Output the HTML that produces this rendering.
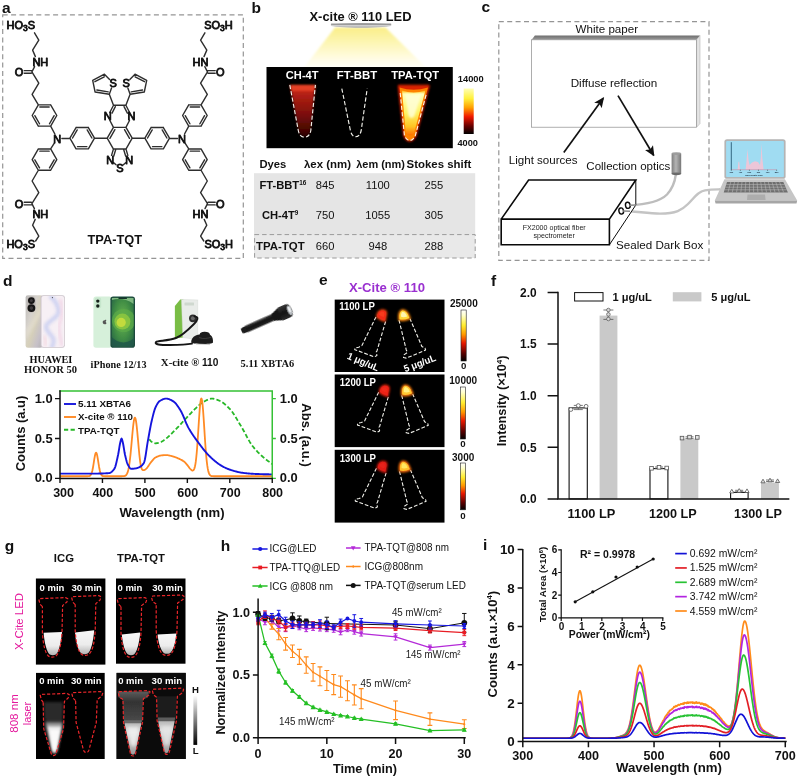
<!DOCTYPE html>
<html lang="en"><head><meta charset="utf-8"><title>TPA-TQT figure</title>
<style>
html,body{margin:0;padding:0;background:#fff;}
body{width:800px;height:778px;overflow:hidden;}
svg{display:block;font-family:"Liberation Sans", sans-serif;}
</style></head><body>
<svg width="800" height="778" viewBox="0 0 800 778">
<defs>
<linearGradient id="bCone" x1="0" y1="0" x2="0" y2="1"><stop offset="0" stop-color="#faee88"/><stop offset="0.4" stop-color="#fdf6b6"/><stop offset="0.8" stop-color="#fffce6"/><stop offset="1" stop-color="#fffff8"/></linearGradient>
<linearGradient id="bLamp" x1="0" y1="0" x2="0" y2="1"><stop offset="0" stop-color="#9a9a9a"/><stop offset="0.5" stop-color="#d2d2d2"/><stop offset="1" stop-color="#aaaaaa"/></linearGradient>
<linearGradient id="bHot" x1="0" y1="0" x2="0" y2="1"><stop offset="0" stop-color="#ffffb4"/><stop offset="0.22" stop-color="#fff03c"/><stop offset="0.42" stop-color="#ffa000"/><stop offset="0.62" stop-color="#f01800"/><stop offset="0.82" stop-color="#6a0000"/><stop offset="1" stop-color="#000"/></linearGradient>
<linearGradient id="bT1" x1="0" y1="0" x2="0" y2="1"><stop offset="0" stop-color="#e03a22"/><stop offset="0.14" stop-color="#b82216"/><stop offset="0.5" stop-color="#86120b"/><stop offset="0.85" stop-color="#4a0604"/><stop offset="1" stop-color="#240101"/></linearGradient>
<linearGradient id="bT3" x1="0" y1="0" x2="0" y2="1"><stop offset="0" stop-color="#ffb000"/><stop offset="0.08" stop-color="#ffffb4"/><stop offset="0.5" stop-color="#fff262"/><stop offset="0.8" stop-color="#ffc424"/><stop offset="1" stop-color="#ff7000"/></linearGradient>
<filter id="bBlur1" x="-30%" y="-30%" width="160%" height="160%"><feGaussianBlur stdDeviation="1.2"/></filter>
<filter id="bBlur2" x="-30%" y="-30%" width="160%" height="160%"><feGaussianBlur stdDeviation="2.2"/></filter>
<filter id="bBlur3" x="-30%" y="-30%" width="160%" height="160%"><feGaussianBlur stdDeviation="0.7"/></filter>
<clipPath id="bClip"><rect x="266.5" y="67" width="186.3" height="81.2"/></clipPath>
<linearGradient id="cTop" x1="0" y1="0" x2="0" y2="1"><stop offset="0" stop-color="#6e6e6e"/><stop offset="1" stop-color="#9a9a9a"/></linearGradient>
<linearGradient id="cCyl" x1="0" y1="0" x2="1" y2="0"><stop offset="0" stop-color="#7d7d7d"/><stop offset="0.45" stop-color="#b4b4b4"/><stop offset="1" stop-color="#777"/></linearGradient>
<marker id="cArr" viewBox="0 0 10 10" refX="8.5" refY="5" markerWidth="6.2" markerHeight="6.2" orient="auto-start-reverse"><path d="M0 0.6 L10 5 L0 9.4 L2.2 5 Z" fill="#111"/></marker>
<linearGradient id="dHwB" x1="0" y1="0" x2="1" y2="1"><stop offset="0" stop-color="#b9b7b6"/><stop offset="0.35" stop-color="#d6d2cc"/><stop offset="0.55" stop-color="#d6d0ba"/><stop offset="0.8" stop-color="#c6c0c8"/><stop offset="1" stop-color="#b2b0b0"/></linearGradient>
<linearGradient id="dHwF" x1="0" y1="0" x2="1" y2="1"><stop offset="0" stop-color="#ede6f2"/><stop offset="0.4" stop-color="#f6e9ef"/><stop offset="0.7" stop-color="#e4dcf2"/><stop offset="1" stop-color="#f3e4ea"/></linearGradient>
<radialGradient id="dIp" cx="0.5" cy="0.45" r="0.8"><stop offset="0" stop-color="#6db650"/><stop offset="0.5" stop-color="#3f8c44"/><stop offset="1" stop-color="#1c5246"/></radialGradient>
<linearGradient id="dFl" x1="0" y1="0" x2="0" y2="1"><stop offset="0" stop-color="#3a3a3a"/><stop offset="0.5" stop-color="#111"/><stop offset="1" stop-color="#2a2a2a"/></linearGradient>
<clipPath id="dHwClip"><rect x="41.5" y="295.9" width="22.6" height="51.2" rx="2"/></clipPath>
<clipPath id="dIpClip"><rect x="111.7" y="297.7" width="22" height="48.7" rx="1.8"/></clipPath>
<filter id="dSoft" x="-10%" y="-10%" width="120%" height="120%"><feGaussianBlur stdDeviation="0.5"/></filter>
<filter id="dSoft2" x="-20%" y="-20%" width="140%" height="140%"><feGaussianBlur stdDeviation="1.6"/></filter>
<clipPath id="dClip"><rect x="60" y="385" width="212.85" height="95"/></clipPath>
<linearGradient id="eHot" x1="0" y1="0" x2="0" y2="1"><stop offset="0" stop-color="#ffffff"/><stop offset="0.1" stop-color="#ffffd0"/><stop offset="0.3" stop-color="#ffee30"/><stop offset="0.48" stop-color="#ff9a00"/><stop offset="0.65" stop-color="#e81800"/><stop offset="0.85" stop-color="#5a0000"/><stop offset="1" stop-color="#000"/></linearGradient>
<filter id="eB" x="-30%" y="-30%" width="160%" height="160%"><feGaussianBlur stdDeviation="0.55"/></filter>
<filter id="eB2" x="-30%" y="-30%" width="160%" height="160%"><feGaussianBlur stdDeviation="0.9"/></filter>
<linearGradient id="gLiq" x1="0" y1="0" x2="0" y2="1"><stop offset="0" stop-color="#f8f8f8"/><stop offset="0.6" stop-color="#ececec"/><stop offset="1" stop-color="#b4b4b4"/></linearGradient>
<linearGradient id="gLiq2" x1="0" y1="0" x2="0" y2="1"><stop offset="0" stop-color="#b8b8b8"/><stop offset="0.3" stop-color="#dedede"/><stop offset="1" stop-color="#9c9c9c"/></linearGradient>
<linearGradient id="gBar" x1="0" y1="0" x2="0" y2="1"><stop offset="0" stop-color="#fff"/><stop offset="1" stop-color="#000"/></linearGradient>
<linearGradient id="gBody" x1="0" y1="0" x2="0" y2="1"><stop offset="0" stop-color="#5c5c5c"/><stop offset="0.35" stop-color="#333"/><stop offset="1" stop-color="#4a4a4a"/></linearGradient>
<filter id="gB" x="-30%" y="-30%" width="160%" height="160%"><feGaussianBlur stdDeviation="0.7"/></filter>
<filter id="gB1" x="-30%" y="-30%" width="160%" height="160%"><feGaussianBlur stdDeviation="1.1"/></filter>
<filter id="gB2" x="-30%" y="-30%" width="160%" height="160%"><feGaussianBlur stdDeviation="1.8"/></filter>
<clipPath id="iClip"><rect x="522.8" y="545" width="263.48" height="197.6"/></clipPath>
</defs>
<rect x="0" y="0" width="800" height="778" fill="#fff"/>
<g id="panel_a">
<path d="M56.8 115.5L50.65 126.15M50.65 126.15L38.35 126.15M38.35 126.15L32.2 115.5M32.2 115.5L38.35 104.85M38.35 104.85L50.65 104.85M50.65 104.85L56.8 115.5M39.83 107.05L49.17 107.05M54.16 115.68L49.48 123.77M39.52 123.77L34.84 115.68M56.8 159.6L50.65 170.25M50.65 170.25L38.35 170.25M38.35 170.25L32.2 159.6M32.2 159.6L38.35 148.95M38.35 148.95L50.65 148.95M50.65 148.95L56.8 159.6M39.83 151.15L49.17 151.15M54.16 159.78L49.48 167.87M39.52 167.87L34.84 159.78M94.5 138.2L88.35 148.85M88.35 148.85L76.05 148.85M76.05 148.85L69.9 138.2M69.9 138.2L76.05 127.55M76.05 127.55L88.35 127.55M88.35 127.55L94.5 138.2M86.87 146.65L77.53 146.65M72.54 138.02L77.22 129.93M87.18 129.93L91.86 138.02M50.65 126.15L54.85 134.01M50.65 148.95L54.49 142.97M69.9 138.2L61.9 138.45M38.35 104.85L32.1 94.4M32.1 94.4L38.8 83.2M38.8 83.2L31.9 71.9M24.2 70.6L31.9 70.6M24.2 73.2L31.3 73.2M31.9 71.9L34.6 66.6M35.4 56.6L32.6 50.1M32.6 50.1L38.8 40.1M38.8 40.1L34.5 32.8M38.35 170.25L32.1 181M32.1 181L38.8 192.7M38.8 192.7L31.9 203.6M24.2 202.3L31.3 202.3M24.2 204.9L31.9 204.9M31.9 203.6L34.4 208.6M35.2 219.4L32.6 225.2M32.6 225.2L38.8 236.1M38.8 236.1L35.6 241M107.2 138.2L113.45 127.37M109.9 138.32L114.9 129.66M113.45 127.37L119.7 127.37M107.2 138.2L113.45 149.03M113.45 149.03L119.7 149.03M94.5 138.2L107.2 138.2M113.45 127.37L109.91 120.49M109.8 112.48L113.5 105.2M112.03 113.16L115.36 106.61M113.5 105.2L119.7 105.2M113.5 105.2L109.3 94.3M109.3 94.3L111.54 87.92M109.56 79.48L104.4 74.2M104.4 74.2L92.7 80.4M92.7 80.4L95.1 92M95.1 92L109.3 94.3M104.26 76.76L94.9 81.72M96.87 90.06L108.23 91.9M113.45 149.03L111.56 155.4M115.66 149.68L113.77 156.05M113.49 162.62L116.09 164.69M182.6 115.5L188.75 126.15M188.75 126.15L201.05 126.15M201.05 126.15L207.2 115.5M207.2 115.5L201.05 104.85M201.05 104.85L188.75 104.85M188.75 104.85L182.6 115.5M199.57 107.05L190.23 107.05M185.24 115.68L189.92 123.77M199.88 123.77L204.56 115.68M182.6 159.6L188.75 170.25M188.75 170.25L201.05 170.25M201.05 170.25L207.2 159.6M207.2 159.6L201.05 148.95M201.05 148.95L188.75 148.95M188.75 148.95L182.6 159.6M199.57 151.15L190.23 151.15M185.24 159.78L189.92 167.87M199.88 167.87L204.56 159.78M144.9 138.2L151.05 148.85M151.05 148.85L163.35 148.85M163.35 148.85L169.5 138.2M169.5 138.2L163.35 127.55M163.35 127.55L151.05 127.55M151.05 127.55L144.9 138.2M152.53 146.65L161.87 146.65M166.86 138.02L162.18 129.93M152.22 129.93L147.54 138.02M188.75 126.15L184.55 134.01M188.75 148.95L184.91 142.97M169.5 138.2L177.5 138.45M201.05 104.85L207.3 94.4M207.3 94.4L200.6 83.2M200.6 83.2L207.5 71.9M215.2 70.6L207.5 70.6M215.2 73.2L208.1 73.2M207.5 71.9L204.8 66.6M204 56.6L206.8 50.1M206.8 50.1L200.6 40.1M200.6 40.1L204.9 32.8M201.05 170.25L207.3 181M207.3 181L200.6 192.7M200.6 192.7L207.5 203.6M215.2 202.3L208.1 202.3M215.2 204.9L207.5 204.9M207.5 203.6L205 208.6M204.2 219.4L206.8 225.2M206.8 225.2L200.6 236.1M200.6 236.1L203.8 241M132.2 138.2L125.95 127.37M129.5 138.32L124.5 129.66M125.95 127.37L119.7 127.37M132.2 138.2L125.95 149.03M125.95 149.03L119.7 149.03M144.9 138.2L132.2 138.2M125.95 127.37L129.49 120.49M129.6 112.48L125.9 105.2M127.37 113.16L124.04 106.61M125.9 105.2L119.7 105.2M125.9 105.2L130.1 94.3M130.1 94.3L127.86 87.92M129.84 79.48L135 74.2M135 74.2L146.7 80.4M146.7 80.4L144.3 92M144.3 92L130.1 94.3M135.14 76.76L144.5 81.72M142.53 90.06L131.17 91.9M125.95 149.03L127.84 155.4M123.74 149.68L125.63 156.05M125.91 162.62L123.31 164.69" fill="none" stroke="#2e2e2e" stroke-width="1.4" stroke-linecap="round"/>
<text x="57.3" y="142.55" font-size="11" font-weight="normal" fill="#111" text-anchor="middle" stroke="#111" stroke-width="0.85" stroke-linejoin="round">N</text>
<text x="182.1" y="142.55" font-size="11" font-weight="normal" fill="#111" text-anchor="middle" stroke="#111" stroke-width="0.85" stroke-linejoin="round">N</text>
<text x="19" y="75.95" font-size="11" font-weight="normal" fill="#111" text-anchor="middle" stroke="#111" stroke-width="0.85" stroke-linejoin="round">O</text>
<text x="220.4" y="75.95" font-size="11" font-weight="normal" fill="#111" text-anchor="middle" stroke="#111" stroke-width="0.85" stroke-linejoin="round">O</text>
<text x="32.4" y="65.55" font-size="11" font-weight="normal" fill="#111" text-anchor="start" stroke="#111" stroke-width="0.85" stroke-linejoin="round">NH</text>
<text x="208.5" y="65.55" font-size="11" font-weight="normal" fill="#111" text-anchor="end" stroke="#111" stroke-width="0.85" stroke-linejoin="round">HN</text>
<text x="6.6" y="28.75" font-size="11" font-weight="normal" fill="#111" text-anchor="start" stroke="#111" stroke-width="0.85" stroke-linejoin="round">HO<tspan dy="2.4" font-size="8.5">3</tspan><tspan dy="-2.4">S</tspan></text>
<text x="232.8" y="28.75" font-size="11" font-weight="normal" fill="#111" text-anchor="end" stroke="#111" stroke-width="0.85" stroke-linejoin="round">SO<tspan dy="2.4" font-size="8.5">3</tspan><tspan dy="-2.4">H</tspan></text>
<text x="19" y="207.55" font-size="11" font-weight="normal" fill="#111" text-anchor="middle" stroke="#111" stroke-width="0.85" stroke-linejoin="round">O</text>
<text x="220.4" y="207.55" font-size="11" font-weight="normal" fill="#111" text-anchor="middle" stroke="#111" stroke-width="0.85" stroke-linejoin="round">O</text>
<text x="32.4" y="217.75" font-size="11" font-weight="normal" fill="#111" text-anchor="start" stroke="#111" stroke-width="0.85" stroke-linejoin="round">NH</text>
<text x="208.5" y="217.75" font-size="11" font-weight="normal" fill="#111" text-anchor="end" stroke="#111" stroke-width="0.85" stroke-linejoin="round">HN</text>
<text x="6.4" y="247.75" font-size="11" font-weight="normal" fill="#111" text-anchor="start" stroke="#111" stroke-width="0.85" stroke-linejoin="round">HO<tspan dy="2.4" font-size="8.5">3</tspan><tspan dy="-2.4">S</tspan></text>
<text x="233" y="247.75" font-size="11" font-weight="normal" fill="#111" text-anchor="end" stroke="#111" stroke-width="0.85" stroke-linejoin="round">SO<tspan dy="2.4" font-size="8.5">3</tspan><tspan dy="-2.4">H</tspan></text>
<text x="107.8" y="120.35" font-size="11" font-weight="normal" fill="#111" text-anchor="middle" stroke="#111" stroke-width="0.85" stroke-linejoin="round">N</text>
<text x="131.6" y="120.35" font-size="11" font-weight="normal" fill="#111" text-anchor="middle" stroke="#111" stroke-width="0.85" stroke-linejoin="round">N</text>
<text x="113.2" y="87.15" font-size="11" font-weight="normal" fill="#111" text-anchor="middle" stroke="#111" stroke-width="0.85" stroke-linejoin="round">S</text>
<text x="126.2" y="87.15" font-size="11" font-weight="normal" fill="#111" text-anchor="middle" stroke="#111" stroke-width="0.85" stroke-linejoin="round">S</text>
<text x="110.2" y="163.95" font-size="11" font-weight="normal" fill="#111" text-anchor="middle" stroke="#111" stroke-width="0.85" stroke-linejoin="round">N</text>
<text x="129.2" y="163.95" font-size="11" font-weight="normal" fill="#111" text-anchor="middle" stroke="#111" stroke-width="0.85" stroke-linejoin="round">N</text>
<text x="120" y="171.75" font-size="11" font-weight="normal" fill="#111" text-anchor="middle" stroke="#111" stroke-width="0.85" stroke-linejoin="round">S</text>
<text x="114.8" y="243.7" font-size="12.8" font-weight="bold" fill="#111" text-anchor="middle" >TPA-TQT</text>
<rect x="2.7" y="14.8" width="240.6" height="243.6" fill="none" stroke="#959595" stroke-width="1.2" stroke-dasharray="5 3.4"/>
<text x="2" y="13.2" font-size="15.5" font-weight="bold" fill="#111" text-anchor="start" >a</text>
</g>
<g id="panel_b">
<text x="360.5" y="21" font-size="11.9" font-weight="bold" fill="#111" text-anchor="middle" textLength="102" lengthAdjust="spacingAndGlyphs" >X-cite ® 110 LED</text>
<polygon points="335,27.5 385.5,27.5 426,67.5 304,67.5" fill="url(#bCone)" stroke="none" stroke-width="1" filter="url(#bBlur1)"/>
<ellipse cx="361.1" cy="25.4" rx="30.4" ry="2.3" fill="url(#bLamp)"/>
<rect x="330.8" y="23.4" width="60.6" height="1.5" fill="#9a9a9a" stroke="none" stroke-width="1" rx="0.75"/>
<rect x="266.5" y="67" width="186.3" height="81.2" fill="#000" stroke="none" stroke-width="1" />
<g clip-path="url(#bClip)">
<path d="M289.8 84.9 L315.4 84.9 L310.8 130.5 Q309.6 137 304.7 137.2 Q299.6 137 298.3 130.5 Z" fill="url(#bT1)" filter="url(#bBlur1)"/>
<path d="M290.5 85.5 L315 85.5 L314 91 L292 91 Z" fill="#ee4a2c" filter="url(#bBlur1)" opacity="0.7"/>
<path d="M289.8 84.9 L298.3 130.5 Q299.6 137 304.7 137.2 Q309.6 137 310.8 130.5 L315.4 84.9" fill="none" stroke="#f0f0ea" stroke-width="1.15" stroke-dasharray="4.2 2.2"/>
<path d="M343 85.8 L366 85.8" stroke="#5a0a06" stroke-width="1.2" filter="url(#bBlur3)"/>
<path d="M341.8 88.6 L350.4 130.5 Q351.8 136.6 355.6 136.8 Q359.8 136.6 361.2 130.5 L367.2 88.6" fill="none" stroke="#f0f0ea" stroke-width="1.15" stroke-dasharray="4.2 2.2"/>
<path d="M399 86 L428.6 86 L415.4 135.4 Q413 140.4 409.7 140.5 Q406.2 140.4 404.4 135.4 Z" fill="#d82000" stroke="#d82000" stroke-width="2.4" stroke-linejoin="round" filter="url(#bBlur1)"/>
<path d="M399.6 87.4 Q413.5 92 428 87.4 L415.4 135.4 Q413 140.4 409.7 140.5 Q406.2 140.4 404.4 135.4 Z" fill="#ff8200" filter="url(#bBlur3)"/>
<path d="M402 90.4 Q413.5 94.4 425.4 90.4 L414.2 132.5 Q410 138.4 405.8 132.5 Z" fill="url(#bT3)" filter="url(#bBlur3)"/>
<path d="M405 93.5 Q413.5 96 421.8 93.5 L414.4 116 Q411.4 120 408.6 116 Z" fill="#ffffd8" filter="url(#bBlur1)" opacity="0.85"/>
<path d="M400.2 93 L404.4 135.4 Q406.2 140.4 409.7 140.5 Q413 140.4 415.4 135.4 L426.6 93" fill="none" stroke="#fbf7ea" stroke-width="1.1" stroke-dasharray="4.2 2.2"/>
</g>
<text x="302.2" y="78.9" font-size="10.9" font-weight="bold" fill="#fff" text-anchor="middle" textLength="32.7" lengthAdjust="spacingAndGlyphs" >CH-4T</text>
<text x="357" y="78.9" font-size="10.9" font-weight="bold" fill="#fff" text-anchor="middle" textLength="40.5" lengthAdjust="spacingAndGlyphs" >FT-BBT</text>
<text x="415.1" y="79.3" font-size="10.9" font-weight="bold" fill="#fff" text-anchor="middle" textLength="47.8" lengthAdjust="spacingAndGlyphs" >TPA-TQT</text>
<rect x="463.7" y="88.5" width="10" height="45.5" fill="url(#bHot)" stroke="none" stroke-width="1" />
<text x="457.8" y="82" font-size="9.4" font-weight="bold" fill="#111" text-anchor="start" textLength="25.9" lengthAdjust="spacingAndGlyphs" >14000</text>
<text x="457.5" y="145.6" font-size="9.4" font-weight="bold" fill="#111" text-anchor="start" textLength="20.5" lengthAdjust="spacingAndGlyphs" >4000</text>
<rect x="254" y="173.2" width="221.2" height="84.8" fill="#e5e5e5" stroke="none" stroke-width="1" />
<rect x="254.6" y="234.6" width="220.6" height="23.4" fill="#e9e9e9" stroke="#9a9a9a" stroke-width="1" stroke-dasharray="4.5 3"/>
<text x="259.4" y="168.2" font-size="11.2" font-weight="bold" fill="#111" text-anchor="start" textLength="26.9" lengthAdjust="spacingAndGlyphs" >Dyes</text>
<text x="304" y="168.2" font-size="11.2" font-weight="bold" fill="#111" text-anchor="start" textLength="47" lengthAdjust="spacingAndGlyphs" >λex (nm)</text>
<text x="356.2" y="168.2" font-size="11.2" font-weight="bold" fill="#111" text-anchor="start" textLength="48.8" lengthAdjust="spacingAndGlyphs" >λem (nm)</text>
<text x="406.6" y="168.2" font-size="11.2" font-weight="bold" fill="#111" text-anchor="start" textLength="64.7" lengthAdjust="spacingAndGlyphs" >Stokes shift</text>
<text x="259.4" y="188.8" font-size="11.2" font-weight="bold" fill="#111" text-anchor="start" >FT-BBT<tspan font-size="6.4" dy="-4">16</tspan></text>
<text x="261.9" y="219" font-size="11.2" font-weight="bold" fill="#111" text-anchor="start" >CH-4T<tspan font-size="6.4" dy="-4">9</tspan></text>
<text x="256" y="250.3" font-size="11.2" font-weight="bold" fill="#111" text-anchor="start" textLength="48.7" lengthAdjust="spacingAndGlyphs" >TPA-TQT</text>
<text x="325.2" y="188.8" font-size="11.2" font-weight="normal" fill="#111" text-anchor="middle" >845</text>
<text x="377.8" y="188.8" font-size="11.2" font-weight="normal" fill="#111" text-anchor="middle" >1100</text>
<text x="433.8" y="188.8" font-size="11.2" font-weight="normal" fill="#111" text-anchor="middle" >255</text>
<text x="325.2" y="219" font-size="11.2" font-weight="normal" fill="#111" text-anchor="middle" >750</text>
<text x="377.8" y="219" font-size="11.2" font-weight="normal" fill="#111" text-anchor="middle" >1055</text>
<text x="433.8" y="219" font-size="11.2" font-weight="normal" fill="#111" text-anchor="middle" >305</text>
<text x="325.2" y="250.3" font-size="11.2" font-weight="normal" fill="#111" text-anchor="middle" >660</text>
<text x="377.8" y="250.3" font-size="11.2" font-weight="normal" fill="#111" text-anchor="middle" >948</text>
<text x="433.8" y="250.3" font-size="11.2" font-weight="normal" fill="#111" text-anchor="middle" >288</text>
<text x="251.5" y="13.4" font-size="15.5" font-weight="bold" fill="#111" text-anchor="start" >b</text>
</g>
<g id="panel_c">
<rect x="498.8" y="21.6" width="210.2" height="238.8" fill="none" stroke="#959595" stroke-width="1.2" stroke-dasharray="5 3.4"/>
<text x="481.5" y="11.6" font-size="15.5" font-weight="bold" fill="#111" text-anchor="start" >c</text>
<polygon points="531.6,39.8 534.9,35.6 700,35.6 696.6,39.8" fill="url(#cTop)" stroke="none" stroke-width="1" />
<polygon points="696.6,39.8 700,35.6 700,123.6 696.6,127.2" fill="#e4e4e4" stroke="#aaa" stroke-width="0.5" />
<rect x="531.6" y="39.8" width="165" height="87.4" fill="#fff" stroke="#8c8c8c" stroke-width="0.7" />
<text x="606.8" y="32.9" font-size="11.6" font-weight="normal" fill="#111" text-anchor="middle" textLength="62.4" lengthAdjust="spacingAndGlyphs" >White paper</text>
<text x="614" y="87" font-size="11.3" font-weight="normal" fill="#111" text-anchor="middle" textLength="86.7" lengthAdjust="spacingAndGlyphs" >Diffuse reflection</text>
<line x1="563.8" y1="152.5" x2="603.2" y2="98.2" stroke="#111" stroke-width="1.7" marker-end="url(#cArr)"/>
<line x1="618" y1="95.6" x2="653.6" y2="155.2" stroke="#111" stroke-width="1.7" marker-end="url(#cArr)"/>
<text x="508.8" y="164.3" font-size="11.5" font-weight="normal" fill="#111" text-anchor="start" textLength="68.8" lengthAdjust="spacingAndGlyphs" >Light sources</text>
<text x="586.3" y="169.5" font-size="11.5" font-weight="normal" fill="#111" text-anchor="start" textLength="84" lengthAdjust="spacingAndGlyphs" >Collection optics</text>
<path d="M675.8 174.5 C675 181 673 188 667 194.5 C660 201.5 646 204.5 629 205.3" fill="none" stroke="#bdbdbd" stroke-width="2.4" />
<path d="M622 211 C634 211 648 213.6 660 213.6 C676 213.6 682 210 688 204 C694 198 698 191.5 705 190.4 C711 189.4 716 189.4 720 189.3" fill="none" stroke="#c4c4c4" stroke-width="2.4" />
<rect x="671.6" y="153.6" width="9.6" height="20.2" fill="url(#cCyl)" stroke="none" stroke-width="1" />
<ellipse cx="676.4" cy="153.6" rx="4.8" ry="1.3" fill="#9c9c9c"/>
<ellipse cx="676.4" cy="173.8" rx="4.8" ry="1.4" fill="#6a6a6a"/>
<polygon points="501.2,219.1 528.6,180 635.8,180 635.8,205 609.4,244.8 501.2,244.8" fill="#fff" stroke="none" stroke-width="1" />
<path d="M635.8 180 L635.8 205 L609.4 244.8" fill="none" stroke="#0a0a0a" stroke-width="1" />
<path d="M501.2 219.1 L609.4 219.1 L609.4 244.8 L501.2 244.8 ZM501.2 219.1 L528.6 180 L635.8 180 L609.4 219.1" fill="none" stroke="#0a0a0a" stroke-width="1.6" stroke-linejoin="miter"/>
<ellipse cx="621.2" cy="211" rx="2.3" ry="3.1" fill="#fff" stroke="#0a0a0a" stroke-width="1.4" transform="rotate(-12 621.2 211)"/>
<ellipse cx="627.8" cy="205.3" rx="2.3" ry="3.1" fill="#fff" stroke="#0a0a0a" stroke-width="1.4" transform="rotate(-12 627.8 205.3)"/>
<path d="M629.5 205.3 L636 205" fill="none" stroke="#8a8a8a" stroke-width="1.5" />
<path d="M623 211 L630 211.2" fill="none" stroke="#8a8a8a" stroke-width="1.5" />
<text x="554.2" y="230.3" font-size="7.1" font-weight="normal" fill="#222" text-anchor="middle" textLength="63" lengthAdjust="spacingAndGlyphs" >FX2000 optical fiber</text>
<text x="554.2" y="238.4" font-size="7.1" font-weight="normal" fill="#222" text-anchor="middle" >spectrometer</text>
<text x="616" y="248.8" font-size="11.6" font-weight="normal" fill="#111" text-anchor="start" textLength="87.2" lengthAdjust="spacingAndGlyphs" >Sealed Dark Box</text>
<polygon points="724.4,179.3 784.9,179.3 797.2,200.6 714.8,200.6" fill="#c6c6c6" stroke="none" stroke-width="1" />
<polygon points="714.8,200.6 797.2,200.6 796.5,203.6 715.6,203.6" fill="#a6a6a6" stroke="none" stroke-width="1" />
<polygon points="727,182 783.3,182 787.9,192.4 723.7,192.4" fill="#6e6e6e" stroke="none" stroke-width="1" />
<path d="M726.17 184.6L784.45 184.6M725.35 187.2L785.6 187.2M724.52 189.8L786.75 189.8M730.75 182L727.98 192.4M734.51 182L732.26 192.4M738.26 182L736.54 192.4M742.01 182L740.82 192.4M745.77 182L745.1 192.4M749.52 182L749.38 192.4M753.27 182L753.66 192.4M757.03 182L757.94 192.4M760.78 182L762.22 192.4M764.53 182L766.5 192.4M768.29 182L770.78 192.4M772.04 182L775.06 192.4M775.79 182L779.34 192.4M779.55 182L783.62 192.4" fill="none" stroke="#bdbdbd" stroke-width="0.55" />
<polygon points="747.5,194.4 765,194.4 765.6,200 747,200" fill="#adadad" stroke="none" stroke-width="1" />
<rect x="724.4" y="139.2" width="61.2" height="39.6" fill="#b4b4b4" stroke="none" stroke-width="1" rx="2.6"/>
<rect x="726.1" y="140.9" width="57.8" height="36.2" fill="#a0dcf2" stroke="none" stroke-width="1" rx="1.2"/>
<path d="M737.6 169.7 L738.4 162 L739.2 161.6 L740 169.7 Z M745.6 169.7 L746.6 160 L747.5 149 L748.5 160 L749.5 165 L752 162.5 L755 161.2 L758 162 L760 165 L760.8 158 L761.5 143.6 L762.3 158 L763.6 169.7 Z" fill="#ecc6d8" stroke="none" stroke-width="1" />
<line x1="731.3" y1="169.7" x2="776.6" y2="169.7" stroke="#c890a8" stroke-width="0.6" />
<line x1="731.3" y1="142.2" x2="731.3" y2="169.9" stroke="#1a4a66" stroke-width="0.8" />
<path d="M731.3 169.7L731.3 170.9M740.36 169.7L740.36 170.9M749.42 169.7L749.42 170.9M758.48 169.7L758.48 170.9M767.54 169.7L767.54 170.9M776.6 169.7L776.6 170.9" fill="none" stroke="#355" stroke-width="0.6" />
<text x="731.3" y="173.2" font-size="2.2" font-weight="bold" fill="#234" text-anchor="middle" >300</text>
<text x="740.36" y="173.2" font-size="2.2" font-weight="bold" fill="#234" text-anchor="middle" >400</text>
<text x="749.42" y="173.2" font-size="2.2" font-weight="bold" fill="#234" text-anchor="middle" >500</text>
<text x="758.48" y="173.2" font-size="2.2" font-weight="bold" fill="#234" text-anchor="middle" >600</text>
<text x="767.54" y="173.2" font-size="2.2" font-weight="bold" fill="#234" text-anchor="middle" >700</text>
<text x="776.6" y="173.2" font-size="2.2" font-weight="bold" fill="#234" text-anchor="middle" >800</text>
<text x="754" y="175.6" font-size="2.2" font-weight="bold" fill="#234" text-anchor="middle" >wavelength (nm)</text>
</g>
<g id="panel_d">
<text x="3" y="285.8" font-size="15.5" font-weight="bold" fill="#111" text-anchor="start" >d</text>
<g filter="url(#dSoft)">
<rect x="25.6" y="295.2" width="17" height="52.6" fill="url(#dHwB)" stroke="none" stroke-width="1" rx="2.4"/>
<path d="M26 330 L41 306 L41 314 L26 340 Z" fill="#e8e2d4" stroke="none" stroke-width="1" opacity="0.55" filter="url(#dSoft2)"/>
<rect x="40.6" y="295.2" width="24.2" height="52.6" fill="#cbc3ca" stroke="none" stroke-width="1" rx="2.4"/>
<rect x="41.5" y="295.9" width="22.6" height="51.2" fill="#f7f0f5" stroke="none" stroke-width="1" rx="2"/>
<g clip-path="url(#dHwClip)">
<path d="M51 297 C56 301 58 306 58.6 311 C59 317 50 320 46.5 325 C44 329 50 333 53 338 C55 342 52 346 52 347" fill="none" stroke="#c6ccf0" stroke-width="4.2" opacity="0.8" filter="url(#dSoft2)" stroke-linecap="round"/>
<path d="M60 299 C63 306 63 316 60 322 C57 328 61 338 62 346" fill="none" stroke="#f1cfe2" stroke-width="2.6" opacity="0.8" filter="url(#dSoft2)"/>
<path d="M43.5 336 C46 338 46 343 45 346" fill="none" stroke="#f3d2dc" stroke-width="2.4" opacity="0.8" filter="url(#dSoft2)"/>
</g>
<rect x="27.2" y="296.2" width="8.4" height="16.4" fill="#b4b0ae" stroke="none" stroke-width="1" rx="4.2" opacity="0.8"/>
<circle cx="31.4" cy="300.6" r="3.4" fill="#151313" stroke="none" stroke-width="1" />
<circle cx="31.4" cy="308.1" r="3.9" fill="#151313" stroke="none" stroke-width="1" />
<circle cx="31.4" cy="300.6" r="1.5" fill="#3e3a3c" stroke="none" stroke-width="1" />
<circle cx="31.4" cy="308.1" r="1.8" fill="#3e3a3c" stroke="none" stroke-width="1" />
<circle cx="52.4" cy="297.6" r="0.6" fill="#444" stroke="none" stroke-width="1" />
</g>
<text x="50.9" y="362.5" font-size="10" font-weight="bold" fill="#111" text-anchor="middle" font-family='"Liberation Serif", serif' textLength="43" lengthAdjust="spacingAndGlyphs" >HUAWEI</text>
<text x="50.6" y="372.7" font-size="10.4" font-weight="bold" fill="#111" text-anchor="middle" font-family='"Liberation Serif", serif' textLength="53" lengthAdjust="spacingAndGlyphs" >HONOR 50</text>
<g filter="url(#dSoft)">
<rect x="93.4" y="296.4" width="18.5" height="51.3" fill="#d6f0da" stroke="none" stroke-width="1" rx="2.6"/>
<rect x="94.6" y="297.6" width="6.6" height="10.6" fill="#c6e6cc" stroke="none" stroke-width="1" rx="1.8"/>
<circle cx="97.8" cy="301.1" r="1.7" fill="#18221c" stroke="none" stroke-width="1" />
<circle cx="97.8" cy="306" r="1.7" fill="#18221c" stroke="none" stroke-width="1" />
<path d="M104.2 320.6 c0.8 -0.9 1.6 -0.9 2.2 -0.4 c-1 0.8 -0.8 2.2 0.2 2.7 c-0.5 1.3 -1.4 1.7 -2 1.2 c-0.7 0.5 -1.5 -0.1 -1.8 -1.3 c-0.4 -1.3 0.3 -2.6 1.4 -2.2 Z" fill="#555" stroke="none" stroke-width="1" />
<rect x="110.4" y="296.4" width="24.6" height="51.3" fill="#1d4a3c" stroke="none" stroke-width="1" rx="2.8"/>
<rect x="111.7" y="297.7" width="22" height="48.7" fill="url(#dIp)" stroke="none" stroke-width="1" rx="1.8"/>
<circle cx="123.6" cy="320.5" r="11.6" fill="#5cab48" stroke="none" stroke-width="1" opacity="0.75" clip-path="url(#dIpClip)"/>
<circle cx="122.4" cy="321.6" r="8" fill="#8ec840" stroke="none" stroke-width="1" opacity="0.85"/>
<circle cx="121.2" cy="322.4" r="4.6" fill="#cade3e" stroke="none" stroke-width="1" opacity="0.9"/>
<path d="M112 300 C118 298 128 299 133.5 304 L133.5 298 L112 298 Z" fill="#9fd49a" stroke="none" stroke-width="1" opacity="0.7"/>
<path d="M111.7 337 C118 344 128 344 133.7 338 L133.7 346.4 L111.7 346.4 Z" fill="#1f5548" stroke="none" stroke-width="1" opacity="0.8"/>
<rect x="118.4" y="297.2" width="8.6" height="1.9" fill="#14362c" stroke="none" stroke-width="1" rx="0.9"/>
</g>
<text x="118.6" y="367.8" font-size="10.3" font-weight="bold" fill="#111" text-anchor="middle" font-family='"Liberation Serif", serif' textLength="56" lengthAdjust="spacingAndGlyphs" >iPhone 12/13</text>
<g filter="url(#dSoft)">
<polygon points="174.9,306 180.2,299.4 183.4,299.4 183,337.6 174.9,338.4" fill="#79bd44" stroke="none" stroke-width="1" />
<polygon points="181.4,299.4 197.7,299.9 197.7,339.7 182.8,337.5" fill="#e9ece9" stroke="#d0d4d0" stroke-width="0.4" />
<rect x="184.5" y="302.4" width="9.5" height="3.2" fill="#cfd8cf" stroke="none" stroke-width="1" rx="0.5"/>
<circle cx="192.9" cy="318.3" r="3.9" fill="#2e2e2e" stroke="none" stroke-width="1" />
<circle cx="192.9" cy="318.3" r="2" fill="#6a6a6a" stroke="none" stroke-width="1" />
<path d="M194.5 316.4 C199 317 198 320 194 324 C188 330 182 336 176 338 C168 341 158 340.5 156 342 C154 344.6 160 345 170 345 C180 345 188 344.4 192 343.6" fill="none" stroke="#151515" stroke-width="1.9" stroke-linecap="round"/>
<path d="M191.2 342.6 C191.2 337.6 195 335 199.6 334.6 C200 332.6 201.6 331.8 204.6 331.8 C208 331.8 209.8 332.8 210 334.8 C212.4 336 213.2 339 213 342.4 C213 344.4 191.2 344.6 191.2 342.6 Z" fill="#1a1a1a" stroke="none" stroke-width="1" />
<path d="M199 337.6 C203 339 208 338.6 211.6 337" fill="none" stroke="#4c4c4c" stroke-width="0.7" />
<path d="M196 344 L210 344.6" fill="none" stroke="#bdbdbd" stroke-width="0.8" />
</g>
<text x="160.8" y="365.5" font-size="10.3" font-weight="bold" fill="#111" text-anchor="start" font-family='"Liberation Serif", serif' textLength="38.6" lengthAdjust="spacingAndGlyphs" >X-cite ®</text>
<text x="202" y="365.5" font-size="10.2" font-weight="bold" fill="#111" text-anchor="start" textLength="16.4" lengthAdjust="spacingAndGlyphs" >110</text>
<g filter="url(#dSoft)" transform="translate(241.6 331.2) rotate(-23.8)">
<path d="M0 -1.6 Q0 -3 2 -3.1 L6 -3.3 L6 3.3 L2 3.1 Q0 3 0 1.6 Z" fill="#1c1c1c" stroke="none" stroke-width="1" />
<rect x="5.5" y="-3.5" width="29.5" height="7" fill="url(#dFl)" stroke="none" stroke-width="1" />
<polygon points="34,-3.6 42,-6.6 42,6.6 34,3.6" fill="#181818" stroke="none" stroke-width="1" />
<rect x="41.5" y="-6.9" width="10.5" height="13.8" fill="url(#dFl)" stroke="none" stroke-width="1" rx="1.6"/>
<ellipse cx="52" cy="0" rx="2.6" ry="6.6" fill="#222"/>
<ellipse cx="52.3" cy="0.2" rx="2.0" ry="5.0" fill="#b9bec2"/>
<ellipse cx="52.5" cy="-0.6" rx="1.1" ry="2.8" fill="#f2f4f6"/>
<rect x="14" y="-3.4" width="14" height="1.3" fill="#5a5a5a" stroke="none" stroke-width="1" opacity="0.55"/>
</g>
<text x="267.4" y="367.4" font-size="10.3" font-weight="bold" fill="#111" text-anchor="middle" font-family='"Liberation Serif", serif' textLength="53.6" lengthAdjust="spacingAndGlyphs" >5.11 XBTA6</text>
<g clip-path="url(#dClip)">
<polyline points="149.14,439.3 149.57,439.72 149.99,440.17 150.42,440.63 150.84,441.07 151.27,441.48 151.69,441.82 152.12,442.09 152.54,442.31 152.97,442.53 153.39,442.73 153.81,442.91 154.24,443.06 154.66,443.18 155.09,443.26 155.51,443.29 155.94,443.28 156.36,443.24 156.79,443.19 157.21,443.12 157.63,443.04 158.06,442.94 158.48,442.84 158.91,442.72 159.33,442.61 159.76,442.49 160.18,442.36 160.61,442.19 161.03,442 161.46,441.78 161.88,441.54 162.3,441.28 162.73,441.01 163.15,440.72 163.58,440.42 164,440.11 164.43,439.79 164.85,439.47 165.28,439.14 165.7,438.82 166.12,438.5 166.55,438.18 166.97,437.84 167.4,437.49 167.82,437.13 168.25,436.76 168.67,436.38 169.1,435.99 169.52,435.59 169.95,435.19 170.37,434.77 170.79,434.36 171.22,433.94 171.64,433.51 172.07,433.09 172.49,432.66 172.92,432.23 173.34,431.8 173.77,431.37 174.19,430.94 174.62,430.52 175.04,430.1 175.46,429.67 175.89,429.23 176.31,428.8 176.74,428.36 177.16,427.92 177.59,427.47 178.01,427.02 178.44,426.57 178.86,426.12 179.28,425.66 179.71,425.2 180.13,424.74 180.56,424.28 180.98,423.82 181.41,423.36 181.83,422.9 182.26,422.44 182.68,421.97 183.1,421.51 183.53,421.05 183.95,420.59 184.38,420.13 184.8,419.67 185.23,419.21 185.65,418.76 186.08,418.3 186.5,417.85 186.93,417.4 187.35,416.95 187.77,416.51 188.2,416.06 188.62,415.6 189.05,415.15 189.47,414.69 189.9,414.23 190.32,413.77 190.75,413.32 191.17,412.86 191.59,412.41 192.02,411.96 192.44,411.51 192.87,411.07 193.29,410.64 193.72,410.21 194.14,409.78 194.57,409.37 194.99,408.96 195.42,408.56 195.84,408.18 196.26,407.79 196.69,407.4 197.11,407.02 197.54,406.63 197.96,406.24 198.39,405.85 198.81,405.47 199.24,405.09 199.66,404.72 200.09,404.36 200.51,404 200.93,403.66 201.36,403.32 201.78,403 202.21,402.69 202.63,402.4 203.06,402.12 203.48,401.86 203.91,401.61 204.33,401.39 204.75,401.18 205.18,400.96 205.6,400.75 206.03,400.53 206.45,400.31 206.88,400.1 207.3,399.9 207.73,399.71 208.15,399.52 208.57,399.35 209,399.19 209.42,399.04 209.85,398.91 210.27,398.81 210.7,398.72 211.12,398.65 211.55,398.61 211.97,398.6 212.4,398.61 212.82,398.64 213.24,398.69 213.67,398.76 214.09,398.84 214.52,398.94 214.94,399.05 215.37,399.17 215.79,399.31 216.22,399.45 216.64,399.6 217.06,399.76 217.49,399.92 217.91,400.09 218.34,400.26 218.76,400.43 219.19,400.59 219.61,400.77 220.04,400.97 220.46,401.18 220.89,401.41 221.31,401.65 221.73,401.91 222.16,402.19 222.58,402.48 223.01,402.78 223.43,403.09 223.86,403.42 224.28,403.76 224.71,404.11 225.13,404.47 225.56,404.84 225.98,405.22 226.4,405.61 226.83,406.01 227.25,406.42 227.68,406.83 228.1,407.25 228.53,407.67 228.95,408.1 229.38,408.54 229.8,408.97 230.22,409.43 230.65,409.91 231.07,410.42 231.5,410.95 231.92,411.5 232.35,412.07 232.77,412.67 233.2,413.28 233.62,413.91 234.04,414.55 234.47,415.21 234.89,415.88 235.32,416.56 235.74,417.25 236.17,417.95 236.59,418.66 237.02,419.38 237.44,420.1 237.87,420.82 238.29,421.54 238.71,422.26 239.14,422.99 239.56,423.7 239.99,424.42 240.41,425.13 240.84,425.83 241.26,426.53 241.69,427.23 242.11,427.95 242.53,428.69 242.96,429.44 243.38,430.21 243.81,430.98 244.23,431.77 244.66,432.56 245.08,433.36 245.51,434.15 245.93,434.96 246.36,435.75 246.78,436.55 247.2,437.34 247.63,438.12 248.05,438.9 248.48,439.66 248.9,440.41 249.33,441.14 249.75,441.86 250.18,442.56 250.6,443.23 251.03,443.89 251.45,444.51 251.87,445.11 252.3,445.68 252.72,446.23 253.15,446.77 253.57,447.3 254,447.82 254.42,448.32 254.85,448.82 255.27,449.31 255.69,449.79 256.12,450.27 256.54,450.73 256.97,451.19 257.39,451.64 257.82,452.08 258.24,452.51 258.67,452.94 259.09,453.36 259.51,453.78 259.94,454.18 260.36,454.59 260.79,454.99 261.21,455.38 261.64,455.77 262.06,456.15 262.49,456.53 262.91,456.91 263.34,457.28 263.76,457.65 264.18,458.02 264.61,458.37 265.03,458.72 265.46,459.05 265.88,459.39 266.31,459.71 266.73,460.03 267.16,460.35 267.58,460.66 268,460.97 268.43,461.27 268.85,461.58 269.28,461.88 269.7,462.18 270.13,462.49 270.55,462.79 270.98,463.1 271.4,463.41 271.83,463.72 272.25,464.04" fill="none" stroke="#27b827" stroke-width="1.8" stroke-dasharray="4.4 2.2" stroke-linejoin="round"/>
<polyline points="60,476.25 60.42,476.25 60.85,476.25 61.27,476.25 61.7,476.25 62.12,476.25 62.55,476.25 62.97,476.25 63.4,476.25 63.82,476.25 64.25,476.25 64.67,476.25 65.09,476.25 65.52,476.25 65.94,476.25 66.37,476.25 66.79,476.25 67.22,476.25 67.64,476.25 68.07,476.25 68.49,476.25 68.91,476.25 69.34,476.25 69.76,476.25 70.19,476.25 70.61,476.25 71.04,476.25 71.46,476.25 71.89,476.25 72.31,476.25 72.73,476.25 73.16,476.25 73.58,476.25 74.01,476.25 74.43,476.25 74.86,476.25 75.28,476.25 75.71,476.25 76.13,476.25 76.56,476.25 76.98,476.25 77.4,476.25 77.83,476.25 78.25,476.25 78.68,476.25 79.1,476.25 79.53,476.25 79.95,476.25 80.38,476.25 80.8,476.25 81.22,476.25 81.65,476.25 82.07,476.25 82.5,476.25 82.92,476.25 83.35,476.25 83.77,476.25 84.2,476.25 84.62,476.25 85.05,476.25 85.47,476.25 85.89,476.24 86.32,476.24 86.74,476.24 87.17,476.24 87.59,476.23 88.02,476.22 88.44,476.19 88.87,476.13 89.29,476.04 89.72,475.88 90.14,475.62 90.56,475.21 90.99,474.6 91.41,473.73 91.84,472.54 92.26,470.98 92.69,469.04 93.11,466.73 93.54,464.15 93.96,461.42 94.38,458.73 94.81,456.31 95.23,454.38 95.66,453.14 96.08,452.7 96.51,453.14 96.93,454.38 97.36,456.31 97.78,458.73 98.2,461.42 98.63,464.15 99.05,466.73 99.48,469.04 99.9,470.98 100.33,472.54 100.75,473.73 101.18,474.6 101.6,475.21 102.03,475.62 102.45,475.88 102.87,476.04 103.3,476.13 103.72,476.19 104.15,476.22 104.57,476.23 105,476.24 105.42,476.24 105.85,476.24 106.27,476.24 106.69,476.25 107.12,476.25 107.54,476.25 107.97,476.25 108.39,476.25 108.82,476.25 109.24,476.25 109.67,476.25 110.09,476.25 110.52,476.25 110.94,476.25 111.36,476.25 111.79,476.25 112.21,476.25 112.64,476.25 113.06,476.25 113.49,476.25 113.91,476.25 114.34,476.25 114.76,476.25 115.19,476.25 115.61,476.25 116.03,476.25 116.46,476.25 116.88,476.25 117.31,476.25 117.73,476.25 118.16,476.25 118.58,476.25 119.01,476.25 119.43,476.25 119.85,476.24 120.28,476.24 120.7,476.24 121.13,476.24 121.55,476.24 121.98,476.23 122.4,476.22 122.83,476.21 123.25,476.19 123.67,476.15 124.1,476.09 124.52,476 124.95,475.87 125.37,475.67 125.8,475.38 126.22,474.98 126.65,474.42 127.07,473.67 127.5,472.67 127.92,471.36 128.34,469.71 128.77,467.64 129.19,465.14 129.62,462.16 130.04,458.71 130.47,454.81 130.89,450.52 131.32,445.92 131.74,441.15 132.16,436.37 132.59,431.75 133.01,427.49 133.44,423.8 133.86,420.85 134.29,418.79 134.71,417.73 135.14,417.73 135.56,418.79 135.99,420.85 136.41,423.8 136.83,427.49 137.26,431.75 137.68,436.37 138.11,441.15 138.53,445.92 138.96,450.52 139.38,454.81 139.81,458.71 140.23,462.05 140.66,464.7 141.08,466.73 141.5,468.19 141.93,469.17 142.35,469.77 142.78,470.07 143.2,470.18 143.63,470.19 144.05,470.13 144.48,469.96 144.9,469.73 145.32,469.44 145.75,469.1 146.17,468.72 146.6,468.3 147.02,467.83 147.45,467.31 147.87,466.74 148.3,466.14 148.72,465.51 149.14,464.87 149.57,464.23 149.99,463.6 150.42,462.99 150.84,462.41 151.27,461.88 151.69,461.37 152.12,460.85 152.54,460.33 152.97,459.82 153.39,459.33 153.81,458.87 154.24,458.45 154.66,458.07 155.09,457.75 155.51,457.49 155.94,457.27 156.36,457.06 156.79,456.86 157.21,456.66 157.63,456.48 158.06,456.31 158.48,456.14 158.91,456 159.33,455.86 159.76,455.73 160.18,455.62 160.61,455.53 161.03,455.45 161.46,455.39 161.88,455.34 162.3,455.3 162.73,455.26 163.15,455.23 163.58,455.2 164,455.17 164.43,455.15 164.85,455.13 165.28,455.11 165.7,455.1 166.12,455.1 166.55,455.11 166.97,455.13 167.4,455.17 167.82,455.23 168.25,455.29 168.67,455.37 169.1,455.45 169.52,455.54 169.95,455.64 170.37,455.75 170.79,455.86 171.22,455.97 171.64,456.08 172.07,456.19 172.49,456.3 172.92,456.41 173.34,456.53 173.77,456.66 174.19,456.8 174.62,456.94 175.04,457.09 175.46,457.25 175.89,457.42 176.31,457.59 176.74,457.76 177.16,457.94 177.59,458.13 178.01,458.31 178.44,458.5 178.86,458.69 179.28,458.88 179.71,459.07 180.13,459.27 180.56,459.47 180.98,459.68 181.41,459.9 181.83,460.13 182.26,460.37 182.68,460.62 183.1,460.89 183.53,461.18 183.95,461.48 184.38,461.82 184.8,462.21 185.23,462.63 185.65,463.09 186.08,463.57 186.5,464.06 186.93,464.57 187.35,465.07 187.77,465.6 188.2,466.17 188.62,466.76 189.05,467.35 189.47,467.93 189.9,468.49 190.32,468.98 190.75,469.43 191.17,469.83 191.59,470.16 192.02,470.41 192.44,470.55 192.87,470.53 193.29,470.3 193.72,469.83 194.14,469.07 194.57,467.92 194.99,466.28 195.42,464.06 195.84,461.16 196.26,457.52 196.69,453.12 197.11,447.97 197.54,442.14 197.96,435.75 198.39,429.05 198.81,422.36 199.24,415.96 199.66,410.16 200.09,405.27 200.51,401.55 200.93,399.23 201.36,398.44 201.78,399.23 202.21,401.55 202.63,405.27 203.06,410.16 203.48,415.96 203.91,422.36 204.33,429.05 204.75,435.75 205.18,442.2 205.6,448.2 206.03,453.61 206.45,458.35 206.88,462.38 207.3,465.72 207.73,468.41 208.15,470.54 208.57,472.17 209,473.39 209.42,474.29 209.85,474.93 210.27,475.38 210.7,475.69 211.12,475.89 211.55,476.03 211.97,476.11 212.4,476.17 212.82,476.2 213.24,476.22 213.67,476.23 214.09,476.24 214.52,476.24 214.94,476.24 215.37,476.24 215.79,476.24 216.22,476.25 216.64,476.25 217.06,476.25 217.49,476.25 217.91,476.25 218.34,476.25 218.76,476.25 219.19,476.25 219.61,476.25 220.04,476.25 220.46,476.25 220.89,476.25 221.31,476.25 221.73,476.25 222.16,476.25 222.58,476.25 223.01,476.25 223.43,476.25 223.86,476.25 224.28,476.25 224.71,476.25 225.13,476.25 225.56,476.25 225.98,476.25 226.4,476.25 226.83,476.25 227.25,476.25 227.68,476.25 228.1,476.25 228.53,476.25 228.95,476.25 229.38,476.25 229.8,476.25 230.22,476.25 230.65,476.25 231.07,476.25 231.5,476.25 231.92,476.25 232.35,476.25 232.77,476.25 233.2,476.25 233.62,476.25 234.04,476.25 234.47,476.25 234.89,476.25 235.32,476.25 235.74,476.25 236.17,476.25 236.59,476.25 237.02,476.25 237.44,476.25 237.87,476.25 238.29,476.25 238.71,476.25 239.14,476.25 239.56,476.25 239.99,476.25 240.41,476.25 240.84,476.25 241.26,476.25 241.69,476.25 242.11,476.25 242.53,476.25 242.96,476.25 243.38,476.25 243.81,476.25 244.23,476.25 244.66,476.25 245.08,476.25 245.51,476.25 245.93,476.25 246.36,476.25 246.78,476.25 247.2,476.25 247.63,476.25 248.05,476.25 248.48,476.25 248.9,476.25 249.33,476.25 249.75,476.25 250.18,476.25 250.6,476.25 251.03,476.25 251.45,476.25 251.87,476.25 252.3,476.25 252.72,476.25 253.15,476.25 253.57,476.25 254,476.25 254.42,476.25 254.85,476.25 255.27,476.25 255.69,476.25 256.12,476.25 256.54,476.25 256.97,476.25 257.39,476.25 257.82,476.25 258.24,476.25 258.67,476.25 259.09,476.25 259.51,476.25 259.94,476.25 260.36,476.25 260.79,476.25 261.21,476.25 261.64,476.25 262.06,476.25 262.49,476.25 262.91,476.25 263.34,476.25 263.76,476.25 264.18,476.25 264.61,476.25 265.03,476.25 265.46,476.25 265.88,476.25 266.31,476.25 266.73,476.25 267.16,476.25 267.58,476.25 268,476.25 268.43,476.25 268.85,476.25 269.28,476.25 269.7,476.25 270.13,476.25 270.55,476.25 270.98,476.25 271.4,476.25 271.83,476.25 272.25,476.25" fill="none" stroke="#ff8a24" stroke-width="1.8" stroke-linejoin="round"/>
<polyline points="60,473.61 60.42,473.61 60.85,473.61 61.27,473.61 61.7,473.61 62.12,473.61 62.55,473.61 62.97,473.61 63.4,473.61 63.82,473.61 64.25,473.61 64.67,473.61 65.09,473.61 65.52,473.61 65.94,473.61 66.37,473.61 66.79,473.61 67.22,473.61 67.64,473.61 68.07,473.61 68.49,473.61 68.91,473.61 69.34,473.61 69.76,473.61 70.19,473.61 70.61,473.61 71.04,473.61 71.46,473.61 71.89,473.61 72.31,473.61 72.73,473.61 73.16,473.61 73.58,473.61 74.01,473.61 74.43,473.61 74.86,473.61 75.28,473.61 75.71,473.61 76.13,473.61 76.56,473.61 76.98,473.61 77.4,473.61 77.83,473.61 78.25,473.61 78.68,473.61 79.1,473.61 79.53,473.61 79.95,473.61 80.38,473.61 80.8,473.61 81.22,473.61 81.65,473.61 82.07,473.61 82.5,473.61 82.92,473.61 83.35,473.61 83.77,473.61 84.2,473.61 84.62,473.61 85.05,473.61 85.47,473.61 85.89,473.61 86.32,473.61 86.74,473.61 87.17,473.61 87.59,473.61 88.02,473.61 88.44,473.61 88.87,473.61 89.29,473.61 89.72,473.61 90.14,473.61 90.56,473.61 90.99,473.61 91.41,473.61 91.84,473.61 92.26,473.61 92.69,473.61 93.11,473.61 93.54,473.61 93.96,473.61 94.38,473.61 94.81,473.61 95.23,473.61 95.66,473.61 96.08,473.6 96.51,473.6 96.93,473.6 97.36,473.59 97.78,473.59 98.2,473.58 98.63,473.57 99.05,473.56 99.48,473.56 99.9,473.55 100.33,473.54 100.75,473.52 101.18,473.51 101.6,473.5 102.03,473.49 102.45,473.47 102.87,473.46 103.3,473.44 103.72,473.42 104.15,473.4 104.57,473.38 105,473.36 105.42,473.34 105.85,473.32 106.27,473.3 106.69,473.27 107.12,473.25 107.54,473.22 107.97,473.19 108.39,473.16 108.82,473.13 109.24,473.08 109.67,472.96 110.09,472.8 110.52,472.59 110.94,472.33 111.36,472.03 111.79,471.68 112.21,471.29 112.64,470.87 113.06,470.41 113.49,469.91 113.91,469.38 114.34,468.82 114.76,468.07 115.19,466.99 115.61,465.64 116.03,464.06 116.46,462.3 116.88,460.41 117.31,458.44 117.73,456.44 118.16,454.46 118.58,452.23 119.01,449.64 119.43,446.97 119.85,444.49 120.28,442.49 120.7,440.71 121.13,439.16 121.55,438.5 121.98,439.16 122.4,440.71 122.83,442.49 123.25,444.51 123.67,447.02 124.1,449.71 124.52,452.3 124.95,454.46 125.37,456.31 125.8,458.1 126.22,459.81 126.65,461.37 127.07,462.76 127.5,463.93 127.92,464.83 128.34,465.58 128.77,466.31 129.19,466.98 129.62,467.58 130.04,468.09 130.47,468.48 130.89,468.74 131.32,468.82 131.74,468.82 132.16,468.8 132.59,468.78 133.01,468.74 133.44,468.7 133.86,468.66 134.29,468.6 134.71,468.55 135.14,468.49 135.56,468.42 135.99,468.35 136.41,468.26 136.83,468.15 137.26,468.02 137.68,467.88 138.11,467.72 138.53,467.54 138.96,467.35 139.38,467.14 139.81,466.92 140.23,466.68 140.66,466.43 141.08,466.15 141.5,465.82 141.93,465.44 142.35,464.99 142.78,464.48 143.2,463.88 143.63,463.21 144.05,462.44 144.48,461.28 144.9,459.53 145.32,457.3 145.75,454.72 146.17,451.92 146.6,449.01 147.02,446.12 147.45,443.37 147.87,440.89 148.3,438.57 148.72,436.21 149.14,433.85 149.57,431.51 149.99,429.21 150.42,426.97 150.84,424.84 151.27,422.82 151.69,420.94 152.12,419.15 152.54,417.37 152.97,415.64 153.39,413.96 153.81,412.38 154.24,410.9 154.66,409.56 155.09,408.38 155.51,407.38 155.94,406.49 156.36,405.64 156.79,404.84 157.21,404.09 157.63,403.39 158.06,402.76 158.48,402.19 158.91,401.71 159.33,401.31 159.76,400.99 160.18,400.73 160.61,400.48 161.03,400.23 161.46,400 161.88,399.78 162.3,399.58 162.73,399.39 163.15,399.21 163.58,399.06 164,398.93 164.43,398.81 164.85,398.72 165.28,398.65 165.7,398.61 166.12,398.6 166.55,398.61 166.97,398.65 167.4,398.72 167.82,398.81 168.25,398.92 168.67,399.05 169.1,399.2 169.52,399.37 169.95,399.56 170.37,399.75 170.79,399.96 171.22,400.18 171.64,400.41 172.07,400.65 172.49,400.89 172.92,401.14 173.34,401.39 173.77,401.67 174.19,401.99 174.62,402.36 175.04,402.77 175.46,403.22 175.89,403.71 176.31,404.22 176.74,404.77 177.16,405.33 177.59,405.93 178.01,406.54 178.44,407.17 178.86,407.81 179.28,408.46 179.71,409.11 180.13,409.77 180.56,410.47 180.98,411.22 181.41,412.03 181.83,412.89 182.26,413.79 182.68,414.73 183.1,415.7 183.53,416.69 183.95,417.7 184.38,418.72 184.8,419.74 185.23,420.76 185.65,421.78 186.08,422.78 186.5,423.76 186.93,424.71 187.35,425.63 187.77,426.51 188.2,427.34 188.62,428.13 189.05,428.87 189.47,429.6 189.9,430.31 190.32,431.01 190.75,431.7 191.17,432.37 191.59,433.03 192.02,433.68 192.44,434.32 192.87,434.95 193.29,435.57 193.72,436.18 194.14,436.79 194.57,437.38 194.99,437.98 195.42,438.57 195.84,439.15 196.26,439.74 196.69,440.32 197.11,440.89 197.54,441.47 197.96,442.05 198.39,442.63 198.81,443.2 199.24,443.78 199.66,444.35 200.09,444.92 200.51,445.49 200.93,446.05 201.36,446.61 201.78,447.16 202.21,447.72 202.63,448.26 203.06,448.81 203.48,449.34 203.91,449.87 204.33,450.4 204.75,450.91 205.18,451.42 205.6,451.93 206.03,452.42 206.45,452.91 206.88,453.39 207.3,453.86 207.73,454.32 208.15,454.77 208.57,455.21 209,455.64 209.42,456.06 209.85,456.47 210.27,456.87 210.7,457.28 211.12,457.68 211.55,458.07 211.97,458.47 212.4,458.85 212.82,459.23 213.24,459.61 213.67,459.98 214.09,460.35 214.52,460.71 214.94,461.07 215.37,461.42 215.79,461.76 216.22,462.1 216.64,462.44 217.06,462.76 217.49,463.08 217.91,463.39 218.34,463.7 218.76,464 219.19,464.29 219.61,464.57 220.04,464.85 220.46,465.12 220.89,465.38 221.31,465.63 221.73,465.88 222.16,466.12 222.58,466.36 223.01,466.59 223.43,466.82 223.86,467.05 224.28,467.27 224.71,467.48 225.13,467.69 225.56,467.89 225.98,468.09 226.4,468.29 226.83,468.47 227.25,468.66 227.68,468.83 228.1,469 228.53,469.17 228.95,469.33 229.38,469.48 229.8,469.62 230.22,469.76 230.65,469.9 231.07,470.04 231.5,470.18 231.92,470.31 232.35,470.44 232.77,470.58 233.2,470.71 233.62,470.83 234.04,470.96 234.47,471.08 234.89,471.2 235.32,471.32 235.74,471.43 236.17,471.54 236.59,471.65 237.02,471.76 237.44,471.86 237.87,471.96 238.29,472.06 238.71,472.15 239.14,472.24 239.56,472.32 239.99,472.41 240.41,472.48 240.84,472.56 241.26,472.63 241.69,472.69 242.11,472.76 242.53,472.81 242.96,472.87 243.38,472.92 243.81,472.97 244.23,473.03 244.66,473.08 245.08,473.12 245.51,473.17 245.93,473.22 246.36,473.26 246.78,473.31 247.2,473.35 247.63,473.39 248.05,473.43 248.48,473.47 248.9,473.51 249.33,473.55 249.75,473.58 250.18,473.62 250.6,473.65 251.03,473.68 251.45,473.71 251.87,473.74 252.3,473.77 252.72,473.8 253.15,473.82 253.57,473.85 254,473.87 254.42,473.89 254.85,473.91 255.27,473.93 255.69,473.95 256.12,473.97 256.54,473.98 256.97,474 257.39,474.02 257.82,474.03 258.24,474.05 258.67,474.06 259.09,474.07 259.51,474.09 259.94,474.1 260.36,474.11 260.79,474.13 261.21,474.14 261.64,474.15 262.06,474.16 262.49,474.17 262.91,474.18 263.34,474.19 263.76,474.2 264.18,474.21 264.61,474.22 265.03,474.23 265.46,474.24 265.88,474.25 266.31,474.26 266.73,474.27 267.16,474.28 267.58,474.29 268,474.3 268.43,474.31 268.85,474.32 269.28,474.33 269.7,474.34 270.13,474.35 270.55,474.36 270.98,474.38 271.4,474.39 271.83,474.4 272.25,474.41" fill="none" stroke="#1515dd" stroke-width="1.9" stroke-linejoin="round"/>
</g>
<path d="M59.3 391 L272.25 391 L272.25 478.4" fill="none" stroke="#35c135" stroke-width="1.5" />
<path d="M272.25 478.4L275.85 478.4M272.25 438.5L275.85 438.5M272.25 398.6L275.85 398.6" fill="none" stroke="#35c135" stroke-width="1.4" />
<path d="M60 390.3 L60 478.4 L272.95 478.4" fill="none" stroke="#111" stroke-width="1.5" />
<path d="M55 478.4L60 478.4M55 438.5L60 438.5M55 398.6L60 398.6M60 478.4L60 483M102.45 478.4L102.45 483M144.9 478.4L144.9 483M187.35 478.4L187.35 483M229.8 478.4L229.8 483M272.25 478.4L272.25 483" fill="none" stroke="#111" stroke-width="1.4" />
<text x="63.6" y="497" font-size="12.5" font-weight="bold" fill="#111" text-anchor="middle" >300</text>
<text x="102.85" y="497" font-size="12.5" font-weight="bold" fill="#111" text-anchor="middle" >400</text>
<text x="145.3" y="497" font-size="12.5" font-weight="bold" fill="#111" text-anchor="middle" >500</text>
<text x="187.75" y="497" font-size="12.5" font-weight="bold" fill="#111" text-anchor="middle" >600</text>
<text x="230.2" y="497" font-size="12.5" font-weight="bold" fill="#111" text-anchor="middle" >700</text>
<text x="272.65" y="497" font-size="12.5" font-weight="bold" fill="#111" text-anchor="middle" >800</text>
<text x="52.6" y="482.4" font-size="12.9" font-weight="bold" fill="#111" text-anchor="end" >0.0</text>
<text x="279.8" y="482.4" font-size="12.9" font-weight="bold" fill="#111" text-anchor="start" >0.0</text>
<text x="52.6" y="442.5" font-size="12.9" font-weight="bold" fill="#111" text-anchor="end" >0.5</text>
<text x="279.8" y="442.5" font-size="12.9" font-weight="bold" fill="#111" text-anchor="start" >0.5</text>
<text x="52.6" y="402.6" font-size="12.9" font-weight="bold" fill="#111" text-anchor="end" >1.0</text>
<text x="279.8" y="402.6" font-size="12.9" font-weight="bold" fill="#111" text-anchor="start" >1.0</text>
<text x="172" y="517.3" font-size="13" font-weight="bold" fill="#111" text-anchor="middle" textLength="105" lengthAdjust="spacingAndGlyphs" >Wavelength (nm)</text>
<g transform="translate(24.9 433.5) rotate(-90)"><text x="0" y="0" font-size="13.6" font-weight="bold" fill="#111" text-anchor="middle" textLength="75.5" lengthAdjust="spacingAndGlyphs" >Counts (a.u)</text></g>
<g transform="translate(301.8 435) rotate(90)"><text x="0" y="0" font-size="13.6" font-weight="bold" fill="#111" text-anchor="middle" textLength="63.5" lengthAdjust="spacingAndGlyphs" >Abs. (a.u.)</text></g>
<line x1="64" y1="404" x2="76" y2="404" stroke="#1515dd" stroke-width="1.9" />
<line x1="64" y1="417" x2="76" y2="417" stroke="#ff8a24" stroke-width="1.9" />
<line x1="64" y1="429.8" x2="76" y2="429.8" stroke="#27b827" stroke-width="1.9" stroke-dasharray="4.2 2.4"/>
<text x="78" y="406.8" font-size="9.7" font-weight="bold" fill="#111" text-anchor="start" textLength="53" lengthAdjust="spacingAndGlyphs" >5.11 XBTA6</text>
<text x="78" y="420" font-size="9.7" font-weight="bold" fill="#111" text-anchor="start" textLength="55" lengthAdjust="spacingAndGlyphs" >X-cite ® 110</text>
<text x="78" y="433.6" font-size="9.7" font-weight="bold" fill="#111" text-anchor="start" textLength="41.4" lengthAdjust="spacingAndGlyphs" >TPA-TQT</text>
</g>
<g id="panel_e">
<text x="319" y="285" font-size="15.5" font-weight="bold" fill="#111" text-anchor="start" >e</text>
<text x="387" y="291.7" font-size="12.1" font-weight="bold" fill="#9a30d0" text-anchor="middle" textLength="76" lengthAdjust="spacingAndGlyphs" >X-Cite ® 110</text>
<rect x="334.7" y="299.6" width="109.8" height="72.4" fill="#000" stroke="none" stroke-width="1" />
<rect x="334.7" y="374.5" width="109.8" height="72.6" fill="#000" stroke="none" stroke-width="1" />
<rect x="334.7" y="449.8" width="109.8" height="72.8" fill="#000" stroke="none" stroke-width="1" />
<g transform="translate(334.7 299.6)"><path d="M41.3 17.3 L27.2 46 L24 47.6 L20.1 48.5 L20.1 50.2 L22.8 51 L39.7 57.3 L42.2 56 L41.6 52.3 L42.2 51.6 L50.9 21.9" stroke="#f0f0ea" stroke-width="1.1" stroke-dasharray="3.8 1.9" fill="none" stroke-linejoin="round"/><path d="M64.3 20.4 L71.6 50.4 L72.8 52.9 L69 55.4 L68.8 57.9 L71.6 58.5 L88.4 51.6 L90.9 50.4 L90.3 48.5 L87.2 46.9 L75.3 19.1" stroke="#f0f0ea" stroke-width="1.1" stroke-dasharray="3.8 1.9" fill="none" stroke-linejoin="round"/><path d="M41.2 17.6 Q41.6 10.6 46.8 9.6 Q52.6 9.2 52.6 14 L51 22.4 Q45.4 21.8 41.2 17.6 Z" fill="#e8400c" filter="url(#eB2)"/><path d="M42.4 16.8 Q43 11.6 47 10.8 Q51.4 10.6 51.4 14.2 L50.2 20.8 Q45.8 20.2 42.4 16.8 Z" fill="#f02a18" filter="url(#eB)"/><path d="M44.2 15 Q44.8 12.4 47.2 12 Q49.8 12 49.8 14.2 L49.2 17.4 Q46.4 17.2 44.2 15 Z" fill="#f63a1c" filter="url(#eB)"/><path d="M63.6 20.8 Q62.4 11.4 67 9.6 Q71.6 9.2 74.2 14 L76.4 19.4 Q69.6 22.8 63.6 20.8 Z" fill="#ff8a10" filter="url(#eB2)"/><path d="M64.8 19.6 Q64 12.4 67.4 10.8 Q70.8 10.6 73 14.4 L74.6 18.4 Q69.4 20.8 64.8 19.6 Z" fill="#ffd83a" filter="url(#eB)"/><path d="M66.4 17.2 Q66 13 68 12.2 Q70.2 12.2 71.6 14.8 L72.4 16.8 Q69.2 18.2 66.4 17.2 Z" fill="#fff6b0" filter="url(#eB)"/></g>
<g transform="translate(337.4 374.9)"><path d="M41.3 17.3 L27.2 46 L24 47.6 L20.1 48.5 L20.1 50.2 L22.8 51 L39.7 57.3 L42.2 56 L41.6 52.3 L42.2 51.6 L50.9 21.9" stroke="#f0f0ea" stroke-width="1.1" stroke-dasharray="3.8 1.9" fill="none" stroke-linejoin="round"/><path d="M64.3 20.4 L71.6 50.4 L72.8 52.9 L69 55.4 L68.8 57.9 L71.6 58.5 L88.4 51.6 L90.9 50.4 L90.3 48.5 L87.2 46.9 L75.3 19.1" stroke="#f0f0ea" stroke-width="1.1" stroke-dasharray="3.8 1.9" fill="none" stroke-linejoin="round"/><path d="M41.2 17.6 Q41.6 10.6 46.8 9.6 Q52.6 9.2 52.6 14 L51 22.4 Q45.4 21.8 41.2 17.6 Z" fill="#d8200c" filter="url(#eB2)"/><path d="M42.4 16.8 Q43 11.6 47 10.8 Q51.4 10.6 51.4 14.2 L50.2 20.8 Q45.8 20.2 42.4 16.8 Z" fill="#ec2016" filter="url(#eB)"/><path d="M44.2 15 Q44.8 12.4 47.2 12 Q49.8 12 49.8 14.2 L49.2 17.4 Q46.4 17.2 44.2 15 Z" fill="#f02a1a" filter="url(#eB)"/><path d="M63.6 20.8 Q62.4 11.4 67 9.6 Q71.6 9.2 74.2 14 L76.4 19.4 Q69.6 22.8 63.6 20.8 Z" fill="#ff7a10" filter="url(#eB2)"/><path d="M64.8 19.6 Q64 12.4 67.4 10.8 Q70.8 10.6 73 14.4 L74.6 18.4 Q69.4 20.8 64.8 19.6 Z" fill="#ffc830" filter="url(#eB)"/><path d="M66.4 17.2 Q66 13 68 12.2 Q70.2 12.2 71.6 14.8 L72.4 16.8 Q69.2 18.2 66.4 17.2 Z" fill="#fff080" filter="url(#eB)"/></g>
<g transform="translate(335.2 450.9)"><path d="M41.3 17.3 L27.2 46 L24 47.6 L20.1 48.5 L20.1 50.2 L22.8 51 L39.7 57.3 L42.2 56 L41.6 52.3 L42.2 51.6 L50.9 21.9" stroke="#f0f0ea" stroke-width="1.1" stroke-dasharray="3.8 1.9" fill="none" stroke-linejoin="round"/><path d="M64.3 20.4 L71.6 50.4 L72.8 52.9 L69 55.4 L68.8 57.9 L71.6 58.5 L88.4 51.6 L90.9 50.4 L90.3 48.5 L87.2 46.9 L75.3 19.1" stroke="#f0f0ea" stroke-width="1.1" stroke-dasharray="3.8 1.9" fill="none" stroke-linejoin="round"/><path d="M41.2 17.6 Q41.6 10.6 46.8 9.6 Q52.6 9.2 52.6 14 L51 22.4 Q45.4 21.8 41.2 17.6 Z" fill="#c0140a" filter="url(#eB2)"/><path d="M42.4 16.8 Q43 11.6 47 10.8 Q51.4 10.6 51.4 14.2 L50.2 20.8 Q45.8 20.2 42.4 16.8 Z" fill="#e01c14" filter="url(#eB)"/><path d="M44.2 15 Q44.8 12.4 47.2 12 Q49.8 12 49.8 14.2 L49.2 17.4 Q46.4 17.2 44.2 15 Z" fill="#e6241a" filter="url(#eB)"/><path d="M63.6 20.8 Q62.4 11.4 67 9.6 Q71.6 9.2 74.2 14 L76.4 19.4 Q69.6 22.8 63.6 20.8 Z" fill="#ff7010" filter="url(#eB2)"/><path d="M64.8 19.6 Q64 12.4 67.4 10.8 Q70.8 10.6 73 14.4 L74.6 18.4 Q69.4 20.8 64.8 19.6 Z" fill="#ffc02a" filter="url(#eB)"/><path d="M66.4 17.2 Q66 13 68 12.2 Q70.2 12.2 71.6 14.8 L72.4 16.8 Q69.2 18.2 66.4 17.2 Z" fill="#ffe860" filter="url(#eB)"/></g>
<text x="339.2" y="310.4" font-size="10.5" font-weight="bold" fill="#fff" text-anchor="start" textLength="35.6" lengthAdjust="spacingAndGlyphs" >1100 LP</text>
<text x="339.8" y="386" font-size="10.5" font-weight="bold" fill="#fff" text-anchor="start" textLength="36.2" lengthAdjust="spacingAndGlyphs" >1200 LP</text>
<text x="339.8" y="461.5" font-size="10.5" font-weight="bold" fill="#fff" text-anchor="start" textLength="36.2" lengthAdjust="spacingAndGlyphs" >1300 LP</text>
<g transform="translate(346.4 358.6) rotate(22.5)"><text x="0" y="0" font-size="9.8" font-weight="bold" fill="#fff" text-anchor="start" textLength="33.5" lengthAdjust="spacingAndGlyphs" >1 μg/uL</text></g>
<g transform="translate(405.2 372.2) rotate(-20.5)"><text x="0" y="0" font-size="9.8" font-weight="bold" fill="#fff" text-anchor="start" textLength="33.5" lengthAdjust="spacingAndGlyphs" >5 μg/uL</text></g>
<rect x="461" y="310" width="5.2" height="51" fill="url(#eHot)" stroke="#222" stroke-width="0.6" />
<text x="463.8" y="307" font-size="10" font-weight="bold" fill="#111" text-anchor="middle" >25000</text>
<text x="463.6" y="369" font-size="9.7" font-weight="bold" fill="#111" text-anchor="middle" >0</text>
<rect x="460.4" y="387" width="5.2" height="52" fill="url(#eHot)" stroke="#222" stroke-width="0.6" />
<text x="463.2" y="384" font-size="10" font-weight="bold" fill="#111" text-anchor="middle" >10000</text>
<text x="463" y="446.5" font-size="9.7" font-weight="bold" fill="#111" text-anchor="middle" >0</text>
<rect x="460.4" y="463" width="5.2" height="46.8" fill="url(#eHot)" stroke="#222" stroke-width="0.6" />
<text x="463.2" y="460.5" font-size="10" font-weight="bold" fill="#111" text-anchor="middle" >3000</text>
<text x="463" y="518.5" font-size="9.7" font-weight="bold" fill="#111" text-anchor="middle" >0</text>
</g>
<g id="panel_f">
<text x="491" y="285.8" font-size="15.5" font-weight="bold" fill="#111" text-anchor="start" >f</text>
<rect x="569.1" y="407.9" width="18.2" height="91" fill="#fff" stroke="#111" stroke-width="1.1" />
<rect x="599.6" y="315.6" width="17.8" height="183.3" fill="#c9c9c9" stroke="none" stroke-width="1" />
<rect x="650" y="468.6" width="17.9" height="30.3" fill="#fff" stroke="#111" stroke-width="1.1" />
<rect x="680.4" y="438.7" width="17.9" height="60.2" fill="#c9c9c9" stroke="none" stroke-width="1" />
<rect x="730.6" y="492.4" width="17.5" height="6.5" fill="#fff" stroke="#111" stroke-width="1.1" />
<rect x="761" y="482.6" width="17.9" height="16.3" fill="#c9c9c9" stroke="none" stroke-width="1" />
<path d="M558 292.4 L558 498.9 L788.6 498.9" fill="none" stroke="#111" stroke-width="1.5" stroke-linecap="square"/>
<path d="M547.6 498.9L558 498.9M547.6 447.3L558 447.3M547.6 395.7L558 395.7M547.6 344.1L558 344.1M547.6 292.5L558 292.5" fill="none" stroke="#111" stroke-width="1.5" />
<text x="536.6" y="503.2" font-size="11.9" font-weight="bold" fill="#111" text-anchor="end" >0.0</text>
<text x="536.6" y="451.6" font-size="11.9" font-weight="bold" fill="#111" text-anchor="end" >0.5</text>
<text x="536.6" y="400" font-size="11.9" font-weight="bold" fill="#111" text-anchor="end" >1.0</text>
<text x="536.6" y="348.4" font-size="11.9" font-weight="bold" fill="#111" text-anchor="end" >1.5</text>
<text x="536.6" y="296.8" font-size="11.9" font-weight="bold" fill="#111" text-anchor="end" >2.0</text>
<g transform="translate(506.4 400.9) rotate(-90)"><text x="0" y="0" font-size="12.8" font-weight="bold" fill="#111" text-anchor="middle" >Intensity (×10<tspan font-size="7.5" dy="-4">4</tspan><tspan dy="4">)</tspan></text></g>
<text x="591.5" y="517.7" font-size="12.6" font-weight="bold" fill="#111" text-anchor="middle" textLength="47.8" lengthAdjust="spacingAndGlyphs" >1100 LP</text>
<text x="672.8" y="517.7" font-size="12.6" font-weight="bold" fill="#111" text-anchor="middle" textLength="47.8" lengthAdjust="spacingAndGlyphs" >1200 LP</text>
<text x="758" y="517.7" font-size="12.6" font-weight="bold" fill="#111" text-anchor="middle" textLength="47.8" lengthAdjust="spacingAndGlyphs" >1300 LP</text>
<rect x="574.6" y="292.6" width="28.4" height="8.4" fill="#fff" stroke="#111" stroke-width="1" />
<text x="612.4" y="300.6" font-size="10.6" font-weight="bold" fill="#111" text-anchor="start" textLength="39.4" lengthAdjust="spacingAndGlyphs" >1 μg/uL</text>
<rect x="672.8" y="292.2" width="28.6" height="9.2" fill="#c9c9c9" stroke="none" stroke-width="1" />
<text x="711.2" y="300.6" font-size="10.6" font-weight="bold" fill="#111" text-anchor="start" textLength="39.4" lengthAdjust="spacingAndGlyphs" >5 μg/uL</text>
<path d="M578.3 405.4L578.3 409.6M573.8 405.4L582.8 405.4M573.8 409.6L582.8 409.6" fill="none" stroke="#555" stroke-width="0.8" />
<circle cx="570.9" cy="409.5" r="1.9" fill="#fff" stroke="#555" stroke-width="0.8" />
<circle cx="578.3" cy="405.6" r="1.9" fill="#fff" stroke="#555" stroke-width="0.8" />
<circle cx="586.1" cy="406.3" r="1.9" fill="#fff" stroke="#555" stroke-width="0.8" />
<path d="M608.4 310L608.4 319.4M603.4 310L613.4 310M603.4 319.4L613.4 319.4" fill="none" stroke="#555" stroke-width="0.8" />
<circle cx="608.4" cy="310" r="1.8" fill="#d8d8d8" stroke="#666" stroke-width="0.8" />
<circle cx="608.4" cy="314.4" r="1.8" fill="#d8d8d8" stroke="#666" stroke-width="0.8" />
<circle cx="608.4" cy="319" r="1.8" fill="#d8d8d8" stroke="#666" stroke-width="0.8" />
<path d="M659 467L659 468.6M655 467L663 467M655 468.6L663 468.6" fill="none" stroke="#555" stroke-width="0.8" />
<rect x="649.7" y="466.5" width="3.6" height="3.6" fill="#fff" stroke="#555" stroke-width="0.8" />
<rect x="657.2" y="465.5" width="3.6" height="3.6" fill="#fff" stroke="#555" stroke-width="0.8" />
<rect x="664.9" y="466.2" width="3.6" height="3.6" fill="#fff" stroke="#555" stroke-width="0.8" />
<path d="M689.5 436.8L689.5 438.4M685.5 436.8L693.5 436.8M685.5 438.4L693.5 438.4" fill="none" stroke="#555" stroke-width="0.8" />
<rect x="680.2" y="436.3" width="3.6" height="3.6" fill="#e4e4e4" stroke="#555" stroke-width="0.8" />
<rect x="687.7" y="435.3" width="3.6" height="3.6" fill="#e4e4e4" stroke="#555" stroke-width="0.8" />
<rect x="695.5" y="435.6" width="3.6" height="3.6" fill="#e4e4e4" stroke="#555" stroke-width="0.8" />
<path d="M739.2 490.3L739.2 491.8M735.2 490.3L743.2 490.3M735.2 491.8L743.2 491.8" fill="none" stroke="#555" stroke-width="0.8" />
<polygon points="731.8,489.3 733.9,492.9 729.7,492.9" fill="#fff" stroke="#555" stroke-width="0.8" />
<polygon points="739.2,488.6 741.3,492.2 737.1,492.2" fill="#fff" stroke="#555" stroke-width="0.8" />
<polygon points="747,488.9 749.1,492.5 744.9,492.5" fill="#fff" stroke="#555" stroke-width="0.8" />
<path d="M770 480L770 481.6M766 480L774 480M766 481.6L774 481.6" fill="none" stroke="#555" stroke-width="0.8" />
<polygon points="763,479.2 765.1,482.8 760.9,482.8" fill="#e4e4e4" stroke="#555" stroke-width="0.8" />
<polygon points="770,478.2 772.1,481.8 767.9,481.8" fill="#e4e4e4" stroke="#555" stroke-width="0.8" />
<polygon points="777.6,478.9 779.7,482.5 775.5,482.5" fill="#e4e4e4" stroke="#555" stroke-width="0.8" />
</g>
<g id="panel_g">
<text x="4.8" y="551.4" font-size="15.5" font-weight="bold" fill="#111" text-anchor="start" >g</text>
<text x="63.9" y="562.4" font-size="11.3" font-weight="bold" fill="#111" text-anchor="middle" >ICG</text>
<text x="141" y="562.4" font-size="11.3" font-weight="bold" fill="#111" text-anchor="middle" textLength="48" lengthAdjust="spacingAndGlyphs" >TPA-TQT</text>
<g transform="translate(23.2 621.5) rotate(-90)"><text x="0" y="0" font-size="10.8" font-weight="normal" fill="#e4189c" text-anchor="middle" textLength="57" lengthAdjust="spacingAndGlyphs" >X-Cite LED</text></g>
<g transform="translate(18.2 713.5) rotate(-90)"><text x="0" y="0" font-size="10.8" font-weight="normal" fill="#e4189c" text-anchor="middle" textLength="38.5" lengthAdjust="spacingAndGlyphs" >808 nm</text></g>
<g transform="translate(31 713.5) rotate(-90)"><text x="0" y="0" font-size="10.8" font-weight="normal" fill="#e4189c" text-anchor="middle" >laser</text></g>
<rect x="35.9" y="578.5" width="69.5" height="86.1" fill="#000" stroke="none" stroke-width="1" />
<rect x="116" y="578.5" width="69.5" height="85.2" fill="#000" stroke="none" stroke-width="1" />
<rect x="36" y="672.9" width="68.7" height="86.1" fill="#000" stroke="none" stroke-width="1" />
<rect x="116.6" y="672.9" width="69.1" height="86.1" fill="#000" stroke="none" stroke-width="1" />
<path d="M43.6 632.8 L62 632 C61.2 642.8 58.6 652.4 55.8 654.6 Q52.8 655.8 49.8 654.6 C47 652.4 44.4 643.24 43.6 632.8 Z" fill="url(#gLiq)" filter="url(#gB)"/>
<path d="M75 632.4 L94.2 630.2 C93.4 641.36 90.8 651.4 87.6 653.6 Q84.6 654.8 81.6 653.6 C78.4 651.4 75.8 642.57 75 632.4 Z" fill="url(#gLiq)" filter="url(#gB)"/>
<path d="M42.4 606.6 L40 604.1 L38.8 599.4 L40.3 598.6 L65.6 597.6 L67.8 598.8 L66.8 602.1 L62.6 605.6 L62 632.59 C61.2 645.48 59 654 55.4 656.4 Q52.2 657.9 49 656.4 C45.4 654 43.2 645.48 42.4 632.59 L42.4 606.6" stroke="#ea262a" stroke-width="1.2" stroke-dasharray="3.2 1.8" fill="none" stroke-linejoin="round"/>
<path d="M75.2 604.6 L72.8 602.1 L71.6 597.4 L73.1 596.6 L98.8 595.6 L101 596.8 L100 600.1 L95.8 603.6 L95.2 630.7 C94.4 643.64 92.2 652.2 88.4 654.6 Q85.2 656.1 82 654.6 C78.2 652.2 76 643.64 75.2 630.7 L75.2 604.6" stroke="#ea262a" stroke-width="1.2" stroke-dasharray="3.2 1.8" fill="none" stroke-linejoin="round"/>
<path d="M121.8 634.4 L140.2 632.6 C139.4 643.13 136.8 652.4 134 654.6 Q131 655.8 128 654.6 C125.2 652.4 122.6 644.12 121.8 634.4 Z" fill="url(#gLiq)" filter="url(#gB)"/>
<path d="M157.6 634.6 L176.4 633.6 C175.6 643.05 173 651 170 653.2 Q167 654.4 164 653.2 C161 651 158.4 643.6 157.6 634.6 Z" fill="url(#gLiq)" filter="url(#gB)"/>
<path d="M121 606.6 L118.4 604.1 L117.2 599.4 L118.7 598.6 L144.8 597.6 L147 598.8 L146 602.1 L141.6 605.6 L141 632.7 C140.2 645.64 138 654.2 134.2 656.6 Q131 658.1 127.8 656.6 C124 654.2 121.8 645.64 121 632.7 L121 606.6" stroke="#ea262a" stroke-width="1.2" stroke-dasharray="3.2 1.8" fill="none" stroke-linejoin="round"/>
<path d="M156.2 604 L152.6 601.5 L151.4 596.8 L152.9 596 L181.8 595 L184 596.2 L183 599.5 L177.6 603 L177 630.45 C176.2 643.52 174 652.2 169.8 654.6 Q166.6 656.1 163.4 654.6 C159.2 652.2 157 643.52 156.2 630.45 L156.2 604" stroke="#ea262a" stroke-width="1.2" stroke-dasharray="3.2 1.8" fill="none" stroke-linejoin="round"/>
<path d="M43.4 702 L63.4 702 L62.2 730 L57.6 752 L54 752 L45.2 730 Z" fill="#2a2a2a" filter="url(#gB2)"/>
<path d="M45.6 722.5 L62.8 722.5 L56.8 750.6 Q56.2 753.6 54.2 753.6 Q52.2 753.6 51.6 750.6 Z" fill="#9c9c9c" filter="url(#gB2)" opacity="1"/>
<path d="M47.6 726.5 L61.2 726.5 L56.6 749.8 Q56 752.8 54.4 752.8 Q52.8 752.8 52.2 749.8 Z" fill="#ececec" filter="url(#gB1)" opacity="1"/>
<path d="M50 730 L59.2 730 L56.4 747.4 Q55.8 750.4 54.6 750.4 Q53.4 750.4 52.8 747.4 Z" fill="#fafafa" filter="url(#gB1)" opacity="1"/>
<path d="M43.2 702.4 L41.4 699.9 L40.2 695.2 L41.7 694.4 L67 693.4 L69.2 694.6 L68.2 697.9 L64.4 701.4 L63.5 728.67 L56.4 752.2 Q55.8 755.6 53.6 755.6 Q51.4 755.6 50.8 752.2 L43.7 728.67 L43.2 702.4" stroke="#ea262a" stroke-width="1.2" stroke-dasharray="3.2 1.8" fill="none" stroke-linejoin="round"/>
<path d="M75.6 700.6 L73 698.1 L71.8 693.4 L73.3 692.6 L100.6 691.6 L102.8 692.8 L101.8 696.1 L97.2 699.6 L96.3 722.5 L89.2 749 Q88.6 752.4 86.2 752.4 Q83.8 752.4 83.2 749 L76.1 722.5 L75.6 700.6" stroke="#ea262a" stroke-width="1.2" stroke-dasharray="3.2 1.8" fill="none" stroke-linejoin="round"/>
<rect x="116.6" y="672.9" width="69.1" height="86.1" fill="#0b0b0b" stroke="none" stroke-width="1" />
<path d="M117.6 691.4 L149 691.4 L148 697.5 L143 699.6 L142.2 722 L124 722 L122.4 699.6 L118.6 697.5 Z" fill="url(#gBody)" filter="url(#gB)"/>
<path d="M118.6 692.6 L148 692.6" stroke="#8e8e8e" stroke-width="1.5" filter="url(#gB)"/>
<path d="M121 696.4 L145.4 696.4" stroke="#6e6e6e" stroke-width="1.2" filter="url(#gB)"/>
<path d="M123 699.4 L143 699.4" stroke="#7a7a7a" stroke-width="1.1" filter="url(#gB)"/>
<path d="M123.8 720.2 L141.8 720.2 L135.4 751.8 Q134.8 754.8 132.8 754.8 Q130.8 754.8 130.2 751.8 Z" fill="#6a6a6a" filter="url(#gB)" opacity="1"/>
<path d="M124.6 723.2 L141.4 723.2 L135.4 751.4 Q134.8 754.4 133 754.4 Q131.2 754.4 130.6 751.4 Z" fill="url(#gLiq2)" filter="url(#gB)" opacity="1"/>
<path d="M127.6 727 L138.6 727 L136 744 Q133.2 749 130.8 744 Z" fill="#f2f2f2" filter="url(#gB2)" opacity="0.8"/>
<path d="M156.4 696.6 L176.6 696.6 L175.8 720 L157.8 720 Z" fill="#1e1e1e" filter="url(#gB)"/>
<path d="M157.6 717.4 L175.2 717.4 L169 750.2 Q168.4 753.2 166.4 753.2 Q164.4 753.2 163.8 750.2 Z" fill="#5c5c5c" filter="url(#gB)" opacity="1"/>
<path d="M158.2 721.2 L174.6 721.2 L168.8 750 Q168.2 753 166.4 753 Q164.6 753 164 750 Z" fill="url(#gLiq2)" filter="url(#gB)" opacity="1"/>
<path d="M161.4 726 L172 726 L169.4 743 Q166.6 748 164.2 743 Z" fill="#e8e8e8" filter="url(#gB2)" opacity="0.7"/>
<path d="M123 699.6 L119.4 697.1 L118.2 692.4 L119.7 691.6 L147.8 690.6 L150 691.8 L149 695.1 L143.4 698.6 L142.5 722.51 L135.8 752.6 Q135.2 756 133 756 Q130.8 756 130.2 752.6 L123.5 722.51 L123 699.6" stroke="#ea262a" stroke-width="1.2" stroke-dasharray="3.2 1.8" fill="none" stroke-linejoin="round"/>
<path d="M156.6 697.2 L153.4 694.7 L152.2 690 L153.7 689.2 L181.4 688.2 L183.6 689.4 L182.6 692.7 L177.4 696.2 L176.5 720.5 L169.6 751 Q169 754.4 166.8 754.4 Q164.6 754.4 164 751 L157.1 720.5 L156.6 697.2" stroke="#ea262a" stroke-width="1.2" stroke-dasharray="3.2 1.8" fill="none" stroke-linejoin="round"/>
<text x="39.6" y="590.6" font-size="9.6" font-weight="bold" fill="#fff" text-anchor="start" textLength="24.8" lengthAdjust="spacingAndGlyphs" >0 min</text>
<text x="71.4" y="590.6" font-size="9.6" font-weight="bold" fill="#fff" text-anchor="start" textLength="30.6" lengthAdjust="spacingAndGlyphs" >30 min</text>
<text x="117.5" y="590.6" font-size="9.6" font-weight="bold" fill="#fff" text-anchor="start" textLength="24.8" lengthAdjust="spacingAndGlyphs" >0 min</text>
<text x="152.2" y="590.6" font-size="9.6" font-weight="bold" fill="#fff" text-anchor="start" textLength="30.6" lengthAdjust="spacingAndGlyphs" >30 min</text>
<text x="39.2" y="683.7" font-size="9.6" font-weight="bold" fill="#fff" text-anchor="start" textLength="24.8" lengthAdjust="spacingAndGlyphs" >0 min</text>
<text x="71" y="683.7" font-size="9.6" font-weight="bold" fill="#fff" text-anchor="start" textLength="30.6" lengthAdjust="spacingAndGlyphs" >30 min</text>
<text x="118.2" y="683.7" font-size="9.6" font-weight="bold" fill="#fff" text-anchor="start" textLength="24.8" lengthAdjust="spacingAndGlyphs" >0 min</text>
<text x="151.6" y="683.7" font-size="9.6" font-weight="bold" fill="#fff" text-anchor="start" textLength="30.6" lengthAdjust="spacingAndGlyphs" >30 min</text>
<rect x="193.4" y="695.4" width="3.8" height="49.5" fill="url(#gBar)" stroke="none" stroke-width="1" />
<text x="195.4" y="692.6" font-size="9.6" font-weight="bold" fill="#111" text-anchor="middle" >H</text>
<text x="195.6" y="753.9" font-size="9.6" font-weight="bold" fill="#111" text-anchor="middle" >L</text>
</g>
<g id="panel_h">
<text x="220.8" y="550.8" font-size="15.5" font-weight="bold" fill="#111" text-anchor="start" >h</text>
<path d="M258.1 615.97L258.1 620.99M256.2 615.97L260 615.97M256.2 620.99L260 620.99M264.97 619.73L264.97 624.75M263.07 619.73L266.87 619.73M263.07 624.75L266.87 624.75M271.85 618.48L271.85 623.5M269.95 618.48L273.75 618.48M269.95 623.5L273.75 623.5M278.72 623.5L278.72 631.03M276.82 623.5L280.62 623.5M276.82 631.03L280.62 631.03M285.59 624.12L285.59 631.65M283.69 624.12L287.49 624.12M283.69 631.65L287.49 631.65M292.47 623.5L292.47 628.52M290.57 623.5L294.37 623.5M290.57 628.52L294.37 628.52M299.34 624.75L299.34 629.77M297.44 624.75L301.24 624.75M297.44 629.77L301.24 629.77M306.21 626.63L306.21 631.65M304.31 626.63L308.11 626.63M304.31 631.65L308.11 631.65M313.08 625.38L313.08 630.4M311.18 625.38L314.98 625.38M311.18 630.4L314.98 630.4M319.96 626L319.96 631.03M318.06 626L321.86 626M318.06 631.03L321.86 631.03M326.83 626.63L326.83 631.65M324.93 626.63L328.73 626.63M324.93 631.65L328.73 631.65M333.7 627.26L333.7 632.28M331.8 627.26L335.6 627.26M331.8 632.28L335.6 632.28M340.58 629.77L340.58 634.79M338.68 629.77L342.48 629.77M338.68 634.79L342.48 634.79M347.45 627.89L347.45 631.65M345.55 627.89L349.35 627.89M345.55 631.65L349.35 631.65M354.32 629.14L354.32 634.16M352.42 629.14L356.22 629.14M352.42 634.16L356.22 634.16M361.2 631.03L361.2 636.05M359.3 631.03L363.1 631.03M359.3 636.05L363.1 636.05M395.56 633.79L395.56 640.06M393.66 633.79L397.46 633.79M393.66 640.06L397.46 640.06M429.93 645.08L429.93 650.1M428.03 645.08L431.83 645.08M428.03 650.1L431.83 650.1M464.29 641.57L464.29 646.59M462.39 641.57L466.19 641.57M462.39 646.59L466.19 646.59" fill="none" stroke="#b42ad8" stroke-width="1" />
<polyline points="258.1,618.48 264.97,622.24 271.85,620.99 278.72,627.26 285.59,627.89 292.47,626 299.34,627.26 306.21,629.14 313.08,627.89 319.96,628.52 326.83,629.14 333.7,629.77 340.58,632.28 347.45,629.77 354.32,631.65 361.2,633.54 395.56,636.92 429.93,647.59 464.29,644.08" fill="none" stroke="#b42ad8" stroke-width="1.25" stroke-linejoin="round"/>
<polygon points="258.1,620.77 260.3,616.77 255.9,616.77" fill="#b42ad8" stroke="none" stroke-width="1" /><polygon points="264.97,624.54 267.17,620.54 262.77,620.54" fill="#b42ad8" stroke="none" stroke-width="1" /><polygon points="271.85,623.28 274.05,619.28 269.65,619.28" fill="#b42ad8" stroke="none" stroke-width="1" /><polygon points="278.72,629.56 280.92,625.56 276.52,625.56" fill="#b42ad8" stroke="none" stroke-width="1" /><polygon points="285.59,630.19 287.79,626.19 283.39,626.19" fill="#b42ad8" stroke="none" stroke-width="1" /><polygon points="292.47,628.3 294.67,624.3 290.27,624.3" fill="#b42ad8" stroke="none" stroke-width="1" /><polygon points="299.34,629.56 301.54,625.56 297.14,625.56" fill="#b42ad8" stroke="none" stroke-width="1" /><polygon points="306.21,631.44 308.41,627.44 304.01,627.44" fill="#b42ad8" stroke="none" stroke-width="1" /><polygon points="313.08,630.19 315.28,626.19 310.88,626.19" fill="#b42ad8" stroke="none" stroke-width="1" /><polygon points="319.96,630.82 322.16,626.82 317.76,626.82" fill="#b42ad8" stroke="none" stroke-width="1" /><polygon points="326.83,631.44 329.03,627.44 324.63,627.44" fill="#b42ad8" stroke="none" stroke-width="1" /><polygon points="333.7,632.07 335.9,628.07 331.5,628.07" fill="#b42ad8" stroke="none" stroke-width="1" /><polygon points="340.58,634.58 342.78,630.58 338.38,630.58" fill="#b42ad8" stroke="none" stroke-width="1" /><polygon points="347.45,632.07 349.65,628.07 345.25,628.07" fill="#b42ad8" stroke="none" stroke-width="1" /><polygon points="354.32,633.95 356.52,629.95 352.12,629.95" fill="#b42ad8" stroke="none" stroke-width="1" /><polygon points="361.2,635.84 363.4,631.84 359,631.84" fill="#b42ad8" stroke="none" stroke-width="1" /><polygon points="395.56,639.22 397.76,635.22 393.36,635.22" fill="#b42ad8" stroke="none" stroke-width="1" /><polygon points="429.93,649.89 432.13,645.89 427.73,645.89" fill="#b42ad8" stroke="none" stroke-width="1" /><polygon points="464.29,646.38 466.49,642.38 462.09,642.38" fill="#b42ad8" stroke="none" stroke-width="1" />
<path d="M264.97 616.47L264.97 618.98M262.57 616.47L267.37 616.47M262.57 618.98L267.37 618.98M271.85 624.12L271.85 629.14M269.45 624.12L274.25 624.12M269.45 629.14L274.25 629.14M278.72 628.52L278.72 639.81M276.32 628.52L281.12 628.52M276.32 639.81L281.12 639.81M285.59 637.55L285.59 650.1M283.19 637.55L287.99 637.55M283.19 650.1L287.99 650.1M292.47 644.96L292.47 657.51M290.07 644.96L294.87 644.96M290.07 657.51L294.87 657.51M299.34 649.35L299.34 664.41M296.94 649.35L301.74 649.35M296.94 664.41L301.74 664.41M306.21 656.88L306.21 673.19M303.81 656.88L308.61 656.88M303.81 673.19L308.61 673.19M313.08 663.53L313.08 681.1M310.68 663.53L315.48 663.53M310.68 681.1L315.48 681.1M319.96 666.92L319.96 685.74M317.56 666.92L322.36 666.92M317.56 685.74L322.36 685.74M326.83 670.43L326.83 690.51M324.43 670.43L329.23 670.43M324.43 690.51L329.23 690.51M333.7 674.57L333.7 694.65M331.3 674.57L336.1 674.57M331.3 694.65L336.1 694.65M340.58 675.95L340.58 697.29M338.18 675.95L342.98 675.95M338.18 697.29L342.98 697.29M347.45 680.72L347.45 700.8M345.05 680.72L349.85 680.72M345.05 700.8L349.85 700.8M354.32 684.86L354.32 704.94M351.92 684.86L356.72 684.86M351.92 704.94L356.72 704.94M361.2 688.63L361.2 708.71M358.8 688.63L363.6 688.63M358.8 708.71L363.6 708.71M395.56 701.05L395.56 719.63M393.16 701.05L397.96 701.05M393.16 719.63L397.96 719.63M429.93 712.85L429.93 725.4M427.53 712.85L432.33 712.85M427.53 725.4L432.33 725.4M464.29 719.75L464.29 728.54M461.89 719.75L466.69 719.75M461.89 728.54L466.69 728.54" fill="none" stroke="#ff8a1c" stroke-width="1.1" />
<polyline points="258.1,614.71 264.97,617.72 271.85,626.63 278.72,634.16 285.59,643.83 292.47,651.23 299.34,656.88 306.21,665.04 313.08,672.31 319.96,676.33 326.83,680.47 333.7,684.61 340.58,686.62 347.45,690.76 354.32,694.9 361.2,698.67 395.56,710.34 429.93,719.13 464.29,724.15" fill="none" stroke="#ff8a1c" stroke-width="1.25" stroke-linejoin="round"/>
<polygon points="258.1,613.41 259.4,614.71 258.1,616.01 256.8,614.71" fill="#ff8a1c" stroke="none" stroke-width="1" /><polygon points="264.97,616.42 266.27,617.72 264.97,619.02 263.67,617.72" fill="#ff8a1c" stroke="none" stroke-width="1" /><polygon points="271.85,625.33 273.15,626.63 271.85,627.93 270.55,626.63" fill="#ff8a1c" stroke="none" stroke-width="1" /><polygon points="278.72,632.86 280.02,634.16 278.72,635.46 277.42,634.16" fill="#ff8a1c" stroke="none" stroke-width="1" /><polygon points="285.59,642.53 286.89,643.83 285.59,645.13 284.29,643.83" fill="#ff8a1c" stroke="none" stroke-width="1" /><polygon points="292.47,649.93 293.77,651.23 292.47,652.53 291.17,651.23" fill="#ff8a1c" stroke="none" stroke-width="1" /><polygon points="299.34,655.58 300.64,656.88 299.34,658.18 298.04,656.88" fill="#ff8a1c" stroke="none" stroke-width="1" /><polygon points="306.21,663.74 307.51,665.04 306.21,666.34 304.91,665.04" fill="#ff8a1c" stroke="none" stroke-width="1" /><polygon points="313.08,671.01 314.38,672.31 313.08,673.61 311.78,672.31" fill="#ff8a1c" stroke="none" stroke-width="1" /><polygon points="319.96,675.03 321.26,676.33 319.96,677.63 318.66,676.33" fill="#ff8a1c" stroke="none" stroke-width="1" /><polygon points="326.83,679.17 328.13,680.47 326.83,681.77 325.53,680.47" fill="#ff8a1c" stroke="none" stroke-width="1" /><polygon points="333.7,683.31 335,684.61 333.7,685.91 332.4,684.61" fill="#ff8a1c" stroke="none" stroke-width="1" /><polygon points="340.58,685.32 341.88,686.62 340.58,687.92 339.28,686.62" fill="#ff8a1c" stroke="none" stroke-width="1" /><polygon points="347.45,689.46 348.75,690.76 347.45,692.06 346.15,690.76" fill="#ff8a1c" stroke="none" stroke-width="1" /><polygon points="354.32,693.6 355.62,694.9 354.32,696.2 353.02,694.9" fill="#ff8a1c" stroke="none" stroke-width="1" /><polygon points="361.2,697.37 362.5,698.67 361.2,699.97 359.9,698.67" fill="#ff8a1c" stroke="none" stroke-width="1" /><polygon points="395.56,709.04 396.86,710.34 395.56,711.64 394.26,710.34" fill="#ff8a1c" stroke="none" stroke-width="1" /><polygon points="429.93,717.83 431.23,719.13 429.93,720.43 428.63,719.13" fill="#ff8a1c" stroke="none" stroke-width="1" /><polygon points="464.29,722.85 465.59,724.15 464.29,725.45 462.99,724.15" fill="#ff8a1c" stroke="none" stroke-width="1" />
<path d="M264.97 641.57L264.97 644.58M263.37 641.57L266.57 641.57M263.37 644.58L266.57 644.58M271.85 654.12L271.85 657.63M270.25 654.12L273.45 654.12M270.25 657.63L273.45 657.63M278.72 669.18L278.72 673.19M277.12 669.18L280.32 669.18M277.12 673.19L280.32 673.19M285.59 680.97L285.59 683.99M283.99 680.97L287.19 680.97M283.99 683.99L287.19 683.99M292.47 689.51L292.47 692.02M290.87 689.51L294.07 689.51M290.87 692.02L294.07 692.02M299.34 695.66L299.34 698.17M297.74 695.66L300.94 695.66M297.74 698.17L300.94 698.17M306.21 702.18L306.21 704.19M304.61 702.18L307.81 702.18M304.61 704.19L307.81 704.19M313.08 706.2L313.08 708.21M311.48 706.2L314.68 706.2M311.48 708.21L314.68 708.21M319.96 709.21L319.96 710.72M318.36 709.21L321.56 709.21M318.36 710.72L321.56 710.72M326.83 711.22L326.83 712.73M325.23 711.22L328.43 711.22M325.23 712.73L328.43 712.73M333.7 713.35L333.7 714.86M332.1 713.35L335.3 713.35M332.1 714.86L335.3 714.86M340.58 714.73L340.58 716.24M338.98 714.73L342.18 714.73M338.98 716.24L342.18 716.24M347.45 715.74L347.45 717.24M345.85 715.74L349.05 715.74M345.85 717.24L349.05 717.24M354.32 717.24L354.32 718.75M352.72 717.24L355.92 717.24M352.72 718.75L355.92 718.75M361.2 718.37L361.2 719.88M359.6 718.37L362.8 718.37M359.6 719.88L362.8 719.88M395.56 722.77L395.56 724.77M393.96 722.77L397.16 722.77M393.96 724.77L397.16 724.77M429.93 729.79L429.93 731.3M428.33 729.79L431.53 729.79M428.33 731.3L431.53 731.3M464.29 728.92L464.29 730.92M462.69 728.92L465.89 728.92M462.69 730.92L465.89 730.92" fill="none" stroke="#24bf24" stroke-width="1" />
<polyline points="258.1,614.71 264.97,643.07 271.85,655.87 278.72,671.19 285.59,682.48 292.47,690.76 299.34,696.91 306.21,703.19 313.08,707.2 319.96,709.96 326.83,711.97 333.7,714.11 340.58,715.49 347.45,716.49 354.32,718 361.2,719.13 395.56,723.77 429.93,730.55 464.29,729.92" fill="none" stroke="#24bf24" stroke-width="1.25" stroke-linejoin="round"/>
<polygon points="258.1,612.07 260.63,616.67 255.57,616.67" fill="#24bf24" stroke="none" stroke-width="1" /><polygon points="264.97,640.43 267.5,645.03 262.44,645.03" fill="#24bf24" stroke="none" stroke-width="1" /><polygon points="271.85,653.23 274.38,657.83 269.32,657.83" fill="#24bf24" stroke="none" stroke-width="1" /><polygon points="278.72,668.54 281.25,673.14 276.19,673.14" fill="#24bf24" stroke="none" stroke-width="1" /><polygon points="285.59,679.84 288.12,684.44 283.06,684.44" fill="#24bf24" stroke="none" stroke-width="1" /><polygon points="292.47,688.12 295,692.72 289.94,692.72" fill="#24bf24" stroke="none" stroke-width="1" /><polygon points="299.34,694.27 301.87,698.87 296.81,698.87" fill="#24bf24" stroke="none" stroke-width="1" /><polygon points="306.21,700.54 308.74,705.14 303.68,705.14" fill="#24bf24" stroke="none" stroke-width="1" /><polygon points="313.08,704.56 315.61,709.16 310.55,709.16" fill="#24bf24" stroke="none" stroke-width="1" /><polygon points="319.96,707.32 322.49,711.92 317.43,711.92" fill="#24bf24" stroke="none" stroke-width="1" /><polygon points="326.83,709.33 329.36,713.93 324.3,713.93" fill="#24bf24" stroke="none" stroke-width="1" /><polygon points="333.7,711.46 336.23,716.06 331.17,716.06" fill="#24bf24" stroke="none" stroke-width="1" /><polygon points="340.58,712.84 343.11,717.44 338.05,717.44" fill="#24bf24" stroke="none" stroke-width="1" /><polygon points="347.45,713.85 349.98,718.45 344.92,718.45" fill="#24bf24" stroke="none" stroke-width="1" /><polygon points="354.32,715.35 356.85,719.95 351.79,719.95" fill="#24bf24" stroke="none" stroke-width="1" /><polygon points="361.2,716.48 363.73,721.08 358.67,721.08" fill="#24bf24" stroke="none" stroke-width="1" /><polygon points="395.56,721.12 398.09,725.72 393.03,725.72" fill="#24bf24" stroke="none" stroke-width="1" /><polygon points="429.93,727.9 432.46,732.5 427.4,732.5" fill="#24bf24" stroke="none" stroke-width="1" /><polygon points="464.29,727.27 466.82,731.87 461.76,731.87" fill="#24bf24" stroke="none" stroke-width="1" />
<path d="M258.1 611.57L258.1 616.59M255.9 611.57L260.3 611.57M255.9 616.59L260.3 616.59M264.97 615.34L264.97 620.36M262.77 615.34L267.17 615.34M262.77 620.36L267.17 620.36M271.85 615.34L271.85 621.61M269.65 615.34L274.05 615.34M269.65 621.61L274.05 621.61M278.72 618.48L278.72 623.5M276.52 618.48L280.92 618.48M276.52 623.5L280.92 623.5M292.47 612.83L292.47 624.12M290.27 612.83L294.67 612.83M290.27 624.12L294.67 624.12M299.34 615.97L299.34 626M297.14 615.97L301.54 615.97M297.14 626L301.54 626M306.21 619.1L306.21 624.12M304.01 619.1L308.41 619.1M304.01 624.12L308.41 624.12M326.83 617.22L326.83 629.77M324.63 617.22L329.03 617.22M324.63 629.77L329.03 629.77M395.56 621.24L395.56 628.77M393.36 621.24L397.76 621.24M393.36 628.77L397.76 628.77M429.93 624.88L429.93 632.41M427.73 624.88L432.13 624.88M427.73 632.41L432.13 632.41M464.29 613.46L464.29 632.28M462.09 613.46L466.49 613.46M462.09 632.28L466.49 632.28" fill="none" stroke="#111" stroke-width="1" />
<polyline points="258.1,614.08 264.97,617.85 271.85,618.48 278.72,620.99 292.47,618.48 299.34,620.99 306.21,621.61 326.83,623.5 395.56,625 429.93,628.64 464.29,622.87" fill="none" stroke="#111" stroke-width="1" stroke-linejoin="round"/>
<circle cx="258.1" cy="614.08" r="2.9" fill="#111" stroke="none" stroke-width="1" /><circle cx="264.97" cy="617.85" r="2.9" fill="#111" stroke="none" stroke-width="1" /><circle cx="271.85" cy="618.48" r="2.9" fill="#111" stroke="none" stroke-width="1" /><circle cx="278.72" cy="620.99" r="2.9" fill="#111" stroke="none" stroke-width="1" /><circle cx="292.47" cy="618.48" r="2.9" fill="#111" stroke="none" stroke-width="1" /><circle cx="299.34" cy="620.99" r="2.9" fill="#111" stroke="none" stroke-width="1" /><circle cx="306.21" cy="621.61" r="2.9" fill="#111" stroke="none" stroke-width="1" /><circle cx="326.83" cy="623.5" r="2.9" fill="#111" stroke="none" stroke-width="1" /><circle cx="395.56" cy="625" r="2.9" fill="#111" stroke="none" stroke-width="1" /><circle cx="429.93" cy="628.64" r="2.9" fill="#111" stroke="none" stroke-width="1" /><circle cx="464.29" cy="622.87" r="2.9" fill="#111" stroke="none" stroke-width="1" />
<path d="M258.1 619.73L258.1 624.75M256.2 619.73L260 619.73M256.2 624.75L260 624.75M264.97 610.95L264.97 618.48M263.07 610.95L266.87 610.95M263.07 618.48L266.87 618.48M271.85 615.97L271.85 620.99M269.95 615.97L273.75 615.97M269.95 620.99L273.75 620.99M278.72 617.85L278.72 624.12M276.82 617.85L280.62 617.85M276.82 624.12L280.62 624.12M285.59 623.5L285.59 631.03M283.69 623.5L287.49 623.5M283.69 631.03L287.49 631.03M292.47 622.24L292.47 627.26M290.57 622.24L294.37 622.24M290.57 627.26L294.37 627.26M299.34 622.24L299.34 627.26M297.44 622.24L301.24 622.24M297.44 627.26L301.24 627.26M306.21 622.24L306.21 627.26M304.31 622.24L308.11 622.24M304.31 627.26L308.11 627.26M313.08 621.61L313.08 627.89M311.18 621.61L314.98 621.61M311.18 627.89L314.98 627.89M319.96 620.99L319.96 628.52M318.06 620.99L321.86 620.99M318.06 628.52L321.86 628.52M326.83 623.5L326.83 628.52M324.93 623.5L328.73 623.5M324.93 628.52L328.73 628.52M333.7 625.38L333.7 629.14M331.8 625.38L335.6 625.38M331.8 629.14L335.6 629.14M340.58 623.5L340.58 628.52M338.68 623.5L342.48 623.5M338.68 628.52L342.48 628.52M347.45 623.5L347.45 628.52M345.55 623.5L349.35 623.5M345.55 628.52L349.35 628.52M354.32 624.12L354.32 629.14M352.42 624.12L356.22 624.12M352.42 629.14L356.22 629.14M361.2 624.75L361.2 629.77M359.3 624.75L363.1 624.75M359.3 629.77L363.1 629.77M395.56 625.5L395.56 630.52M393.66 625.5L397.46 625.5M393.66 630.52L397.46 630.52M429.93 628.01L429.93 633.03M428.03 628.01L431.83 628.01M428.03 633.03L431.83 633.03M464.29 629.39L464.29 635.67M462.39 629.39L466.19 629.39M462.39 635.67L466.19 635.67" fill="none" stroke="#e81c24" stroke-width="1" />
<polyline points="258.1,622.24 264.97,614.71 271.85,618.48 278.72,620.99 285.59,627.26 292.47,624.75 299.34,624.75 306.21,624.75 313.08,624.75 319.96,624.75 326.83,626 333.7,627.26 340.58,626 347.45,626 354.32,626.63 361.2,627.26 395.56,628.01 429.93,630.52 464.29,632.53" fill="none" stroke="#e81c24" stroke-width="1.25" stroke-linejoin="round"/>
<rect x="256.3" y="620.44" width="3.6" height="3.6" fill="#e81c24" stroke="none" stroke-width="1" /><rect x="263.17" y="612.91" width="3.6" height="3.6" fill="#e81c24" stroke="none" stroke-width="1" /><rect x="270.05" y="616.68" width="3.6" height="3.6" fill="#e81c24" stroke="none" stroke-width="1" /><rect x="276.92" y="619.19" width="3.6" height="3.6" fill="#e81c24" stroke="none" stroke-width="1" /><rect x="283.79" y="625.46" width="3.6" height="3.6" fill="#e81c24" stroke="none" stroke-width="1" /><rect x="290.67" y="622.95" width="3.6" height="3.6" fill="#e81c24" stroke="none" stroke-width="1" /><rect x="297.54" y="622.95" width="3.6" height="3.6" fill="#e81c24" stroke="none" stroke-width="1" /><rect x="304.41" y="622.95" width="3.6" height="3.6" fill="#e81c24" stroke="none" stroke-width="1" /><rect x="311.28" y="622.95" width="3.6" height="3.6" fill="#e81c24" stroke="none" stroke-width="1" /><rect x="318.16" y="622.95" width="3.6" height="3.6" fill="#e81c24" stroke="none" stroke-width="1" /><rect x="325.03" y="624.21" width="3.6" height="3.6" fill="#e81c24" stroke="none" stroke-width="1" /><rect x="331.9" y="625.46" width="3.6" height="3.6" fill="#e81c24" stroke="none" stroke-width="1" /><rect x="338.78" y="624.21" width="3.6" height="3.6" fill="#e81c24" stroke="none" stroke-width="1" /><rect x="345.65" y="624.21" width="3.6" height="3.6" fill="#e81c24" stroke="none" stroke-width="1" /><rect x="352.52" y="624.83" width="3.6" height="3.6" fill="#e81c24" stroke="none" stroke-width="1" /><rect x="359.4" y="625.46" width="3.6" height="3.6" fill="#e81c24" stroke="none" stroke-width="1" /><rect x="393.76" y="626.21" width="3.6" height="3.6" fill="#e81c24" stroke="none" stroke-width="1" /><rect x="428.13" y="628.72" width="3.6" height="3.6" fill="#e81c24" stroke="none" stroke-width="1" /><rect x="462.49" y="630.73" width="3.6" height="3.6" fill="#e81c24" stroke="none" stroke-width="1" />
<path d="M258.1 615.97L258.1 620.99M256.2 615.97L260 615.97M256.2 620.99L260 620.99M264.97 612.2L264.97 617.22M263.07 612.2L266.87 612.2M263.07 617.22L266.87 617.22M271.85 613.46L271.85 620.99M269.95 613.46L273.75 613.46M269.95 620.99L273.75 620.99M278.72 610.32L278.72 619.1M276.82 610.32L280.62 610.32M276.82 619.1L280.62 619.1M285.59 617.22L285.59 624.75M283.69 617.22L287.49 617.22M283.69 624.75L287.49 624.75M292.47 620.99L292.47 628.52M290.57 620.99L294.37 620.99M290.57 628.52L294.37 628.52M299.34 621.61L299.34 627.89M297.44 621.61L301.24 621.61M297.44 627.89L301.24 627.89M306.21 622.24L306.21 627.26M304.31 622.24L308.11 622.24M304.31 627.26L308.11 627.26M313.08 622.24L313.08 627.26M311.18 622.24L314.98 622.24M311.18 627.26L314.98 627.26M319.96 619.73L319.96 627.26M318.06 619.73L321.86 619.73M318.06 627.26L321.86 627.26M326.83 620.99L326.83 628.52M324.93 620.99L328.73 620.99M324.93 628.52L328.73 628.52M333.7 624.75L333.7 629.77M331.8 624.75L335.6 624.75M331.8 629.77L335.6 629.77M340.58 619.1L340.58 625.38M338.68 619.1L342.48 619.1M338.68 625.38L342.48 625.38M354.32 614.71L354.32 627.26M352.42 614.71L356.22 614.71M352.42 627.26L356.22 627.26M361.2 618.48L361.2 626M359.3 618.48L363.1 618.48M359.3 626L363.1 626M395.56 620.73L395.56 627.01M393.66 620.73L397.46 620.73M393.66 627.01L397.46 627.01M429.93 620.99L429.93 629.02M428.03 620.99L431.83 620.99M428.03 629.02L431.83 629.02M464.29 623.5L464.29 628.52M462.39 623.5L466.19 623.5M462.39 628.52L466.19 628.52" fill="none" stroke="#1616e0" stroke-width="1" />
<polyline points="258.1,618.48 264.97,614.71 271.85,617.22 278.72,614.71 285.59,620.99 292.47,624.75 299.34,624.75 306.21,624.75 313.08,624.75 319.96,623.5 326.83,624.75 333.7,627.26 340.58,622.24 347.45,618.48 354.32,620.99 361.2,622.24 395.56,623.87 429.93,625 464.29,626" fill="none" stroke="#1616e0" stroke-width="1.25" stroke-linejoin="round"/>
<circle cx="258.1" cy="618.48" r="1.9" fill="#1616e0" stroke="none" stroke-width="1" /><circle cx="264.97" cy="614.71" r="1.9" fill="#1616e0" stroke="none" stroke-width="1" /><circle cx="271.85" cy="617.22" r="1.9" fill="#1616e0" stroke="none" stroke-width="1" /><circle cx="278.72" cy="614.71" r="1.9" fill="#1616e0" stroke="none" stroke-width="1" /><circle cx="285.59" cy="620.99" r="1.9" fill="#1616e0" stroke="none" stroke-width="1" /><circle cx="292.47" cy="624.75" r="1.9" fill="#1616e0" stroke="none" stroke-width="1" /><circle cx="299.34" cy="624.75" r="1.9" fill="#1616e0" stroke="none" stroke-width="1" /><circle cx="306.21" cy="624.75" r="1.9" fill="#1616e0" stroke="none" stroke-width="1" /><circle cx="313.08" cy="624.75" r="1.9" fill="#1616e0" stroke="none" stroke-width="1" /><circle cx="319.96" cy="623.5" r="1.9" fill="#1616e0" stroke="none" stroke-width="1" /><circle cx="326.83" cy="624.75" r="1.9" fill="#1616e0" stroke="none" stroke-width="1" /><circle cx="333.7" cy="627.26" r="1.9" fill="#1616e0" stroke="none" stroke-width="1" /><circle cx="340.58" cy="622.24" r="1.9" fill="#1616e0" stroke="none" stroke-width="1" /><circle cx="347.45" cy="618.48" r="1.9" fill="#1616e0" stroke="none" stroke-width="1" /><circle cx="354.32" cy="620.99" r="1.9" fill="#1616e0" stroke="none" stroke-width="1" /><circle cx="361.2" cy="622.24" r="1.9" fill="#1616e0" stroke="none" stroke-width="1" /><circle cx="395.56" cy="623.87" r="1.9" fill="#1616e0" stroke="none" stroke-width="1" /><circle cx="429.93" cy="625" r="1.9" fill="#1616e0" stroke="none" stroke-width="1" /><circle cx="464.29" cy="626" r="1.9" fill="#1616e0" stroke="none" stroke-width="1" />
<polygon points="258.1,611.95 260.74,616.75 255.46,616.75" fill="#24bf24" stroke="none" stroke-width="1" />
<path d="M258.1 599.2 L258.1 737.7 L464.99 737.7" fill="none" stroke="#111" stroke-width="1.5" stroke-linecap="square"/>
<path d="M252.9 737.7L258.1 737.7M252.9 674.95L258.1 674.95M252.9 612.2L258.1 612.2M258.1 737.7L258.1 743.9M326.83 737.7L326.83 743.9M395.56 737.7L395.56 743.9M464.29 737.7L464.29 743.9" fill="none" stroke="#111" stroke-width="1.5" />
<text x="250" y="742.2" font-size="12.6" font-weight="bold" fill="#111" text-anchor="end" >0.0</text>
<text x="250" y="679.45" font-size="12.6" font-weight="bold" fill="#111" text-anchor="end" >0.5</text>
<text x="250" y="616.7" font-size="12.6" font-weight="bold" fill="#111" text-anchor="end" >1.0</text>
<text x="258.1" y="758" font-size="12.6" font-weight="bold" fill="#111" text-anchor="middle" >0</text>
<text x="326.83" y="758" font-size="12.6" font-weight="bold" fill="#111" text-anchor="middle" >10</text>
<text x="395.56" y="758" font-size="12.6" font-weight="bold" fill="#111" text-anchor="middle" >20</text>
<text x="464.29" y="758" font-size="12.6" font-weight="bold" fill="#111" text-anchor="middle" >30</text>
<text x="365" y="773" font-size="12.6" font-weight="bold" fill="#111" text-anchor="middle" textLength="64" lengthAdjust="spacingAndGlyphs" >Time (min)</text>
<g transform="translate(225.3 672.6) rotate(-90)"><text x="0" y="0" font-size="13.6" font-weight="bold" fill="#111" text-anchor="middle" textLength="124" lengthAdjust="spacingAndGlyphs" >Normalized Intensity</text></g>
<text x="391.9" y="616.3" font-size="10.5" font-weight="normal" fill="#1a1a1a" text-anchor="start" textLength="49.8" lengthAdjust="spacingAndGlyphs" >45 mW/cm²</text>
<text x="405.7" y="657.9" font-size="10.5" font-weight="normal" fill="#1a1a1a" text-anchor="start" textLength="54.9" lengthAdjust="spacingAndGlyphs" >145 mW/cm²</text>
<text x="360.6" y="687.4" font-size="10.5" font-weight="normal" fill="#1a1a1a" text-anchor="start" textLength="50.2" lengthAdjust="spacingAndGlyphs" >45 mW/cm²</text>
<text x="279" y="724.7" font-size="10.5" font-weight="normal" fill="#1a1a1a" text-anchor="start" textLength="55.6" lengthAdjust="spacingAndGlyphs" >145 mW/cm²</text>
<line x1="252.4" y1="549" x2="267.6" y2="549" stroke="#1616e0" stroke-width="1.5" />
<circle cx="260.2" cy="549" r="2.1" fill="#1616e0" stroke="none" stroke-width="1" />
<text x="269.6" y="551.9" font-size="10.7" font-weight="normal" fill="#111" text-anchor="start" textLength="46.8" lengthAdjust="spacingAndGlyphs" >ICG@LED</text>
<line x1="252.4" y1="567.5" x2="267.6" y2="567.5" stroke="#e81c24" stroke-width="1.5" />
<rect x="258.31" y="565.61" width="3.78" height="3.78" fill="#e81c24" stroke="none" stroke-width="1" />
<text x="269.6" y="570.8" font-size="10.7" font-weight="normal" fill="#111" text-anchor="start" textLength="70.5" lengthAdjust="spacingAndGlyphs" >TPA-TTQ@LED</text>
<line x1="252.4" y1="586" x2="267.6" y2="586" stroke="#24bf24" stroke-width="1.5" />
<polygon points="260.2,583.59 262.51,587.78 257.89,587.78" fill="#24bf24" stroke="none" stroke-width="1" />
<text x="269.6" y="589.6" font-size="10.7" font-weight="normal" fill="#111" text-anchor="start" textLength="63.4" lengthAdjust="spacingAndGlyphs" >ICG @808 nm</text>
<line x1="346" y1="548" x2="360.6" y2="548" stroke="#b42ad8" stroke-width="1.5" />
<polygon points="353.2,550.41 355.51,546.22 350.89,546.22" fill="#b42ad8" stroke="none" stroke-width="1" />
<text x="364.5" y="551.3" font-size="10.7" font-weight="normal" fill="#111" text-anchor="start" textLength="84.5" lengthAdjust="spacingAndGlyphs" >TPA-TQT@808 nm</text>
<line x1="346" y1="566.5" x2="360.6" y2="566.5" stroke="#ff8a1c" stroke-width="1.5" />
<polygon points="353.2,565.1 354.6,566.5 353.2,567.9 351.8,566.5" fill="#ff8a1c" stroke="none" stroke-width="1" />
<text x="364.5" y="570" font-size="10.7" font-weight="normal" fill="#111" text-anchor="start" textLength="58.5" lengthAdjust="spacingAndGlyphs" >ICG@808nm</text>
<line x1="346" y1="585.4" x2="360.6" y2="585.4" stroke="#111" stroke-width="1.5" />
<circle cx="353.2" cy="585.4" r="2.5" fill="#111" stroke="none" stroke-width="1" />
<text x="364.5" y="588.6" font-size="10.7" font-weight="normal" fill="#111" text-anchor="start" textLength="101.4" lengthAdjust="spacingAndGlyphs" >TPA-TQT@serum LED</text>
</g>
<g id="panel_i">
<text x="483" y="550.2" font-size="15.5" font-weight="bold" fill="#111" text-anchor="start" >i</text>
<g clip-path="url(#iClip)">
<polyline points="522.8,738.24 523.13,738.24 523.46,738.24 523.78,738.24 524.11,738.24 524.44,738.24 524.77,738.24 525.1,738.24 525.42,738.24 525.75,738.24 526.08,738.24 526.41,738.24 526.74,738.24 527.07,738.24 527.39,738.24 527.72,738.24 528.05,738.24 528.38,738.24 528.71,738.24 529.03,738.24 529.36,738.24 529.69,738.24 530.02,738.24 530.35,738.24 530.67,738.24 531,738.24 531.33,738.24 531.66,738.24 531.99,738.24 532.31,738.24 532.64,738.24 532.97,738.24 533.3,738.24 533.63,738.24 533.96,738.24 534.28,738.24 534.61,738.24 534.94,738.24 535.27,738.24 535.6,738.24 535.92,738.24 536.25,738.24 536.58,738.24 536.91,738.24 537.24,738.24 537.56,738.24 537.89,738.24 538.22,738.24 538.55,738.24 538.88,738.24 539.2,738.24 539.53,738.24 539.86,738.24 540.19,738.24 540.52,738.24 540.85,738.24 541.17,738.24 541.5,738.24 541.83,738.24 542.16,738.24 542.49,738.24 542.81,738.24 543.14,738.24 543.47,738.24 543.8,738.24 544.13,738.24 544.45,738.24 544.78,738.24 545.11,738.24 545.44,738.24 545.77,738.24 546.1,738.24 546.42,738.24 546.75,738.24 547.08,738.24 547.41,738.24 547.74,738.24 548.06,738.24 548.39,738.24 548.72,738.24 549.05,738.24 549.38,738.24 549.7,738.24 550.03,738.24 550.36,738.24 550.69,738.24 551.02,738.24 551.34,738.24 551.67,738.24 552,738.24 552.33,738.24 552.66,738.24 552.99,738.24 553.31,738.24 553.64,738.24 553.97,738.24 554.3,738.24 554.63,738.24 554.95,738.24 555.28,738.24 555.61,738.24 555.94,738.24 556.27,738.24 556.59,738.24 556.92,738.24 557.25,738.24 557.58,738.24 557.91,738.24 558.23,738.24 558.56,738.24 558.89,738.24 559.22,738.24 559.55,738.24 559.88,738.24 560.2,738.24 560.53,738.24 560.86,738.24 561.19,738.24 561.52,738.24 561.84,738.24 562.17,738.24 562.5,738.24 562.83,738.24 563.16,738.24 563.48,738.24 563.81,738.24 564.14,738.24 564.47,738.24 564.8,738.24 565.12,738.24 565.45,738.24 565.78,738.24 566.11,738.23 566.44,738.23 566.77,738.22 567.09,738.22 567.42,738.21 567.75,738.19 568.08,738.17 568.41,738.14 568.73,738.09 569.06,738.04 569.39,737.96 569.72,737.85 570.05,737.71 570.37,737.53 570.7,737.3 571.03,737 571.36,736.63 571.69,736.16 572.01,735.58 572.34,734.87 572.67,734.02 573,733.01 573.33,731.82 573.66,730.44 573.98,728.85 574.31,727.06 574.64,725.05 574.97,722.84 575.3,720.44 575.62,717.87 575.95,715.16 576.28,712.34 576.61,709.48 576.94,706.61 577.26,703.8 577.59,701.12 577.92,698.63 578.25,696.39 578.58,694.46 578.91,692.9 579.23,691.76 579.56,691.05 579.89,690.82 580.22,691.05 580.55,691.76 580.87,692.9 581.2,694.46 581.53,696.39 581.86,698.63 582.19,701.12 582.51,703.8 582.84,706.61 583.17,709.48 583.5,712.34 583.83,715.16 584.15,717.87 584.48,720.44 584.81,722.84 585.14,725.05 585.47,727.06 585.8,728.85 586.12,730.44 586.45,731.82 586.78,733.01 587.11,734.02 587.44,734.87 587.76,735.58 588.09,736.16 588.42,736.63 588.75,737 589.08,737.3 589.4,737.53 589.73,737.71 590.06,737.85 590.39,737.96 590.72,738.04 591.04,738.09 591.37,738.14 591.7,738.17 592.03,738.19 592.36,738.21 592.69,738.22 593.01,738.22 593.34,738.23 593.67,738.23 594,738.24 594.33,738.24 594.65,738.24 594.98,738.24 595.31,738.24 595.64,738.24 595.97,738.24 596.29,738.24 596.62,738.24 596.95,738.24 597.28,738.24 597.61,738.24 597.93,738.24 598.26,738.24 598.59,738.24 598.92,738.24 599.25,738.24 599.58,738.24 599.9,738.24 600.23,738.24 600.56,738.24 600.89,738.24 601.22,738.24 601.54,738.24 601.87,738.24 602.2,738.24 602.53,738.24 602.86,738.24 603.18,738.24 603.51,738.24 603.84,738.24 604.17,738.24 604.5,738.24 604.82,738.24 605.15,738.24 605.48,738.24 605.81,738.24 606.14,738.23 606.47,738.23 606.79,738.23 607.12,738.23 607.45,738.23 607.78,738.22 608.11,738.22 608.43,738.22 608.76,738.21 609.09,738.21 609.42,738.2 609.75,738.19 610.07,738.18 610.4,738.17 610.73,738.16 611.06,738.14 611.39,738.13 611.72,738.11 612.04,738.09 612.37,738.06 612.7,738.04 613.03,738.01 613.36,737.97 613.68,737.94 614.01,737.89 614.34,737.85 614.67,737.8 615,737.74 615.32,737.69 615.65,737.62 615.98,737.55 616.31,737.48 616.64,737.4 616.96,737.32 617.29,737.24 617.62,737.15 617.95,737.05 618.28,736.95 618.61,736.85 618.93,736.75 619.26,736.64 619.59,736.53 619.92,736.42 620.25,736.3 620.57,736.18 620.9,736.06 621.23,735.94 621.56,735.82 621.89,735.69 622.21,735.56 622.54,735.42 622.87,735.27 623.2,735.12 623.53,734.95 623.85,734.77 624.18,734.57 624.51,734.35 624.84,734.11 625.17,733.84 625.5,733.53 625.82,733.18 626.15,732.79 626.48,732.35 626.81,731.85 627.14,731.28 627.46,730.64 627.79,729.93 628.12,729.12 628.45,728.23 628.78,727.23 629.1,726.13 629.43,724.92 629.76,723.6 630.09,722.16 630.42,720.59 630.74,718.91 631.07,717.1 631.4,715.17 631.73,713.13 632.06,710.97 632.39,708.7 632.71,706.34 633.04,703.9 633.37,701.38 633.7,698.81 634.03,696.19 634.35,693.55 634.68,690.9 635.01,688.27 635.34,685.68 635.67,683.15 635.99,680.71 636.32,678.37 636.65,676.16 636.98,674.1 637.31,672.21 637.63,670.52 637.96,669.03 638.29,667.78 638.62,666.76 638.95,666 639.28,665.5 639.6,665.26 639.93,665.28 640.26,665.52 640.59,665.95 640.92,666.59 641.24,667.42 641.57,668.43 641.9,669.63 642.23,671 642.56,672.52 642.88,674.19 643.21,676 643.54,677.92 643.87,679.95 644.2,682.07 644.53,684.27 644.85,686.53 645.18,688.83 645.51,691.17 645.84,693.52 646.17,695.87 646.49,698.21 646.82,700.53 647.15,702.82 647.48,705.06 647.81,707.25 648.13,709.37 648.46,711.43 648.79,713.4 649.12,715.3 649.45,717.09 649.77,718.78 650.1,720.37 650.43,721.86 650.76,723.24 651.09,724.52 651.42,725.7 651.74,726.79 652.07,727.77 652.4,728.69 652.73,729.49 653.06,730.21 653.38,730.85 653.71,731.37 654.04,731.81 654.37,732.11 654.7,732.21 655.02,732.3 655.35,732.24 655.68,732.11 656.01,731.94 656.34,731.67 656.66,731.4 656.99,731.3 657.32,730.89 657.65,730.38 657.98,730.16 658.31,729.57 658.63,729.15 658.96,728.63 659.29,727.81 659.62,727.25 659.95,726.77 660.27,725.96 660.6,725.62 660.93,724.88 661.26,723.96 661.59,723.46 661.91,723.03 662.24,722.14 662.57,721.58 662.9,720.82 663.23,720.31 663.55,720 663.88,719.48 664.21,718.83 664.54,718.29 664.87,717.31 665.2,716.72 665.52,716.23 665.85,715.95 666.18,715.59 666.51,714.77 666.84,714.63 667.16,713.99 667.49,714.1 667.82,713.31 668.15,712.33 668.48,712.71 668.8,712.49 669.13,711.71 669.46,710.76 669.79,710.48 670.12,710.73 670.44,710.44 670.77,709.99 671.1,709.96 671.43,709.32 671.76,709.13 672.09,709.26 672.41,708.67 672.74,708.29 673.07,708.25 673.4,708.1 673.73,707.12 674.05,706.53 674.38,707.13 674.71,706.99 675.04,706.45 675.37,706.56 675.69,706.6 676.02,705.6 676.35,706.37 676.68,706.1 677.01,705.92 677.34,705.86 677.66,705.46 677.99,704.99 678.32,704.51 678.65,704.69 678.98,704.81 679.3,705.2 679.63,704.6 679.96,704.84 680.29,704.38 680.62,703.83 680.94,704.04 681.27,704.11 681.6,704.23 681.93,703.84 682.26,703.69 682.58,704.04 682.91,703.78 683.24,703.12 683.57,704.11 683.9,703.52 684.23,703.75 684.55,702.54 684.88,702.86 685.21,702.82 685.54,702.8 685.87,702.77 686.19,702.7 686.52,703.43 686.85,702.58 687.18,702.38 687.51,703.18 687.83,702.17 688.16,702.19 688.49,703.09 688.82,702.6 689.15,702.51 689.47,702.58 689.8,702.17 690.13,702.89 690.46,702.43 690.79,702.24 691.12,702.03 691.44,702.33 691.77,702.47 692.1,702.07 692.43,703.24 692.76,702 693.08,702.55 693.41,702.97 693.74,702.64 694.07,703.26 694.4,703.37 694.72,702.66 695.05,702.87 695.38,702.25 695.71,702.97 696.04,703.17 696.36,703.06 696.69,701.95 697.02,702.7 697.35,703 697.68,703.2 698.01,703.27 698.33,702.91 698.66,702.69 698.99,702.42 699.32,702.47 699.65,702.89 699.97,703.35 700.3,703.49 700.63,704.18 700.96,703.71 701.29,703.19 701.61,703.59 701.94,703.39 702.27,704.2 702.6,703.37 702.93,703.72 703.25,703.94 703.58,703.9 703.91,705.1 704.24,704.53 704.57,704.79 704.9,703.82 705.22,704.75 705.55,705.01 705.88,704.6 706.21,705.49 706.54,704.64 706.86,705.63 707.19,705.52 707.52,706.02 707.85,705.52 708.18,706.85 708.5,705.93 708.83,706.7 709.16,706.57 709.49,707.24 709.82,706.94 710.15,707.18 710.47,707.26 710.8,707.6 711.13,707.73 711.46,707.85 711.79,708.6 712.11,709.14 712.44,709.43 712.77,709.01 713.1,709.65 713.43,709.44 713.75,710.08 714.08,710.75 714.41,710.44 714.74,710.44 715.07,711.48 715.39,712.08 715.72,712.42 716.05,712.26 716.38,713.09 716.71,713.42 717.04,713.49 717.36,714.08 717.69,714.44 718.02,715.02 718.35,715.43 718.68,715.61 719,716.01 719.33,716.3 719.66,717 719.99,717.2 720.32,717.6 720.64,718.12 720.97,718.43 721.3,718.75 721.63,719.36 721.96,719.8 722.28,720.44 722.61,720.56 722.94,721.05 723.27,721.49 723.6,721.98 723.93,722.09 724.25,722.1 724.58,722.87 724.91,723.29 725.24,723.58 725.57,724.09 725.89,724.3 726.22,724.73 726.55,725.01 726.88,725.16 727.21,725.42 727.53,725.71 727.86,726 728.19,726.03 728.52,726.3 728.85,726.15 729.17,726.28 729.5,726.17 729.83,725.95 730.16,725.73 730.49,725.56 730.82,725.02 731.14,724.4 731.47,723.81 731.8,723.07 732.13,721.96 732.46,720.87 732.78,719.61 733.11,718.25 733.44,716.7 733.77,714.99 734.1,713.06 734.42,711.04 734.75,708.8 735.08,706.42 735.41,703.77 735.74,701.03 736.06,698.05 736.39,694.99 736.72,691.64 737.05,688.21 737.38,684.67 737.71,680.98 738.03,677.25 738.36,673.44 738.69,669.58 739.02,665.66 739.35,661.78 739.67,657.91 740,654.09 740.33,650.33 740.66,646.69 740.99,643.18 741.31,639.83 741.64,636.66 741.97,633.71 742.3,631.01 742.63,628.59 742.96,626.48 743.28,624.69 743.61,623.24 743.94,622.16 744.27,621.43 744.6,621.09 744.92,621.1 745.25,621.39 745.58,621.97 745.91,622.81 746.24,623.93 746.56,625.3 746.89,626.92 747.22,628.77 747.55,630.85 747.88,633.14 748.2,635.62 748.53,638.27 748.86,641.09 749.19,644.04 749.52,647.12 749.85,650.29 750.17,653.55 750.5,656.87 750.83,660.24 751.16,663.63 751.49,667.02 751.81,670.41 752.14,673.78 752.47,677.1 752.8,680.37 753.13,683.57 753.45,686.69 753.78,689.71 754.11,692.64 754.44,695.46 754.77,698.17 755.09,700.76 755.42,703.22 755.75,705.56 756.08,707.76 756.41,709.84 756.74,711.79 757.06,713.62 757.39,715.31 757.72,716.89 758.05,718.35 758.38,719.69 758.7,720.92 759.03,722.06 759.36,723.09 759.69,724.03 760.02,724.88 760.34,725.65 760.67,726.35 761,726.98 761.33,727.54 761.66,728.06 761.98,728.52 762.31,728.93 762.64,729.31 762.97,729.65 763.3,729.95 763.63,730.24 763.95,730.5 764.28,730.74 764.61,730.97 764.94,731.19 765.27,731.39 765.59,731.59 765.92,731.79 766.25,731.98 766.58,732.16 766.91,732.35 767.23,732.54 767.56,732.72 767.89,732.91 768.22,733.1 768.55,733.29 768.88,733.48 769.2,733.67 769.53,733.87 769.86,734.06 770.19,734.25 770.52,734.44 770.84,734.63 771.17,734.82 771.5,735 771.83,735.18 772.16,735.36 772.48,735.54 772.81,735.71 773.14,735.87 773.47,736.03 773.8,736.18 774.12,736.33 774.45,736.47 774.78,736.61 775.11,736.73 775.44,736.86 775.77,736.97 776.09,737.08 776.42,737.18 776.75,737.28 777.08,737.36 777.41,737.45 777.73,737.52 778.06,737.59 778.39,737.66 778.72,737.72 779.05,737.77 779.37,737.82 779.7,737.87 780.03,737.91 780.36,737.95 780.69,737.98 781.01,738.01 781.34,738.04 781.67,738.07 782,738.09 782.33,738.11 782.66,738.12 782.98,738.14 783.31,738.15 783.64,738.16 783.97,738.17 784.3,738.18 784.62,738.19 784.95,738.2 785.28,738.21" fill="none" stroke="#ff8c1a" stroke-width="1.7" stroke-linejoin="round"/>
<polyline points="522.8,738.24 523.13,738.24 523.46,738.24 523.78,738.24 524.11,738.24 524.44,738.24 524.77,738.24 525.1,738.24 525.42,738.24 525.75,738.24 526.08,738.24 526.41,738.24 526.74,738.24 527.07,738.24 527.39,738.24 527.72,738.24 528.05,738.24 528.38,738.24 528.71,738.24 529.03,738.24 529.36,738.24 529.69,738.24 530.02,738.24 530.35,738.24 530.67,738.24 531,738.24 531.33,738.24 531.66,738.24 531.99,738.24 532.31,738.24 532.64,738.24 532.97,738.24 533.3,738.24 533.63,738.24 533.96,738.24 534.28,738.24 534.61,738.24 534.94,738.24 535.27,738.24 535.6,738.24 535.92,738.24 536.25,738.24 536.58,738.24 536.91,738.24 537.24,738.24 537.56,738.24 537.89,738.24 538.22,738.24 538.55,738.24 538.88,738.24 539.2,738.24 539.53,738.24 539.86,738.24 540.19,738.24 540.52,738.24 540.85,738.24 541.17,738.24 541.5,738.24 541.83,738.24 542.16,738.24 542.49,738.24 542.81,738.24 543.14,738.24 543.47,738.24 543.8,738.24 544.13,738.24 544.45,738.24 544.78,738.24 545.11,738.24 545.44,738.24 545.77,738.24 546.1,738.24 546.42,738.24 546.75,738.24 547.08,738.24 547.41,738.24 547.74,738.24 548.06,738.24 548.39,738.24 548.72,738.24 549.05,738.24 549.38,738.24 549.7,738.24 550.03,738.24 550.36,738.24 550.69,738.24 551.02,738.24 551.34,738.24 551.67,738.24 552,738.24 552.33,738.24 552.66,738.24 552.99,738.24 553.31,738.24 553.64,738.24 553.97,738.24 554.3,738.24 554.63,738.24 554.95,738.24 555.28,738.24 555.61,738.24 555.94,738.24 556.27,738.24 556.59,738.24 556.92,738.24 557.25,738.24 557.58,738.24 557.91,738.24 558.23,738.24 558.56,738.24 558.89,738.24 559.22,738.24 559.55,738.24 559.88,738.24 560.2,738.24 560.53,738.24 560.86,738.24 561.19,738.24 561.52,738.24 561.84,738.24 562.17,738.24 562.5,738.24 562.83,738.24 563.16,738.24 563.48,738.24 563.81,738.24 564.14,738.24 564.47,738.24 564.8,738.24 565.12,738.24 565.45,738.24 565.78,738.24 566.11,738.23 566.44,738.23 566.77,738.23 567.09,738.22 567.42,738.21 567.75,738.2 568.08,738.18 568.41,738.16 568.73,738.13 569.06,738.08 569.39,738.02 569.72,737.94 570.05,737.83 570.37,737.69 570.7,737.5 571.03,737.27 571.36,736.98 571.69,736.61 572.01,736.16 572.34,735.61 572.67,734.94 573,734.15 573.33,733.23 573.66,732.15 573.98,730.91 574.31,729.5 574.64,727.94 574.97,726.21 575.3,724.33 575.62,722.32 575.95,720.2 576.28,718 576.61,715.76 576.94,713.52 577.26,711.33 577.59,709.24 577.92,707.29 578.25,705.54 578.58,704.03 578.91,702.81 579.23,701.92 579.56,701.37 579.89,701.18 580.22,701.37 580.55,701.92 580.87,702.81 581.2,704.03 581.53,705.54 581.86,707.29 582.19,709.24 582.51,711.33 582.84,713.52 583.17,715.76 583.5,718 583.83,720.2 584.15,722.32 584.48,724.33 584.81,726.21 585.14,727.94 585.47,729.5 585.8,730.91 586.12,732.15 586.45,733.23 586.78,734.15 587.11,734.94 587.44,735.61 587.76,736.16 588.09,736.61 588.42,736.98 588.75,737.27 589.08,737.5 589.4,737.69 589.73,737.83 590.06,737.94 590.39,738.02 590.72,738.08 591.04,738.13 591.37,738.16 591.7,738.18 592.03,738.2 592.36,738.21 592.69,738.22 593.01,738.23 593.34,738.23 593.67,738.23 594,738.24 594.33,738.24 594.65,738.24 594.98,738.24 595.31,738.24 595.64,738.24 595.97,738.24 596.29,738.24 596.62,738.24 596.95,738.24 597.28,738.24 597.61,738.24 597.93,738.24 598.26,738.24 598.59,738.24 598.92,738.24 599.25,738.24 599.58,738.24 599.9,738.24 600.23,738.24 600.56,738.24 600.89,738.24 601.22,738.24 601.54,738.24 601.87,738.24 602.2,738.24 602.53,738.24 602.86,738.24 603.18,738.24 603.51,738.24 603.84,738.24 604.17,738.24 604.5,738.24 604.82,738.24 605.15,738.24 605.48,738.24 605.81,738.24 606.14,738.23 606.47,738.23 606.79,738.23 607.12,738.23 607.45,738.23 607.78,738.23 608.11,738.22 608.43,738.22 608.76,738.21 609.09,738.21 609.42,738.2 609.75,738.2 610.07,738.19 610.4,738.18 610.73,738.17 611.06,738.15 611.39,738.14 611.72,738.12 612.04,738.1 612.37,738.08 612.7,738.06 613.03,738.03 613.36,738 613.68,737.96 614.01,737.93 614.34,737.89 614.67,737.84 615,737.79 615.32,737.74 615.65,737.68 615.98,737.62 616.31,737.55 616.64,737.48 616.96,737.41 617.29,737.33 617.62,737.25 617.95,737.16 618.28,737.07 618.61,736.98 618.93,736.89 619.26,736.79 619.59,736.69 619.92,736.59 620.25,736.48 620.57,736.38 620.9,736.27 621.23,736.16 621.56,736.05 621.89,735.93 622.21,735.81 622.54,735.68 622.87,735.55 623.2,735.41 623.53,735.26 623.85,735.1 624.18,734.92 624.51,734.72 624.84,734.5 625.17,734.25 625.5,733.98 625.82,733.66 626.15,733.31 626.48,732.91 626.81,732.45 627.14,731.94 627.46,731.36 627.79,730.71 628.12,729.99 628.45,729.18 628.78,728.28 629.1,727.28 629.43,726.19 629.76,724.99 630.09,723.68 630.42,722.27 630.74,720.74 631.07,719.1 631.4,717.36 631.73,715.5 632.06,713.55 632.39,711.5 632.71,709.37 633.04,707.15 633.37,704.87 633.7,702.54 634.03,700.17 634.35,697.78 634.68,695.39 635.01,693.01 635.34,690.66 635.67,688.37 635.99,686.16 636.32,684.04 636.65,682.04 636.98,680.17 637.31,678.47 637.63,676.93 637.96,675.59 638.29,674.45 638.62,673.53 638.95,672.84 639.28,672.39 639.6,672.17 639.93,672.19 640.26,672.41 640.59,672.8 640.92,673.37 641.24,674.13 641.57,675.05 641.9,676.13 642.23,677.37 642.56,678.75 642.88,680.26 643.21,681.89 643.54,683.64 643.87,685.48 644.2,687.4 644.53,689.38 644.85,691.43 645.18,693.51 645.51,695.63 645.84,697.75 646.17,699.88 646.49,702 646.82,704.1 647.15,706.17 647.48,708.2 647.81,710.18 648.13,712.11 648.46,713.97 648.79,715.76 649.12,717.47 649.45,719.09 649.77,720.62 650.1,722.06 650.43,723.41 650.76,724.67 651.09,725.83 651.42,726.9 651.74,727.89 652.07,728.78 652.4,729.62 652.73,730.34 653.06,730.99 653.38,731.58 653.71,732.06 654.04,732.46 654.37,732.74 654.7,732.84 655.02,732.93 655.35,732.89 655.68,732.79 656.01,732.65 656.34,732.42 656.66,732.2 656.99,732.12 657.32,731.76 657.65,731.31 657.98,731.13 658.31,730.61 658.63,730.25 658.96,729.8 659.29,729.08 659.62,728.59 659.95,728.17 660.27,727.46 660.6,727.17 660.93,726.52 661.26,725.71 661.59,725.27 661.91,724.9 662.24,724.12 662.57,723.63 662.9,722.96 663.23,722.51 663.55,722.24 663.88,721.78 664.21,721.22 664.54,720.74 664.87,719.89 665.2,719.37 665.52,718.93 665.85,718.69 666.18,718.38 666.51,717.66 666.84,717.54 667.16,716.98 667.49,717.07 667.82,716.37 668.15,715.52 668.48,715.85 668.8,715.66 669.13,714.97 669.46,714.14 669.79,713.89 670.12,714.11 670.44,713.86 670.77,713.46 671.1,713.43 671.43,712.87 671.76,712.71 672.09,712.83 672.41,712.31 672.74,711.97 673.07,711.94 673.4,711.81 673.73,710.95 674.05,710.43 674.38,710.96 674.71,710.83 675.04,710.36 675.37,710.45 675.69,710.49 676.02,709.61 676.35,710.29 676.68,710.05 677.01,709.89 677.34,709.84 677.66,709.49 677.99,709.08 678.32,708.66 678.65,708.81 678.98,708.92 679.3,709.26 679.63,708.74 679.96,708.95 680.29,708.55 680.62,708.06 680.94,708.25 681.27,708.31 681.6,708.42 681.93,708.07 682.26,707.94 682.58,708.24 682.91,708.02 683.24,707.44 683.57,708.31 683.9,707.79 684.23,707.99 684.55,706.93 684.88,707.21 685.21,707.18 685.54,707.16 685.87,707.13 686.19,707.07 686.52,707.71 686.85,706.97 687.18,706.79 687.51,707.5 687.83,706.6 688.16,706.62 688.49,707.41 688.82,706.99 689.15,706.9 689.47,706.97 689.8,706.61 690.13,707.23 690.46,706.84 690.79,706.67 691.12,706.49 691.44,706.75 691.77,706.87 692.1,706.52 692.43,707.55 692.76,706.46 693.08,706.94 693.41,707.31 693.74,707.01 694.07,707.56 694.4,707.66 694.72,707.03 695.05,707.22 695.38,706.68 695.71,707.31 696.04,707.49 696.36,707.39 696.69,706.41 697.02,707.07 697.35,707.34 697.68,707.51 698.01,707.57 698.33,707.26 698.66,707.07 698.99,706.83 699.32,706.87 699.65,707.24 699.97,707.64 700.3,707.77 700.63,708.37 700.96,707.95 701.29,707.5 701.61,707.85 701.94,707.67 702.27,708.38 702.6,707.66 702.93,707.97 703.25,708.15 703.58,708.13 703.91,709.17 704.24,708.68 704.57,708.9 704.9,708.05 705.22,708.87 705.55,709.1 705.88,708.74 706.21,709.52 706.54,708.78 706.86,709.64 707.19,709.55 707.52,709.98 707.85,709.54 708.18,710.71 708.5,709.9 708.83,710.58 709.16,710.47 709.49,711.05 709.82,710.79 710.15,711 710.47,711.07 710.8,711.37 711.13,711.48 711.46,711.59 711.79,712.24 712.11,712.72 712.44,712.97 712.77,712.61 713.1,713.16 713.43,712.98 713.75,713.54 714.08,714.13 714.41,713.86 714.74,713.86 715.07,714.77 715.39,715.3 715.72,715.6 716.05,715.45 716.38,716.19 716.71,716.48 717.04,716.54 717.36,717.05 717.69,717.37 718.02,717.88 718.35,718.24 718.68,718.39 719,718.74 719.33,719 719.66,719.61 719.99,719.79 720.32,720.13 720.64,720.59 720.97,720.86 721.3,721.14 721.63,721.67 721.96,722.05 722.28,722.61 722.61,722.72 722.94,723.14 723.27,723.52 723.6,723.94 723.93,724.03 724.25,724.04 724.58,724.7 724.91,725.06 725.24,725.3 725.57,725.73 725.89,725.89 726.22,726.24 726.55,726.46 726.88,726.56 727.21,726.76 727.53,726.97 727.86,727.18 728.19,727.15 728.52,727.34 728.85,727.15 729.17,727.19 729.5,727.02 729.83,726.74 730.16,726.45 730.49,726.2 730.82,725.62 731.14,724.96 731.47,724.31 731.8,723.52 732.13,722.4 732.46,721.29 732.78,720.02 733.11,718.66 733.44,717.13 733.77,715.44 734.1,713.56 734.42,711.6 734.75,709.45 735.08,707.17 735.41,704.66 735.74,702.07 736.06,699.28 736.39,696.42 736.72,693.33 737.05,690.18 737.38,686.95 737.71,683.61 738.03,680.25 738.36,676.84 738.69,673.42 739.02,669.97 739.35,666.58 739.67,663.23 740,659.96 740.33,656.78 740.66,653.73 740.99,650.82 741.31,648.09 741.64,645.55 741.97,643.22 742.3,641.14 742.63,639.33 742.96,637.82 743.28,636.61 743.61,635.71 743.94,635.14 744.27,634.9 744.6,634.97 744.92,635.28 745.25,635.84 745.58,636.63 745.91,637.66 746.24,638.92 746.56,640.39 746.89,642.07 747.22,643.95 747.55,646 747.88,648.22 748.2,650.6 748.53,653.11 748.86,655.74 749.19,658.48 749.52,661.3 749.85,664.19 750.17,667.14 750.5,670.11 750.83,673.11 751.16,676.12 751.49,679.11 751.81,682.08 752.14,685 752.47,687.88 752.8,690.7 753.13,693.44 753.45,696.1 753.78,698.67 754.11,701.15 754.44,703.52 754.77,705.78 755.09,707.94 755.42,709.98 755.75,711.91 756.08,713.73 756.41,715.43 756.74,717.02 757.06,718.49 757.39,719.86 757.72,721.13 758.05,722.29 758.38,723.36 758.7,724.34 759.03,725.22 759.36,726.03 759.69,726.76 760.02,727.42 760.34,728.02 760.67,728.55 761,729.03 761.33,729.46 761.66,729.85 761.98,730.19 762.31,730.5 762.64,730.78 762.97,731.04 763.3,731.27 763.63,731.48 763.95,731.68 764.28,731.86 764.61,732.03 764.94,732.2 765.27,732.36 765.59,732.51 765.92,732.67 766.25,732.82 766.58,732.97 766.91,733.12 767.23,733.28 767.56,733.43 767.89,733.59 768.22,733.75 768.55,733.91 768.88,734.07 769.2,734.24 769.53,734.4 769.86,734.57 770.19,734.74 770.52,734.9 770.84,735.07 771.17,735.23 771.5,735.39 771.83,735.55 772.16,735.71 772.48,735.86 772.81,736.01 773.14,736.15 773.47,736.29 773.8,736.43 774.12,736.56 774.45,736.68 774.78,736.8 775.11,736.91 775.44,737.02 775.77,737.12 776.09,737.22 776.42,737.31 776.75,737.39 777.08,737.47 777.41,737.54 777.73,737.61 778.06,737.67 778.39,737.73 778.72,737.78 779.05,737.83 779.37,737.87 779.7,737.91 780.03,737.95 780.36,737.98 780.69,738.01 781.01,738.04 781.34,738.06 781.67,738.09 782,738.11 782.33,738.12 782.66,738.14 782.98,738.15 783.31,738.16 783.64,738.17 783.97,738.18 784.3,738.19 784.62,738.2 784.95,738.2 785.28,738.21" fill="none" stroke="#b224e0" stroke-width="1.7" stroke-linejoin="round"/>
<polyline points="522.8,738.24 523.13,738.24 523.46,738.24 523.78,738.24 524.11,738.24 524.44,738.24 524.77,738.24 525.1,738.24 525.42,738.24 525.75,738.24 526.08,738.24 526.41,738.24 526.74,738.24 527.07,738.24 527.39,738.24 527.72,738.24 528.05,738.24 528.38,738.24 528.71,738.24 529.03,738.24 529.36,738.24 529.69,738.24 530.02,738.24 530.35,738.24 530.67,738.24 531,738.24 531.33,738.24 531.66,738.24 531.99,738.24 532.31,738.24 532.64,738.24 532.97,738.24 533.3,738.24 533.63,738.24 533.96,738.24 534.28,738.24 534.61,738.24 534.94,738.24 535.27,738.24 535.6,738.24 535.92,738.24 536.25,738.24 536.58,738.24 536.91,738.24 537.24,738.24 537.56,738.24 537.89,738.24 538.22,738.24 538.55,738.24 538.88,738.24 539.2,738.24 539.53,738.24 539.86,738.24 540.19,738.24 540.52,738.24 540.85,738.24 541.17,738.24 541.5,738.24 541.83,738.24 542.16,738.24 542.49,738.24 542.81,738.24 543.14,738.24 543.47,738.24 543.8,738.24 544.13,738.24 544.45,738.24 544.78,738.24 545.11,738.24 545.44,738.24 545.77,738.24 546.1,738.24 546.42,738.24 546.75,738.24 547.08,738.24 547.41,738.24 547.74,738.24 548.06,738.24 548.39,738.24 548.72,738.24 549.05,738.24 549.38,738.24 549.7,738.24 550.03,738.24 550.36,738.24 550.69,738.24 551.02,738.24 551.34,738.24 551.67,738.24 552,738.24 552.33,738.24 552.66,738.24 552.99,738.24 553.31,738.24 553.64,738.24 553.97,738.24 554.3,738.24 554.63,738.24 554.95,738.24 555.28,738.24 555.61,738.24 555.94,738.24 556.27,738.24 556.59,738.24 556.92,738.24 557.25,738.24 557.58,738.24 557.91,738.24 558.23,738.24 558.56,738.24 558.89,738.24 559.22,738.24 559.55,738.24 559.88,738.24 560.2,738.24 560.53,738.24 560.86,738.24 561.19,738.24 561.52,738.24 561.84,738.24 562.17,738.24 562.5,738.24 562.83,738.24 563.16,738.24 563.48,738.24 563.81,738.24 564.14,738.24 564.47,738.24 564.8,738.24 565.12,738.24 565.45,738.24 565.78,738.24 566.11,738.24 566.44,738.23 566.77,738.23 567.09,738.23 567.42,738.22 567.75,738.21 568.08,738.2 568.41,738.18 568.73,738.16 569.06,738.13 569.39,738.09 569.72,738.03 570.05,737.96 570.37,737.86 570.7,737.73 571.03,737.57 571.36,737.37 571.69,737.12 572.01,736.81 572.34,736.43 572.67,735.97 573,735.42 573.33,734.78 573.66,734.04 573.98,733.19 574.31,732.22 574.64,731.14 574.97,729.95 575.3,728.66 575.62,727.27 575.95,725.81 576.28,724.3 576.61,722.75 576.94,721.21 577.26,719.7 577.59,718.25 577.92,716.91 578.25,715.7 578.58,714.67 578.91,713.83 579.23,713.21 579.56,712.83 579.89,712.7 580.22,712.83 580.55,713.21 580.87,713.83 581.2,714.67 581.53,715.7 581.86,716.91 582.19,718.25 582.51,719.7 582.84,721.21 583.17,722.75 583.5,724.3 583.83,725.81 584.15,727.27 584.48,728.66 584.81,729.95 585.14,731.14 585.47,732.22 585.8,733.19 586.12,734.04 586.45,734.78 586.78,735.42 587.11,735.97 587.44,736.43 587.76,736.81 588.09,737.12 588.42,737.37 588.75,737.57 589.08,737.73 589.4,737.86 589.73,737.96 590.06,738.03 590.39,738.09 590.72,738.13 591.04,738.16 591.37,738.18 591.7,738.2 592.03,738.21 592.36,738.22 592.69,738.23 593.01,738.23 593.34,738.23 593.67,738.24 594,738.24 594.33,738.24 594.65,738.24 594.98,738.24 595.31,738.24 595.64,738.24 595.97,738.24 596.29,738.24 596.62,738.24 596.95,738.24 597.28,738.24 597.61,738.24 597.93,738.24 598.26,738.24 598.59,738.24 598.92,738.24 599.25,738.24 599.58,738.24 599.9,738.24 600.23,738.24 600.56,738.24 600.89,738.24 601.22,738.24 601.54,738.24 601.87,738.24 602.2,738.24 602.53,738.24 602.86,738.24 603.18,738.24 603.51,738.24 603.84,738.24 604.17,738.24 604.5,738.24 604.82,738.24 605.15,738.24 605.48,738.24 605.81,738.24 606.14,738.24 606.47,738.23 606.79,738.23 607.12,738.23 607.45,738.23 607.78,738.23 608.11,738.23 608.43,738.22 608.76,738.22 609.09,738.21 609.42,738.21 609.75,738.2 610.07,738.2 610.4,738.19 610.73,738.18 611.06,738.17 611.39,738.15 611.72,738.14 612.04,738.12 612.37,738.11 612.7,738.08 613.03,738.06 613.36,738.04 613.68,738.01 614.01,737.98 614.34,737.94 614.67,737.9 615,737.86 615.32,737.82 615.65,737.77 615.98,737.72 616.31,737.66 616.64,737.6 616.96,737.54 617.29,737.47 617.62,737.4 617.95,737.33 618.28,737.26 618.61,737.18 618.93,737.1 619.26,737.02 619.59,736.93 619.92,736.85 620.25,736.76 620.57,736.67 620.9,736.58 621.23,736.49 621.56,736.39 621.89,736.29 622.21,736.19 622.54,736.09 622.87,735.97 623.2,735.86 623.53,735.73 623.85,735.59 624.18,735.44 624.51,735.27 624.84,735.09 625.17,734.88 625.5,734.65 625.82,734.38 626.15,734.08 626.48,733.74 626.81,733.36 627.14,732.93 627.46,732.44 627.79,731.89 628.12,731.28 628.45,730.6 628.78,729.84 629.1,729 629.43,728.08 629.76,727.07 630.09,725.97 630.42,724.77 630.74,723.49 631.07,722.11 631.4,720.64 631.73,719.07 632.06,717.43 632.39,715.7 632.71,713.9 633.04,712.03 633.37,710.11 633.7,708.15 634.03,706.15 634.35,704.13 634.68,702.11 635.01,700.11 635.34,698.13 635.67,696.2 635.99,694.33 636.32,692.55 636.65,690.86 636.98,689.29 637.31,687.85 637.63,686.56 637.96,685.42 638.29,684.47 638.62,683.69 638.95,683.11 639.28,682.73 639.6,682.55 639.93,682.56 640.26,682.74 640.59,683.07 640.92,683.56 641.24,684.19 641.57,684.97 641.9,685.88 642.23,686.92 642.56,688.09 642.88,689.36 643.21,690.74 643.54,692.21 643.87,693.76 644.2,695.38 644.53,697.05 644.85,698.78 645.18,700.53 645.51,702.32 645.84,704.11 646.17,705.9 646.49,707.69 646.82,709.46 647.15,711.21 647.48,712.92 647.81,714.59 648.13,716.21 648.46,717.78 648.79,719.29 649.12,720.73 649.45,722.1 649.77,723.4 650.1,724.61 650.43,725.76 650.76,726.82 651.09,727.81 651.42,728.72 651.74,729.56 652.07,730.32 652.4,731.04 652.73,731.66 653.06,732.22 653.38,732.73 653.71,733.15 654.04,733.51 654.37,733.78 654.7,733.9 655.02,734.02 655.35,734.03 655.68,733.99 656.01,733.93 656.34,733.79 656.66,733.65 656.99,733.61 657.32,733.37 657.65,733.06 657.98,732.94 658.31,732.58 658.63,732.32 658.96,732 659.29,731.49 659.62,731.14 659.95,730.84 660.27,730.32 660.6,730.12 660.93,729.64 661.26,729.05 661.59,728.74 661.91,728.46 662.24,727.9 662.57,727.54 662.9,727.05 663.23,726.73 663.55,726.53 663.88,726.2 664.21,725.78 664.54,725.43 664.87,724.81 665.2,724.43 665.52,724.11 665.85,723.93 666.18,723.71 666.51,723.18 666.84,723.09 667.16,722.68 667.49,722.75 667.82,722.24 668.15,721.61 668.48,721.85 668.8,721.72 669.13,721.21 669.46,720.61 669.79,720.42 670.12,720.59 670.44,720.4 670.77,720.11 671.1,720.09 671.43,719.68 671.76,719.56 672.09,719.65 672.41,719.26 672.74,719.02 673.07,718.99 673.4,718.9 673.73,718.27 674.05,717.89 674.38,718.28 674.71,718.19 675.04,717.84 675.37,717.91 675.69,717.94 676.02,717.29 676.35,717.79 676.68,717.61 677.01,717.5 677.34,717.46 677.66,717.2 677.99,716.91 678.32,716.6 678.65,716.71 678.98,716.79 679.3,717.04 679.63,716.65 679.96,716.8 680.29,716.51 680.62,716.16 680.94,716.29 681.27,716.34 681.6,716.42 681.93,716.16 682.26,716.07 682.58,716.29 682.91,716.13 683.24,715.7 683.57,716.34 683.9,715.96 684.23,716.11 684.55,715.33 684.88,715.53 685.21,715.51 685.54,715.49 685.87,715.48 686.19,715.43 686.52,715.9 686.85,715.36 687.18,715.23 687.51,715.74 687.83,715.09 688.16,715.11 688.49,715.68 688.82,715.37 689.15,715.31 689.47,715.36 689.8,715.09 690.13,715.55 690.46,715.26 690.79,715.14 691.12,715.01 691.44,715.2 691.77,715.28 692.1,715.03 692.43,715.78 692.76,714.98 693.08,715.34 693.41,715.61 693.74,715.39 694.07,715.79 694.4,715.86 694.72,715.41 695.05,715.55 695.38,715.15 695.71,715.61 696.04,715.74 696.36,715.66 696.69,714.95 697.02,715.43 697.35,715.63 697.68,715.75 698.01,715.8 698.33,715.57 698.66,715.43 698.99,715.26 699.32,715.29 699.65,715.56 699.97,715.85 700.3,715.94 700.63,716.38 700.96,716.08 701.29,715.74 701.61,716 701.94,715.87 702.27,716.39 702.6,715.86 702.93,716.09 703.25,716.23 703.58,716.2 703.91,716.97 704.24,716.61 704.57,716.77 704.9,716.15 705.22,716.75 705.55,716.92 705.88,716.65 706.21,717.23 706.54,716.68 706.86,717.31 707.19,717.25 707.52,717.56 707.85,717.24 708.18,718.1 708.5,717.51 708.83,718 709.16,717.92 709.49,718.35 709.82,718.15 710.15,718.31 710.47,718.36 710.8,718.58 711.13,718.66 711.46,718.74 711.79,719.22 712.11,719.56 712.44,719.75 712.77,719.48 713.1,719.89 713.43,719.76 713.75,720.17 714.08,720.6 714.41,720.4 714.74,720.4 715.07,721.07 715.39,721.46 715.72,721.67 716.05,721.57 716.38,722.1 716.71,722.31 717.04,722.36 717.36,722.74 717.69,722.97 718.02,723.34 718.35,723.6 718.68,723.71 719,723.97 719.33,724.16 719.66,724.6 719.99,724.73 720.32,724.98 720.64,725.31 720.97,725.5 721.3,725.71 721.63,726.09 721.96,726.37 722.28,726.77 722.61,726.84 722.94,727.14 723.27,727.4 723.6,727.7 723.93,727.75 724.25,727.73 724.58,728.2 724.91,728.43 725.24,728.58 725.57,728.86 725.89,728.94 726.22,729.15 726.55,729.26 726.88,729.27 727.21,729.35 727.53,729.42 727.86,729.48 728.19,729.37 728.52,729.39 728.85,729.12 729.17,729.01 729.5,728.73 729.83,728.36 730.16,727.96 730.49,727.57 730.82,726.92 731.14,726.2 731.47,725.47 731.8,724.61 732.13,723.5 732.46,722.37 732.78,721.11 733.11,719.76 733.44,718.27 733.77,716.66 734.1,714.89 734.42,713.06 734.75,711.07 735.08,708.99 735.41,706.74 735.74,704.43 736.06,701.98 736.39,699.49 736.72,696.84 737.05,694.16 737.38,691.44 737.71,688.68 738.03,685.92 738.36,683.17 738.69,680.44 739.02,677.73 739.35,675.11 739.67,672.56 740,670.12 740.33,667.79 740.66,665.61 740.99,663.59 741.31,661.74 741.64,660.09 741.97,658.64 742.3,657.42 742.63,656.45 742.96,655.73 743.28,655.27 743.61,655.08 743.94,655.13 744.27,655.39 744.6,655.84 744.92,656.48 745.25,657.31 745.58,658.33 745.91,659.51 746.24,660.87 746.56,662.38 746.89,664.04 747.22,665.83 747.55,667.75 747.88,669.78 748.2,671.9 748.53,674.11 748.86,676.38 749.19,678.72 749.52,681.09 749.85,683.5 750.17,685.92 750.5,688.35 750.83,690.76 751.16,693.16 751.49,695.52 751.81,697.85 752.14,700.12 752.47,702.34 752.8,704.49 753.13,706.57 753.45,708.57 753.78,710.49 754.11,712.32 754.44,714.06 754.77,715.72 755.09,717.28 755.42,718.74 755.75,720.12 756.08,721.4 756.41,722.59 756.74,723.7 757.06,724.72 757.39,725.66 757.72,726.52 758.05,727.3 758.38,728.01 758.7,728.66 759.03,729.24 759.36,729.76 759.69,730.23 760.02,730.65 760.34,731.02 760.67,731.36 761,731.65 761.33,731.92 761.66,732.15 761.98,732.36 762.31,732.54 762.64,732.71 762.97,732.86 763.3,733 763.63,733.12 763.95,733.24 764.28,733.36 764.61,733.46 764.94,733.57 765.27,733.67 765.59,733.78 765.92,733.88 766.25,733.98 766.58,734.09 766.91,734.2 767.23,734.31 767.56,734.43 767.89,734.55 768.22,734.67 768.55,734.79 768.88,734.92 769.2,735.04 769.53,735.17 769.86,735.3 770.19,735.43 770.52,735.57 770.84,735.7 771.17,735.83 771.5,735.96 771.83,736.08 772.16,736.21 772.48,736.33 772.81,736.45 773.14,736.56 773.47,736.68 773.8,736.78 774.12,736.89 774.45,736.99 774.78,737.08 775.11,737.17 775.44,737.26 775.77,737.34 776.09,737.42 776.42,737.49 776.75,737.56 777.08,737.62 777.41,737.68 777.73,737.73 778.06,737.78 778.39,737.83 778.72,737.87 779.05,737.91 779.37,737.94 779.7,737.98 780.03,738.01 780.36,738.03 780.69,738.06 781.01,738.08 781.34,738.1 781.67,738.12 782,738.13 782.33,738.15 782.66,738.16 782.98,738.17 783.31,738.18 783.64,738.19 783.97,738.19 784.3,738.2 784.62,738.21 784.95,738.21 785.28,738.22" fill="none" stroke="#27c234" stroke-width="1.7" stroke-linejoin="round"/>
<polyline points="522.8,738.24 523.13,738.24 523.46,738.24 523.78,738.24 524.11,738.24 524.44,738.24 524.77,738.24 525.1,738.24 525.42,738.24 525.75,738.24 526.08,738.24 526.41,738.24 526.74,738.24 527.07,738.24 527.39,738.24 527.72,738.24 528.05,738.24 528.38,738.24 528.71,738.24 529.03,738.24 529.36,738.24 529.69,738.24 530.02,738.24 530.35,738.24 530.67,738.24 531,738.24 531.33,738.24 531.66,738.24 531.99,738.24 532.31,738.24 532.64,738.24 532.97,738.24 533.3,738.24 533.63,738.24 533.96,738.24 534.28,738.24 534.61,738.24 534.94,738.24 535.27,738.24 535.6,738.24 535.92,738.24 536.25,738.24 536.58,738.24 536.91,738.24 537.24,738.24 537.56,738.24 537.89,738.24 538.22,738.24 538.55,738.24 538.88,738.24 539.2,738.24 539.53,738.24 539.86,738.24 540.19,738.24 540.52,738.24 540.85,738.24 541.17,738.24 541.5,738.24 541.83,738.24 542.16,738.24 542.49,738.24 542.81,738.24 543.14,738.24 543.47,738.24 543.8,738.24 544.13,738.24 544.45,738.24 544.78,738.24 545.11,738.24 545.44,738.24 545.77,738.24 546.1,738.24 546.42,738.24 546.75,738.24 547.08,738.24 547.41,738.24 547.74,738.24 548.06,738.24 548.39,738.24 548.72,738.24 549.05,738.24 549.38,738.24 549.7,738.24 550.03,738.24 550.36,738.24 550.69,738.24 551.02,738.24 551.34,738.24 551.67,738.24 552,738.24 552.33,738.24 552.66,738.24 552.99,738.24 553.31,738.24 553.64,738.24 553.97,738.24 554.3,738.24 554.63,738.24 554.95,738.24 555.28,738.24 555.61,738.24 555.94,738.24 556.27,738.24 556.59,738.24 556.92,738.24 557.25,738.24 557.58,738.24 557.91,738.24 558.23,738.24 558.56,738.24 558.89,738.24 559.22,738.24 559.55,738.24 559.88,738.24 560.2,738.24 560.53,738.24 560.86,738.24 561.19,738.24 561.52,738.24 561.84,738.24 562.17,738.24 562.5,738.24 562.83,738.24 563.16,738.24 563.48,738.24 563.81,738.24 564.14,738.24 564.47,738.24 564.8,738.24 565.12,738.24 565.45,738.24 565.78,738.24 566.11,738.24 566.44,738.24 566.77,738.24 567.09,738.23 567.42,738.23 567.75,738.23 568.08,738.22 568.41,738.21 568.73,738.2 569.06,738.19 569.39,738.17 569.72,738.14 570.05,738.1 570.37,738.05 570.7,737.99 571.03,737.91 571.36,737.82 571.69,737.69 572.01,737.54 572.34,737.35 572.67,737.13 573,736.86 573.33,736.55 573.66,736.19 573.98,735.77 574.31,735.3 574.64,734.77 574.97,734.19 575.3,733.56 575.62,732.88 575.95,732.17 576.28,731.42 576.61,730.67 576.94,729.92 577.26,729.18 577.59,728.47 577.92,727.82 578.25,727.23 578.58,726.72 578.91,726.31 579.23,726.01 579.56,725.82 579.89,725.76 580.22,725.82 580.55,726.01 580.87,726.31 581.2,726.72 581.53,727.23 581.86,727.82 582.19,728.47 582.51,729.18 582.84,729.92 583.17,730.67 583.5,731.42 583.83,732.17 584.15,732.88 584.48,733.56 584.81,734.19 585.14,734.77 585.47,735.3 585.8,735.77 586.12,736.19 586.45,736.55 586.78,736.86 587.11,737.13 587.44,737.35 587.76,737.54 588.09,737.69 588.42,737.82 588.75,737.91 589.08,737.99 589.4,738.05 589.73,738.1 590.06,738.14 590.39,738.17 590.72,738.19 591.04,738.2 591.37,738.21 591.7,738.22 592.03,738.23 592.36,738.23 592.69,738.23 593.01,738.24 593.34,738.24 593.67,738.24 594,738.24 594.33,738.24 594.65,738.24 594.98,738.24 595.31,738.24 595.64,738.24 595.97,738.24 596.29,738.24 596.62,738.24 596.95,738.24 597.28,738.24 597.61,738.24 597.93,738.24 598.26,738.24 598.59,738.24 598.92,738.24 599.25,738.24 599.58,738.24 599.9,738.24 600.23,738.24 600.56,738.24 600.89,738.24 601.22,738.24 601.54,738.24 601.87,738.24 602.2,738.24 602.53,738.24 602.86,738.24 603.18,738.24 603.51,738.24 603.84,738.24 604.17,738.24 604.5,738.24 604.82,738.24 605.15,738.24 605.48,738.24 605.81,738.24 606.14,738.24 606.47,738.24 606.79,738.24 607.12,738.23 607.45,738.23 607.78,738.23 608.11,738.23 608.43,738.23 608.76,738.23 609.09,738.22 609.42,738.22 609.75,738.22 610.07,738.21 610.4,738.21 610.73,738.2 611.06,738.19 611.39,738.19 611.72,738.18 612.04,738.17 612.37,738.16 612.7,738.14 613.03,738.13 613.36,738.11 613.68,738.09 614.01,738.07 614.34,738.05 614.67,738.03 615,738 615.32,737.97 615.65,737.94 615.98,737.91 616.31,737.88 616.64,737.84 616.96,737.8 617.29,737.76 617.62,737.72 617.95,737.67 618.28,737.62 618.61,737.57 618.93,737.52 619.26,737.47 619.59,737.42 619.92,737.37 620.25,737.31 620.57,737.26 620.9,737.2 621.23,737.14 621.56,737.08 621.89,737.02 622.21,736.95 622.54,736.89 622.87,736.82 623.2,736.74 623.53,736.66 623.85,736.58 624.18,736.48 624.51,736.38 624.84,736.26 625.17,736.13 625.5,735.98 625.82,735.82 626.15,735.63 626.48,735.42 626.81,735.18 627.14,734.91 627.46,734.6 627.79,734.26 628.12,733.87 628.45,733.44 628.78,732.97 629.1,732.44 629.43,731.86 629.76,731.23 630.09,730.54 630.42,729.79 630.74,728.98 631.07,728.12 631.4,727.19 631.73,726.21 632.06,725.18 632.39,724.09 632.71,722.96 633.04,721.79 633.37,720.59 633.7,719.35 634.03,718.1 634.35,716.83 634.68,715.57 635.01,714.31 635.34,713.07 635.67,711.86 635.99,710.68 636.32,709.56 636.65,708.5 636.98,707.52 637.31,706.62 637.63,705.8 637.96,705.09 638.29,704.49 638.62,704.01 638.95,703.64 639.28,703.4 639.6,703.29 639.93,703.3 640.26,703.41 640.59,703.62 640.92,703.92 641.24,704.32 641.57,704.81 641.9,705.38 642.23,706.03 642.56,706.76 642.88,707.56 643.21,708.43 643.54,709.35 643.87,710.32 644.2,711.34 644.53,712.39 644.85,713.47 645.18,714.58 645.51,715.69 645.84,716.82 646.17,717.95 646.49,719.07 646.82,720.18 647.15,721.27 647.48,722.35 647.81,723.4 648.13,724.41 648.46,725.4 648.79,726.35 649.12,727.25 649.45,728.11 649.77,728.93 650.1,729.69 650.43,730.41 650.76,731.09 651.09,731.71 651.42,732.28 651.74,732.82 652.07,733.3 652.4,733.75 652.73,734.15 653.06,734.51 653.38,734.84 653.71,735.11 654.04,735.35 654.37,735.53 654.7,735.63 655.02,735.72 655.35,735.75 655.68,735.75 656.01,735.73 656.34,735.68 656.66,735.61 656.99,735.61 657.32,735.49 657.65,735.33 657.98,735.27 658.31,735.08 658.63,734.95 658.96,734.78 659.29,734.5 659.62,734.31 659.95,734.15 660.27,733.87 660.6,733.76 660.93,733.5 661.26,733.18 661.59,733 661.91,732.86 662.24,732.55 662.57,732.35 662.9,732.08 663.23,731.9 663.55,731.8 663.88,731.61 664.21,731.39 664.54,731.2 664.87,730.85 665.2,730.64 665.52,730.47 665.85,730.37 666.18,730.25 666.51,729.96 666.84,729.91 667.16,729.68 667.49,729.72 667.82,729.44 668.15,729.1 668.48,729.23 668.8,729.15 669.13,728.88 669.46,728.54 669.79,728.44 670.12,728.53 670.44,728.43 670.77,728.27 671.1,728.26 671.43,728.03 671.76,727.97 672.09,728.01 672.41,727.8 672.74,727.67 673.07,727.65 673.4,727.6 673.73,727.26 674.05,727.05 674.38,727.26 674.71,727.21 675.04,727.02 675.37,727.06 675.69,727.07 676.02,726.72 676.35,726.99 676.68,726.9 677.01,726.83 677.34,726.81 677.66,726.67 677.99,726.51 678.32,726.34 678.65,726.4 678.98,726.44 679.3,726.58 679.63,726.37 679.96,726.45 680.29,726.29 680.62,726.1 680.94,726.17 681.27,726.19 681.6,726.24 681.93,726.1 682.26,726.05 682.58,726.17 682.91,726.08 683.24,725.85 683.57,726.19 683.9,725.99 684.23,726.07 684.55,725.64 684.88,725.75 685.21,725.74 685.54,725.73 685.87,725.72 686.19,725.7 686.52,725.95 686.85,725.65 687.18,725.58 687.51,725.87 687.83,725.51 688.16,725.52 688.49,725.83 688.82,725.66 689.15,725.63 689.47,725.65 689.8,725.51 690.13,725.76 690.46,725.6 690.79,725.54 691.12,725.46 691.44,725.57 691.77,725.61 692.1,725.48 692.43,725.89 692.76,725.45 693.08,725.64 693.41,725.79 693.74,725.67 694.07,725.89 694.4,725.93 694.72,725.68 695.05,725.76 695.38,725.54 695.71,725.79 696.04,725.86 696.36,725.82 696.69,725.43 697.02,725.7 697.35,725.8 697.68,725.87 698.01,725.9 698.33,725.77 698.66,725.69 698.99,725.6 699.32,725.62 699.65,725.77 699.97,725.92 700.3,725.98 700.63,726.22 700.96,726.05 701.29,725.87 701.61,726.01 701.94,725.94 702.27,726.22 702.6,725.93 702.93,726.06 703.25,726.13 703.58,726.12 703.91,726.54 704.24,726.34 704.57,726.43 704.9,726.09 705.22,726.42 705.55,726.51 705.88,726.37 706.21,726.68 706.54,726.38 706.86,726.73 707.19,726.69 707.52,726.87 707.85,726.69 708.18,727.16 708.5,726.84 708.83,727.11 709.16,727.06 709.49,727.3 709.82,727.19 710.15,727.28 710.47,727.31 710.8,727.43 711.13,727.47 711.46,727.51 711.79,727.78 712.11,727.97 712.44,728.07 712.77,727.92 713.1,728.15 713.43,728.07 713.75,728.3 714.08,728.54 714.41,728.43 714.74,728.43 715.07,728.8 715.39,729.01 715.72,729.13 716.05,729.07 716.38,729.36 716.71,729.48 717.04,729.5 717.36,729.71 717.69,729.84 718.02,730.04 718.35,730.18 718.68,730.24 719,730.38 719.33,730.48 719.66,730.72 719.99,730.79 720.32,730.92 720.64,731.1 720.97,731.2 721.3,731.3 721.63,731.51 721.96,731.65 722.28,731.85 722.61,731.87 722.94,732.02 723.27,732.15 723.6,732.28 723.93,732.28 724.25,732.24 724.58,732.45 724.91,732.53 725.24,732.56 725.57,732.65 725.89,732.63 726.22,732.66 726.55,732.63 726.88,732.54 727.21,732.47 727.53,732.38 727.86,732.28 728.19,732.06 728.52,731.9 728.85,731.57 729.17,731.31 729.5,730.93 729.83,730.49 730.16,730.02 730.49,729.53 730.82,728.88 731.14,728.18 731.47,727.46 731.8,726.65 732.13,725.69 732.46,724.71 732.78,723.65 733.11,722.53 733.44,721.34 733.77,720.08 734.1,718.73 734.42,717.36 734.75,715.91 735.08,714.43 735.41,712.87 735.74,711.31 736.06,709.69 736.39,708.09 736.72,706.44 737.05,704.81 737.38,703.21 737.71,701.62 738.03,700.1 738.36,698.63 738.69,697.22 739.02,695.89 739.35,694.65 739.67,693.52 740,692.5 740.33,691.59 740.66,690.82 740.99,690.18 741.31,689.69 741.64,689.33 741.97,689.13 742.3,689.08 742.63,689.16 742.96,689.36 743.28,689.67 743.61,690.1 743.94,690.64 744.27,691.28 744.6,692.03 744.92,692.87 745.25,693.8 745.58,694.82 745.91,695.92 746.24,697.08 746.56,698.31 746.89,699.59 747.22,700.92 747.55,702.29 747.88,703.68 748.2,705.1 748.53,706.54 748.86,707.98 749.19,709.42 749.52,710.86 749.85,712.28 750.17,713.68 750.5,715.05 750.83,716.39 751.16,717.7 751.49,718.97 751.81,720.19 752.14,721.37 752.47,722.49 752.8,723.57 753.13,724.59 753.45,725.55 753.78,726.46 754.11,727.32 754.44,728.12 754.77,728.87 755.09,729.56 755.42,730.2 755.75,730.79 756.08,731.33 756.41,731.82 756.74,732.27 757.06,732.68 757.39,733.04 757.72,733.37 758.05,733.66 758.38,733.92 758.7,734.15 759.03,734.35 759.36,734.52 759.69,734.68 760.02,734.81 760.34,734.92 760.67,735.02 761,735.11 761.33,735.18 761.66,735.24 761.98,735.3 762.31,735.34 762.64,735.39 762.97,735.43 763.3,735.46 763.63,735.5 763.95,735.53 764.28,735.57 764.61,735.6 764.94,735.64 765.27,735.68 765.59,735.72 765.92,735.76 766.25,735.81 766.58,735.86 766.91,735.92 767.23,735.97 767.56,736.03 767.89,736.1 768.22,736.16 768.55,736.23 768.88,736.3 769.2,736.37 769.53,736.44 769.86,736.52 770.19,736.59 770.52,736.67 770.84,736.74 771.17,736.82 771.5,736.89 771.83,736.97 772.16,737.04 772.48,737.11 772.81,737.18 773.14,737.25 773.47,737.32 773.8,737.38 774.12,737.44 774.45,737.5 774.78,737.56 775.11,737.61 775.44,737.66 775.77,737.71 776.09,737.75 776.42,737.8 776.75,737.84 777.08,737.87 777.41,737.91 777.73,737.94 778.06,737.97 778.39,738 778.72,738.02 779.05,738.04 779.37,738.07 779.7,738.08 780.03,738.1 780.36,738.12 780.69,738.13 781.01,738.14 781.34,738.16 781.67,738.17 782,738.18 782.33,738.18 782.66,738.19 782.98,738.2 783.31,738.2 783.64,738.21 783.97,738.21 784.3,738.22 784.62,738.22 784.95,738.22 785.28,738.23" fill="none" stroke="#e21f26" stroke-width="1.7" stroke-linejoin="round"/>
<polyline points="522.8,738.24 523.13,738.24 523.46,738.24 523.78,738.24 524.11,738.24 524.44,738.24 524.77,738.24 525.1,738.24 525.42,738.24 525.75,738.24 526.08,738.24 526.41,738.24 526.74,738.24 527.07,738.24 527.39,738.24 527.72,738.24 528.05,738.24 528.38,738.24 528.71,738.24 529.03,738.24 529.36,738.24 529.69,738.24 530.02,738.24 530.35,738.24 530.67,738.24 531,738.24 531.33,738.24 531.66,738.24 531.99,738.24 532.31,738.24 532.64,738.24 532.97,738.24 533.3,738.24 533.63,738.24 533.96,738.24 534.28,738.24 534.61,738.24 534.94,738.24 535.27,738.24 535.6,738.24 535.92,738.24 536.25,738.24 536.58,738.24 536.91,738.24 537.24,738.24 537.56,738.24 537.89,738.24 538.22,738.24 538.55,738.24 538.88,738.24 539.2,738.24 539.53,738.24 539.86,738.24 540.19,738.24 540.52,738.24 540.85,738.24 541.17,738.24 541.5,738.24 541.83,738.24 542.16,738.24 542.49,738.24 542.81,738.24 543.14,738.24 543.47,738.24 543.8,738.24 544.13,738.24 544.45,738.24 544.78,738.24 545.11,738.24 545.44,738.24 545.77,738.24 546.1,738.24 546.42,738.24 546.75,738.24 547.08,738.24 547.41,738.24 547.74,738.24 548.06,738.24 548.39,738.24 548.72,738.24 549.05,738.24 549.38,738.24 549.7,738.24 550.03,738.24 550.36,738.24 550.69,738.24 551.02,738.24 551.34,738.24 551.67,738.24 552,738.24 552.33,738.24 552.66,738.24 552.99,738.24 553.31,738.24 553.64,738.24 553.97,738.24 554.3,738.24 554.63,738.24 554.95,738.24 555.28,738.24 555.61,738.24 555.94,738.24 556.27,738.24 556.59,738.24 556.92,738.24 557.25,738.24 557.58,738.24 557.91,738.24 558.23,738.24 558.56,738.24 558.89,738.24 559.22,738.24 559.55,738.24 559.88,738.24 560.2,738.24 560.53,738.24 560.86,738.24 561.19,738.24 561.52,738.24 561.84,738.24 562.17,738.24 562.5,738.24 562.83,738.24 563.16,738.24 563.48,738.24 563.81,738.24 564.14,738.24 564.47,738.24 564.8,738.24 565.12,738.24 565.45,738.24 565.78,738.24 566.11,738.24 566.44,738.24 566.77,738.24 567.09,738.24 567.42,738.24 567.75,738.23 568.08,738.23 568.41,738.23 568.73,738.23 569.06,738.22 569.39,738.21 569.72,738.2 570.05,738.19 570.37,738.17 570.7,738.14 571.03,738.11 571.36,738.08 571.69,738.03 572.01,737.97 572.34,737.9 572.67,737.81 573,737.71 573.33,737.59 573.66,737.45 573.98,737.29 574.31,737.11 574.64,736.91 574.97,736.68 575.3,736.44 575.62,736.18 575.95,735.9 576.28,735.62 576.61,735.33 576.94,735.04 577.26,734.75 577.59,734.48 577.92,734.23 578.25,734 578.58,733.81 578.91,733.65 579.23,733.54 579.56,733.46 579.89,733.44 580.22,733.46 580.55,733.54 580.87,733.65 581.2,733.81 581.53,734 581.86,734.23 582.19,734.48 582.51,734.75 582.84,735.04 583.17,735.33 583.5,735.62 583.83,735.9 584.15,736.18 584.48,736.44 584.81,736.68 585.14,736.91 585.47,737.11 585.8,737.29 586.12,737.45 586.45,737.59 586.78,737.71 587.11,737.81 587.44,737.9 587.76,737.97 588.09,738.03 588.42,738.08 588.75,738.11 589.08,738.14 589.4,738.17 589.73,738.19 590.06,738.2 590.39,738.21 590.72,738.22 591.04,738.23 591.37,738.23 591.7,738.23 592.03,738.23 592.36,738.24 592.69,738.24 593.01,738.24 593.34,738.24 593.67,738.24 594,738.24 594.33,738.24 594.65,738.24 594.98,738.24 595.31,738.24 595.64,738.24 595.97,738.24 596.29,738.24 596.62,738.24 596.95,738.24 597.28,738.24 597.61,738.24 597.93,738.24 598.26,738.24 598.59,738.24 598.92,738.24 599.25,738.24 599.58,738.24 599.9,738.24 600.23,738.24 600.56,738.24 600.89,738.24 601.22,738.24 601.54,738.24 601.87,738.24 602.2,738.24 602.53,738.24 602.86,738.24 603.18,738.24 603.51,738.24 603.84,738.24 604.17,738.24 604.5,738.24 604.82,738.24 605.15,738.24 605.48,738.24 605.81,738.24 606.14,738.24 606.47,738.24 606.79,738.24 607.12,738.24 607.45,738.24 607.78,738.24 608.11,738.24 608.43,738.23 608.76,738.23 609.09,738.23 609.42,738.23 609.75,738.23 610.07,738.23 610.4,738.23 610.73,738.22 611.06,738.22 611.39,738.22 611.72,738.21 612.04,738.21 612.37,738.2 612.7,738.2 613.03,738.19 613.36,738.18 613.68,738.17 614.01,738.17 614.34,738.16 614.67,738.14 615,738.13 615.32,738.12 615.65,738.11 615.98,738.09 616.31,738.08 616.64,738.06 616.96,738.04 617.29,738.02 617.62,738 617.95,737.98 618.28,737.96 618.61,737.94 618.93,737.92 619.26,737.89 619.59,737.87 619.92,737.85 620.25,737.82 620.57,737.8 620.9,737.77 621.23,737.74 621.56,737.72 621.89,737.69 622.21,737.66 622.54,737.63 622.87,737.6 623.2,737.57 623.53,737.53 623.85,737.49 624.18,737.45 624.51,737.4 624.84,737.35 625.17,737.29 625.5,737.22 625.82,737.15 626.15,737.06 626.48,736.97 626.81,736.86 627.14,736.74 627.46,736.6 627.79,736.45 628.12,736.27 628.45,736.08 628.78,735.86 629.1,735.63 629.43,735.37 629.76,735.08 630.09,734.77 630.42,734.43 630.74,734.07 631.07,733.68 631.4,733.26 631.73,732.82 632.06,732.35 632.39,731.87 632.71,731.36 633.04,730.83 633.37,730.29 633.7,729.73 634.03,729.17 634.35,728.6 634.68,728.02 635.01,727.46 635.34,726.9 635.67,726.35 635.99,725.82 636.32,725.32 636.65,724.84 636.98,724.4 637.31,723.99 637.63,723.63 637.96,723.31 638.29,723.03 638.62,722.82 638.95,722.65 639.28,722.54 639.6,722.49 639.93,722.5 640.26,722.55 640.59,722.64 640.92,722.78 641.24,722.96 641.57,723.18 641.9,723.43 642.23,723.73 642.56,724.06 642.88,724.42 643.21,724.81 643.54,725.22 643.87,725.66 644.2,726.12 644.53,726.59 644.85,727.08 645.18,727.58 645.51,728.08 645.84,728.59 646.17,729.1 646.49,729.6 646.82,730.1 647.15,730.6 647.48,731.08 647.81,731.55 648.13,732.01 648.46,732.45 648.79,732.88 649.12,733.29 649.45,733.68 649.77,734.04 650.1,734.39 650.43,734.71 650.76,735.02 651.09,735.3 651.42,735.56 651.74,735.8 652.07,736.02 652.4,736.22 652.73,736.4 653.06,736.56 653.38,736.71 653.71,736.83 654.04,736.94 654.37,737.02 654.7,737.07 655.02,737.11 655.35,737.13 655.68,737.13 656.01,737.13 656.34,737.1 656.66,737.08 656.99,737.08 657.32,737.02 657.65,736.96 657.98,736.93 658.31,736.85 658.63,736.79 658.96,736.72 659.29,736.59 659.62,736.51 659.95,736.44 660.27,736.32 660.6,736.27 660.93,736.16 661.26,736.02 661.59,735.94 661.91,735.87 662.24,735.74 662.57,735.65 662.9,735.53 663.23,735.46 663.55,735.41 663.88,735.33 664.21,735.23 664.54,735.14 664.87,734.99 665.2,734.9 665.52,734.83 665.85,734.78 666.18,734.73 666.51,734.6 666.84,734.58 667.16,734.48 667.49,734.5 667.82,734.37 668.15,734.22 668.48,734.28 668.8,734.25 669.13,734.13 669.46,733.98 669.79,733.93 670.12,733.97 670.44,733.93 670.77,733.86 671.1,733.85 671.43,733.75 671.76,733.73 672.09,733.75 672.41,733.65 672.74,733.59 673.07,733.59 673.4,733.57 673.73,733.41 674.05,733.32 674.38,733.42 674.71,733.39 675.04,733.31 675.37,733.33 675.69,733.33 676.02,733.18 676.35,733.3 676.68,733.26 677.01,733.23 677.34,733.22 677.66,733.16 677.99,733.08 678.32,733.01 678.65,733.04 678.98,733.06 679.3,733.12 679.63,733.02 679.96,733.06 680.29,732.99 680.62,732.9 680.94,732.94 681.27,732.95 681.6,732.97 681.93,732.91 682.26,732.88 682.58,732.94 682.91,732.9 683.24,732.79 683.57,732.95 683.9,732.86 684.23,732.89 684.55,732.7 684.88,732.75 685.21,732.75 685.54,732.74 685.87,732.74 686.19,732.73 686.52,732.84 686.85,732.71 687.18,732.68 687.51,732.8 687.83,732.65 688.16,732.65 688.49,732.79 688.82,732.71 689.15,732.7 689.47,732.71 689.8,732.65 690.13,732.76 690.46,732.69 690.79,732.66 691.12,732.63 691.44,732.67 691.77,732.69 692.1,732.63 692.43,732.81 692.76,732.62 693.08,732.7 693.41,732.77 693.74,732.72 694.07,732.82 694.4,732.83 694.72,732.72 695.05,732.76 695.38,732.66 695.71,732.77 696.04,732.8 696.36,732.78 696.69,732.61 697.02,732.73 697.35,732.78 697.68,732.81 698.01,732.82 698.33,732.76 698.66,732.73 698.99,732.69 699.32,732.69 699.65,732.76 699.97,732.83 700.3,732.85 700.63,732.96 700.96,732.88 701.29,732.8 701.61,732.87 701.94,732.84 702.27,732.96 702.6,732.83 702.93,732.89 703.25,732.92 703.58,732.91 703.91,733.1 704.24,733.01 704.57,733.05 704.9,732.9 705.22,733.05 705.55,733.09 705.88,733.02 706.21,733.16 706.54,733.03 706.86,733.18 707.19,733.17 707.52,733.24 707.85,733.17 708.18,733.37 708.5,733.23 708.83,733.35 709.16,733.33 709.49,733.43 709.82,733.39 710.15,733.42 710.47,733.44 710.8,733.49 711.13,733.51 711.46,733.53 711.79,733.64 712.11,733.73 712.44,733.77 712.77,733.71 713.1,733.81 713.43,733.77 713.75,733.87 714.08,733.98 714.41,733.93 714.74,733.93 715.07,734.09 715.39,734.18 715.72,734.23 716.05,734.21 716.38,734.34 716.71,734.39 717.04,734.4 717.36,734.49 717.69,734.54 718.02,734.63 718.35,734.69 718.68,734.72 719,734.78 719.33,734.82 719.66,734.92 719.99,734.95 720.32,735 720.64,735.07 720.97,735.11 721.3,735.15 721.63,735.23 721.96,735.28 722.28,735.36 722.61,735.35 722.94,735.4 723.27,735.44 723.6,735.47 723.93,735.45 724.25,735.4 724.58,735.46 724.91,735.46 725.24,735.43 725.57,735.42 725.89,735.36 726.22,735.31 726.55,735.23 726.88,735.12 727.21,735 727.53,734.88 727.86,734.74 728.19,734.53 728.52,734.35 728.85,734.08 729.17,733.84 729.5,733.53 729.83,733.19 730.16,732.83 730.49,732.45 730.82,732 731.14,731.51 731.47,731.01 731.8,730.48 732.13,729.87 732.46,729.25 732.78,728.6 733.11,727.92 733.44,727.22 733.77,726.49 734.1,725.73 734.42,724.97 734.75,724.2 735.08,723.41 735.41,722.62 735.74,721.84 736.06,721.05 736.39,720.29 736.72,719.54 737.05,718.82 737.38,718.13 737.71,717.48 738.03,716.88 738.36,716.33 738.69,715.83 739.02,715.39 739.35,715.02 739.67,714.72 740,714.49 740.33,714.32 740.66,714.24 740.99,714.22 741.31,714.27 741.64,714.37 741.97,714.53 742.3,714.74 742.63,715 742.96,715.32 743.28,715.68 743.61,716.09 743.94,716.55 744.27,717.05 744.6,717.58 744.92,718.15 745.25,718.76 745.58,719.38 745.91,720.03 746.24,720.7 746.56,721.39 746.89,722.08 747.22,722.79 747.55,723.49 747.88,724.2 748.2,724.9 748.53,725.6 748.86,726.29 749.19,726.96 749.52,727.62 749.85,728.27 750.17,728.89 750.5,729.49 750.83,730.07 751.16,730.63 751.49,731.16 751.81,731.66 752.14,732.14 752.47,732.59 752.8,733.01 753.13,733.41 753.45,733.78 753.78,734.12 754.11,734.44 754.44,734.73 754.77,735 755.09,735.24 755.42,735.46 755.75,735.66 756.08,735.84 756.41,736 756.74,736.15 757.06,736.28 757.39,736.39 757.72,736.48 758.05,736.57 758.38,736.64 758.7,736.7 759.03,736.75 759.36,736.79 759.69,736.83 760.02,736.86 760.34,736.88 760.67,736.9 761,736.91 761.33,736.93 761.66,736.93 761.98,736.94 762.31,736.95 762.64,736.95 762.97,736.96 763.3,736.96 763.63,736.97 763.95,736.98 764.28,736.99 764.61,737 764.94,737.01 765.27,737.02 765.59,737.04 765.92,737.05 766.25,737.07 766.58,737.1 766.91,737.12 767.23,737.14 767.56,737.17 767.89,737.2 768.22,737.23 768.55,737.26 768.88,737.3 769.2,737.33 769.53,737.37 769.86,737.4 770.19,737.44 770.52,737.47 770.84,737.51 771.17,737.55 771.5,737.58 771.83,737.62 772.16,737.66 772.48,737.69 772.81,737.72 773.14,737.76 773.47,737.79 773.8,737.82 774.12,737.85 774.45,737.88 774.78,737.91 775.11,737.93 775.44,737.96 775.77,737.98 776.09,738 776.42,738.02 776.75,738.04 777.08,738.06 777.41,738.08 777.73,738.09 778.06,738.11 778.39,738.12 778.72,738.13 779.05,738.14 779.37,738.15 779.7,738.16 780.03,738.17 780.36,738.18 780.69,738.19 781.01,738.19 781.34,738.2 781.67,738.2 782,738.21 782.33,738.21 782.66,738.22 782.98,738.22 783.31,738.22 783.64,738.22 783.97,738.23 784.3,738.23 784.62,738.23 784.95,738.23 785.28,738.23" fill="none" stroke="#1212d6" stroke-width="1.7" stroke-linejoin="round"/>
</g>
<path d="M522.8 549.8 L522.8 741.6 L785.98 741.6" fill="none" stroke="#111" stroke-width="1.5" stroke-linecap="square"/>
<path d="M517.6 741.6L522.8 741.6M517.6 703.2L522.8 703.2M517.6 664.8L522.8 664.8M517.6 626.4L522.8 626.4M517.6 588L522.8 588M517.6 549.6L522.8 549.6M522.8 741.6L522.8 747.2M588.42 741.6L588.42 747.2M654.04 741.6L654.04 747.2M719.66 741.6L719.66 747.2M785.28 741.6L785.28 747.2" fill="none" stroke="#111" stroke-width="1.5" />
<text x="514.8" y="746.4" font-size="13.4" font-weight="bold" fill="#111" text-anchor="end" >0</text>
<text x="514.8" y="708" font-size="13.4" font-weight="bold" fill="#111" text-anchor="end" >2</text>
<text x="514.8" y="669.6" font-size="13.4" font-weight="bold" fill="#111" text-anchor="end" >4</text>
<text x="514.8" y="631.2" font-size="13.4" font-weight="bold" fill="#111" text-anchor="end" >6</text>
<text x="514.8" y="592.8" font-size="13.4" font-weight="bold" fill="#111" text-anchor="end" >8</text>
<text x="514.8" y="554.4" font-size="13.4" font-weight="bold" fill="#111" text-anchor="end" >10</text>
<text x="522.8" y="760" font-size="12.6" font-weight="bold" fill="#111" text-anchor="middle" >300</text>
<text x="588.42" y="760" font-size="12.6" font-weight="bold" fill="#111" text-anchor="middle" >400</text>
<text x="654.04" y="760" font-size="12.6" font-weight="bold" fill="#111" text-anchor="middle" >500</text>
<text x="719.66" y="760" font-size="12.6" font-weight="bold" fill="#111" text-anchor="middle" >600</text>
<text x="785.28" y="760" font-size="12.6" font-weight="bold" fill="#111" text-anchor="middle" >700</text>
<text x="669" y="772" font-size="13" font-weight="bold" fill="#111" text-anchor="middle" textLength="106" lengthAdjust="spacingAndGlyphs" >Wavelength (nm)</text>
<g transform="translate(496.8 644.2) rotate(-90)"><text x="0" y="0" font-size="13.1" font-weight="bold" fill="#111" text-anchor="middle" >Counts (a.u.×10<tspan font-size="7.6" dy="-4.4">4</tspan><tspan dy="4.4">)</tspan></text></g>
<line x1="675.2" y1="553.6" x2="686.8" y2="553.6" stroke="#1212d6" stroke-width="1.7" />
<text x="689.8" y="557.1" font-size="10.5" font-weight="normal" fill="#111" text-anchor="start" textLength="67.6" lengthAdjust="spacingAndGlyphs" >0.692 mW/cm²</text>
<line x1="675.2" y1="567.95" x2="686.8" y2="567.95" stroke="#e21f26" stroke-width="1.7" />
<text x="689.8" y="571.45" font-size="10.5" font-weight="normal" fill="#111" text-anchor="start" textLength="67.6" lengthAdjust="spacingAndGlyphs" >1.525 mW/cm²</text>
<line x1="675.2" y1="582.3" x2="686.8" y2="582.3" stroke="#27c234" stroke-width="1.7" />
<text x="689.8" y="585.8" font-size="10.5" font-weight="normal" fill="#111" text-anchor="start" textLength="67.6" lengthAdjust="spacingAndGlyphs" >2.689 mW/cm²</text>
<line x1="675.2" y1="596.65" x2="686.8" y2="596.65" stroke="#b224e0" stroke-width="1.7" />
<text x="689.8" y="600.15" font-size="10.5" font-weight="normal" fill="#111" text-anchor="start" textLength="67.6" lengthAdjust="spacingAndGlyphs" >3.742 mW/cm²</text>
<line x1="675.2" y1="611" x2="686.8" y2="611" stroke="#ff8c1a" stroke-width="1.7" />
<text x="689.8" y="614.5" font-size="10.5" font-weight="normal" fill="#111" text-anchor="start" textLength="67.6" lengthAdjust="spacingAndGlyphs" >4.559 mW/cm²</text>
<path d="M561.2 549.8 L561.2 617.8 L662.8 617.8" fill="none" stroke="#111" stroke-width="1.2" stroke-linecap="square"/>
<path d="M558.2 617.8L561.2 617.8M558.2 595.14L561.2 595.14M558.2 572.48L561.2 572.48M558.2 549.82L561.2 549.82M561.2 617.8L561.2 621M581.52 617.8L581.52 621M601.84 617.8L601.84 621M622.16 617.8L622.16 621M642.48 617.8L642.48 621M662.8 617.8L662.8 621" fill="none" stroke="#111" stroke-width="1.2" />
<text x="557.2" y="621.4" font-size="10" font-weight="bold" fill="#111" text-anchor="end" >0</text>
<text x="557.2" y="598.74" font-size="10" font-weight="bold" fill="#111" text-anchor="end" >2</text>
<text x="557.2" y="576.08" font-size="10" font-weight="bold" fill="#111" text-anchor="end" >4</text>
<text x="557.2" y="553.42" font-size="10" font-weight="bold" fill="#111" text-anchor="end" >6</text>
<text x="561.5" y="630.4" font-size="10" font-weight="bold" fill="#111" text-anchor="middle" >0</text>
<text x="581.82" y="630.4" font-size="10" font-weight="bold" fill="#111" text-anchor="middle" >1</text>
<text x="602.14" y="630.4" font-size="10" font-weight="bold" fill="#111" text-anchor="middle" >2</text>
<text x="622.46" y="630.4" font-size="10" font-weight="bold" fill="#111" text-anchor="middle" >3</text>
<text x="642.78" y="630.4" font-size="10" font-weight="bold" fill="#111" text-anchor="middle" >4</text>
<text x="663.1" y="630.4" font-size="10" font-weight="bold" fill="#111" text-anchor="middle" >5</text>
<text x="609.4" y="638.2" font-size="10.3" font-weight="bold" fill="#111" text-anchor="middle" textLength="81.2" lengthAdjust="spacingAndGlyphs" >Power (mW/cm²)</text>
<text x="607.6" y="558.2" font-size="10.5" font-weight="bold" fill="#111" text-anchor="middle" textLength="55.2" lengthAdjust="spacingAndGlyphs" >R² = 0.9978</text>
<g transform="translate(545.8 584.4) rotate(-90)"><text x="0" y="0" font-size="9.7" font-weight="bold" fill="#111" text-anchor="middle" >Total Area (×10<tspan font-size="5.8" dy="-3">6</tspan><tspan dy="3">)</tspan></text></g>
<line x1="575.2" y1="601.8" x2="653.2" y2="559" stroke="#111" stroke-width="1.1" />
<circle cx="575.2" cy="601.8" r="1.6" fill="#111" stroke="none" stroke-width="1" />
<circle cx="592.8" cy="591.8" r="1.6" fill="#111" stroke="none" stroke-width="1" />
<circle cx="616" cy="577" r="1.6" fill="#111" stroke="none" stroke-width="1" />
<circle cx="637.2" cy="567" r="1.6" fill="#111" stroke="none" stroke-width="1" />
<circle cx="653.2" cy="559" r="1.6" fill="#111" stroke="none" stroke-width="1" />
</g>
</svg>
</body></html>
